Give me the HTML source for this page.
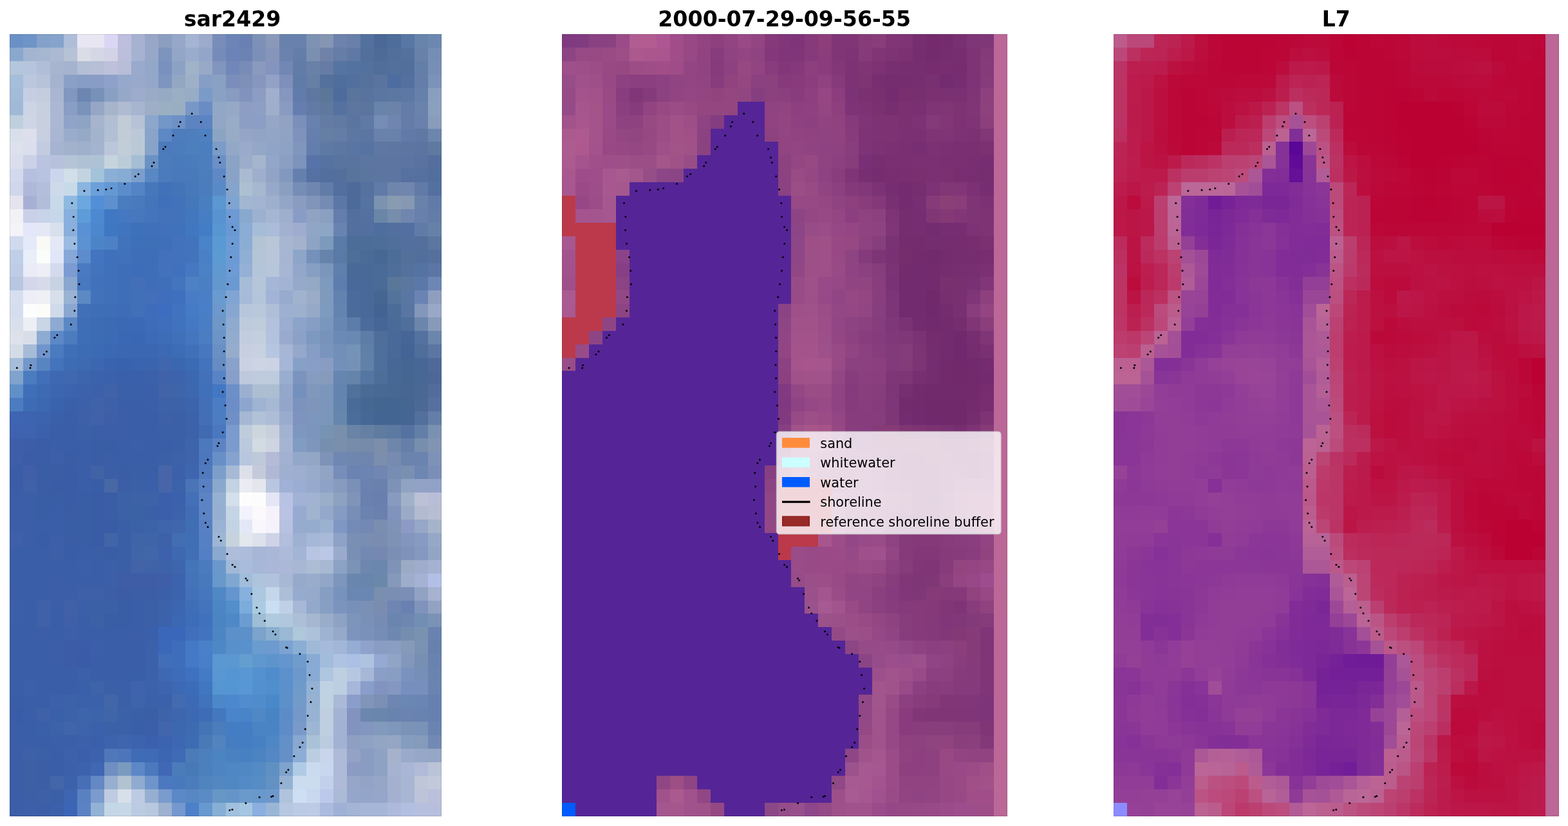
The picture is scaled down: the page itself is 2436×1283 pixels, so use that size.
<!DOCTYPE html>
<html lang="en"><head><meta charset="utf-8"><title>sar2429 shoreline detection</title>
<style>
html,body{margin:0;padding:0;background:#fff;}
body{width:2436px;height:1283px;overflow:hidden;position:relative;font-family:"DejaVu Sans","Liberation Sans",sans-serif;}
svg{position:absolute;left:0;top:0;display:block}
svg text{font-family:"DejaVu Sans","Liberation Sans",sans-serif;}
</style></head><body>
<svg width="2436" height="1283" viewBox="0 0 2436 1283">
<g shape-rendering="crispEdges">
<g id="rgb"><path fill="#6b90c6" d="M15 53h21v21h-21z"/>
<path fill="#6e94c8" d="M36 53h21v21h-21z"/>
<path fill="#83a1ca" d="M57 53h21v21h-21z"/>
<path fill="#85a3cb" d="M78 53h21v21h-21z"/>
<path fill="#afbdd9" d="M99 53h21v21h-21z"/>
<path fill="#e8e6f3" d="M120 53h21v21h-21z"/>
<path fill="#e9e5f3" d="M141 53h21v21h-21z"/>
<path fill="#dcd6f5" d="M162 53h21v21h-21z"/>
<path fill="#bebfde" d="M183 53h21v21h-21z"/>
<path fill="#a7b2d3" d="M204 53h21v21h-21z"/>
<path fill="#98a6c7" d="M225 53h21v21h-21z"/>
<path fill="#8c9ec0" d="M246 53h21v21h-21z"/>
<path fill="#96a7c9" d="M267 53h21v21h-21z"/>
<path fill="#a6b4d3" d="M288 53h21v21h-21z"/>
<path fill="#9caacb" d="M309 53h21v21h-21z"/>
<path fill="#788db9" d="M330 53h21v21h-21z"/>
<path fill="#6c85b6" d="M351 53h21v21h-21z"/>
<path fill="#6880b3" d="M372 53h20v21h-20z"/>
<path fill="#7d91b7" d="M392 53h21v21h-21z"/>
<path fill="#8b99b9" d="M413 53h21v21h-21z"/>
<path fill="#6982ad" d="M434 53h21v21h-21z"/>
<path fill="#6882ad" d="M455 53h21v21h-21z"/>
<path fill="#7e92b3" d="M476 53h21v21h-21z"/>
<path fill="#8596b3" d="M497 53h21v21h-21z"/>
<path fill="#6d82ad" d="M518 53h21v21h-21z"/>
<path fill="#6980aa" d="M539 53h21v21h-21z"/>
<path fill="#53719f" d="M560 53h21v21h-21z"/>
<path fill="#4c6896" d="M581 53h21v21h-21z"/>
<path fill="#4f6d9b" d="M602 53h21v21h-21z"/>
<path fill="#5977a5" d="M623 53h21v21h-21z"/>
<path fill="#6884ab" d="M644 53h21v21h-21z"/>
<path fill="#6c88b0" d="M665 53h21v21h-21z"/>
<path fill="#8aa8cd" d="M15 74h21v21h-21zM330 744h21v21h-21z"/>
<path fill="#a2b4d1" d="M36 74h21v21h-21zM392 304h21v21h-21z"/>
<path fill="#a5b6d0" d="M57 74h21v21h-21z"/>
<path fill="#abb9d1" d="M78 74h21v21h-21z"/>
<path fill="#b6c2d5" d="M99 74h21v21h-21z"/>
<path fill="#dadce6" d="M120 74h21v21h-21z"/>
<path fill="#d5d7e6" d="M141 74h21v21h-21z"/>
<path fill="#d3d2e7" d="M162 74h21v21h-21z"/>
<path fill="#bcbfdb" d="M183 74h21v21h-21z"/>
<path fill="#a6b2d1" d="M204 74h21v21h-21z"/>
<path fill="#96a7c8" d="M225 74h21v21h-21z"/>
<path fill="#7d94bd" d="M246 74h21v21h-21z"/>
<path fill="#93a6c7" d="M267 74h21v21h-21z"/>
<path fill="#99accc" d="M288 74h21v21h-21z"/>
<path fill="#93a5c8" d="M309 74h21v21h-21z"/>
<path fill="#758bb9" d="M330 74h21v21h-21z"/>
<path fill="#6b83b6" d="M351 74h21v21h-21z"/>
<path fill="#6b83b3" d="M372 74h20v21h-20zM539 723h21v21h-21z"/>
<path fill="#7b8fb8" d="M392 74h21v21h-21z"/>
<path fill="#8695ba" d="M413 74h21v21h-21z"/>
<path fill="#6b82af" d="M434 74h21v21h-21z"/>
<path fill="#647eaa" d="M455 74h21v21h-21z"/>
<path fill="#7b8fb0" d="M476 74h21v21h-21z"/>
<path fill="#7182a9" d="M497 74h21v21h-21z"/>
<path fill="#657da7" d="M518 74h21v21h-21z"/>
<path fill="#6079a4" d="M539 74h21v21h-21zM644 200h21v20h-21z"/>
<path fill="#526f9c" d="M560 74h21v21h-21zM623 95h21v21h-21z"/>
<path fill="#4e6b98" d="M581 74h21v21h-21z"/>
<path fill="#526e9a" d="M602 74h21v21h-21z"/>
<path fill="#54719e" d="M623 74h21v21h-21z"/>
<path fill="#6781a8" d="M644 74h21v21h-21z"/>
<path fill="#758eb3" d="M665 74h21v21h-21z"/>
<path fill="#b4c6db" d="M15 95h21v21h-21z"/>
<path fill="#b6c5dd" d="M36 95h21v21h-21z"/>
<path fill="#b0bfd7" d="M57 95h21v21h-21z"/>
<path fill="#a7b5cf" d="M78 95h21v21h-21z"/>
<path fill="#a5b3ce" d="M99 95h21v21h-21z"/>
<path fill="#b3bfd4" d="M120 95h21v21h-21zM162 200h21v20h-21z"/>
<path fill="#b7bfd7" d="M141 95h21v21h-21z"/>
<path fill="#bec1d9" d="M162 95h21v21h-21z"/>
<path fill="#b8bdd8" d="M183 95h21v21h-21z"/>
<path fill="#99aacc" d="M204 95h21v21h-21z"/>
<path fill="#93a7c8" d="M225 95h21v21h-21z"/>
<path fill="#7992bd" d="M246 95h21v21h-21z"/>
<path fill="#8ca2c5" d="M267 95h21v21h-21z"/>
<path fill="#a1b3c9" d="M288 95h21v21h-21z"/>
<path fill="#98a9c8" d="M309 95h21v21h-21z"/>
<path fill="#8295be" d="M330 95h21v21h-21z"/>
<path fill="#7287b9" d="M351 95h21v21h-21z"/>
<path fill="#788cb7" d="M372 95h20v21h-20z"/>
<path fill="#8a9abe" d="M392 95h21v21h-21z"/>
<path fill="#8494be" d="M413 95h21v21h-21z"/>
<path fill="#7287b3" d="M434 95h21v21h-21z"/>
<path fill="#627ca8" d="M455 95h21v21h-21z"/>
<path fill="#6980a7" d="M476 95h21v21h-21z"/>
<path fill="#667ca4" d="M497 95h21v21h-21z"/>
<path fill="#5674a1" d="M518 95h21v21h-21z"/>
<path fill="#54729f" d="M539 95h21v21h-21z"/>
<path fill="#54709d" d="M560 95h21v21h-21z"/>
<path fill="#516e9b" d="M581 95h21v21h-21z"/>
<path fill="#53709c" d="M602 95h21v21h-21z"/>
<path fill="#647fa7" d="M644 95h21v21h-21z"/>
<path fill="#778fb4" d="M665 95h21v21h-21z"/>
<path fill="#a5bed9" d="M15 116h21v21h-21z"/>
<path fill="#bac7df" d="M36 116h21v21h-21z"/>
<path fill="#b6c3d8" d="M57 116h21v21h-21z"/>
<path fill="#a6b3cf" d="M78 116h21v21h-21z"/>
<path fill="#8ba0c7" d="M99 116h21v21h-21z"/>
<path fill="#889dc5" d="M120 116h21v21h-21z"/>
<path fill="#899cc5" d="M141 116h21v21h-21z"/>
<path fill="#8ea1ca" d="M162 116h21v21h-21z"/>
<path fill="#96a8cb" d="M183 116h21v21h-21z"/>
<path fill="#98a9cc" d="M204 116h21v21h-21z"/>
<path fill="#95a7c9" d="M225 116h21v21h-21z"/>
<path fill="#7d95bf" d="M246 116h21v21h-21z"/>
<path fill="#93a7c3" d="M267 116h21v21h-21z"/>
<path fill="#9db0c8" d="M288 116h21v21h-21z"/>
<path fill="#869ec5" d="M309 116h21v21h-21zM476 535h21v21h-21z"/>
<path fill="#89a1c3" d="M330 116h21v21h-21z"/>
<path fill="#7b8ebb" d="M351 116h21v21h-21z"/>
<path fill="#7e8fb8" d="M372 116h20v21h-20z"/>
<path fill="#8696bf" d="M392 116h21v21h-21z"/>
<path fill="#92a1c5" d="M413 116h21v21h-21z"/>
<path fill="#7d8fba" d="M434 116h21v21h-21z"/>
<path fill="#617ba9" d="M455 116h21v21h-21z"/>
<path fill="#667fa5" d="M476 116h21v21h-21z"/>
<path fill="#54709c" d="M497 116h21v21h-21z"/>
<path fill="#506e9d" d="M518 116h21v21h-21z"/>
<path fill="#536f9d" d="M539 116h21v21h-21zM497 262h21v21h-21zM539 325h21v21h-21z"/>
<path fill="#55719c" d="M560 116h21v21h-21z"/>
<path fill="#59759f" d="M581 116h21v21h-21z"/>
<path fill="#4d6c9f" d="M602 116h21v21h-21z"/>
<path fill="#53709f" d="M623 116h21v21h-21z"/>
<path fill="#647ea9" d="M644 116h21v21h-21z"/>
<path fill="#7b93b8" d="M665 116h21v21h-21z"/>
<path fill="#a2bbd7" d="M15 137h21v21h-21z"/>
<path fill="#c5cfe4" d="M36 137h21v21h-21z"/>
<path fill="#c3cdde" d="M57 137h21v21h-21z"/>
<path fill="#aab6d1" d="M78 137h21v21h-21z"/>
<path fill="#8197c0" d="M99 137h21v21h-21z"/>
<path fill="#6c85b1" d="M120 137h21v21h-21z"/>
<path fill="#7791b9" d="M141 137h21v21h-21z"/>
<path fill="#89a0c4" d="M162 137h21v21h-21z"/>
<path fill="#96a8c8" d="M183 137h21v21h-21z"/>
<path fill="#9daccc" d="M204 137h21v21h-21z"/>
<path fill="#9aabc7" d="M225 137h21v21h-21zM623 786h21v21h-21z"/>
<path fill="#97aac4" d="M246 137h21v21h-21z"/>
<path fill="#9aaec4" d="M267 137h21v21h-21z"/>
<path fill="#97adc6" d="M288 137h21v21h-21z"/>
<path fill="#7a9ac8" d="M309 137h21v21h-21z"/>
<path fill="#89a2c3" d="M330 137h21v21h-21z"/>
<path fill="#889bc0" d="M351 137h21v21h-21z"/>
<path fill="#8293bd" d="M372 137h20v21h-20z"/>
<path fill="#8c9cc3" d="M392 137h21v21h-21z"/>
<path fill="#a1aecd" d="M413 137h21v21h-21z"/>
<path fill="#8596bf" d="M434 137h21v21h-21z"/>
<path fill="#617bab" d="M455 137h21v21h-21z"/>
<path fill="#5e77a1" d="M476 137h21v21h-21z"/>
<path fill="#5a7699" d="M497 137h21v21h-21z"/>
<path fill="#4d6b9d" d="M518 137h21v21h-21z"/>
<path fill="#5a749c" d="M539 137h21v21h-21z"/>
<path fill="#57739e" d="M560 137h21v21h-21z"/>
<path fill="#5b77a1" d="M581 137h21v21h-21z"/>
<path fill="#5c78a2" d="M602 137h21v21h-21z"/>
<path fill="#5d78a4" d="M623 137h21v21h-21z"/>
<path fill="#6580aa" d="M644 137h21v21h-21z"/>
<path fill="#8a9fbf" d="M665 137h21v21h-21z"/>
<path fill="#a0b9d7" d="M15 158h21v21h-21z"/>
<path fill="#cbd5e6" d="M36 158h21v21h-21z"/>
<path fill="#c7d0de" d="M57 158h21v21h-21z"/>
<path fill="#acb8d3" d="M78 158h21v21h-21zM78 179h21v21h-21z"/>
<path fill="#899dc5" d="M99 158h21v21h-21z"/>
<path fill="#7a93bb" d="M120 158h21v21h-21z"/>
<path fill="#96a7c5" d="M141 158h21v21h-21z"/>
<path fill="#a7b5cc" d="M162 158h21v21h-21z"/>
<path fill="#aebbd1" d="M183 158h21v21h-21z"/>
<path fill="#a7b5d0" d="M204 158h21v21h-21z"/>
<path fill="#9eaec7" d="M225 158h21v21h-21z"/>
<path fill="#9bafc3" d="M246 158h21v21h-21z"/>
<path fill="#9aaec3" d="M267 158h21v21h-21z"/>
<path fill="#7798c7" d="M288 158h21v21h-21z"/>
<path fill="#698cc5" d="M309 158h21v21h-21z"/>
<path fill="#91a7c6" d="M330 158h21v21h-21z"/>
<path fill="#95a8c5" d="M351 158h21v21h-21z"/>
<path fill="#8d9dc3" d="M372 158h20v21h-20z"/>
<path fill="#8e9fc5" d="M392 158h21v21h-21z"/>
<path fill="#9eaecb" d="M413 158h21v21h-21z"/>
<path fill="#8a9bc1" d="M434 158h21v21h-21z"/>
<path fill="#667eaf" d="M455 158h21v21h-21z"/>
<path fill="#627ba6" d="M476 158h21v21h-21z"/>
<path fill="#5e799d" d="M497 158h21v21h-21z"/>
<path fill="#54719f" d="M518 158h21v21h-21zM560 283h21v21h-21z"/>
<path fill="#5d769f" d="M539 158h21v21h-21z"/>
<path fill="#5b759f" d="M560 158h21v21h-21z"/>
<path fill="#6984aa" d="M581 158h21v21h-21z"/>
<path fill="#6b83a9" d="M602 158h21v21h-21z"/>
<path fill="#637ca8" d="M623 158h21v21h-21z"/>
<path fill="#6a83ac" d="M644 158h21v21h-21z"/>
<path fill="#8ba0bd" d="M665 158h21v21h-21z"/>
<path fill="#becfde" d="M15 179h21v21h-21z"/>
<path fill="#ced6e6" d="M36 179h21v21h-21z"/>
<path fill="#c8d0e0" d="M57 179h21v21h-21z"/>
<path fill="#90a3c8" d="M99 179h21v21h-21z"/>
<path fill="#8fa3c4" d="M120 179h21v21h-21z"/>
<path fill="#a6b4cd" d="M141 179h21v21h-21z"/>
<path fill="#b2bed1" d="M162 179h21v21h-21z"/>
<path fill="#c1ccd7" d="M183 179h21v21h-21zM183 200h21v20h-21z"/>
<path fill="#b6c2d6" d="M204 179h21v21h-21z"/>
<path fill="#8da6cb" d="M225 179h21v21h-21z"/>
<path fill="#7296c6" d="M246 179h21v21h-21z"/>
<path fill="#6d91c6" d="M267 179h21v21h-21z"/>
<path fill="#5c84c0" d="M288 179h21v21h-21z"/>
<path fill="#5c84c2" d="M309 179h21v21h-21z"/>
<path fill="#92a7c5" d="M330 179h21v21h-21z"/>
<path fill="#98abc7" d="M351 179h21v21h-21z"/>
<path fill="#8d9ec5" d="M372 179h20v21h-20z"/>
<path fill="#8c9ec5" d="M392 179h21v21h-21z"/>
<path fill="#95a6c7" d="M413 179h21v21h-21zM581 1205h21v21h-21z"/>
<path fill="#92a2c3" d="M434 179h21v21h-21zM644 912h21v21h-21zM665 933h21v20h-21z"/>
<path fill="#7b8fbb" d="M455 179h21v21h-21z"/>
<path fill="#6981ae" d="M476 179h21v21h-21z"/>
<path fill="#647ca4" d="M497 179h21v21h-21z"/>
<path fill="#607aa4" d="M518 179h21v21h-21z"/>
<path fill="#5c75a0" d="M539 179h21v21h-21z"/>
<path fill="#607aa6" d="M560 179h21v21h-21z"/>
<path fill="#758db4" d="M581 179h21v21h-21z"/>
<path fill="#7086b0" d="M602 179h21v21h-21z"/>
<path fill="#657ca9" d="M623 179h21v21h-21z"/>
<path fill="#6981ac" d="M644 179h21v21h-21z"/>
<path fill="#899dbb" d="M665 179h21v21h-21z"/>
<path fill="#d8dfe9" d="M15 200h21v20h-21z"/>
<path fill="#dde0ec" d="M36 200h21v20h-21z"/>
<path fill="#c7cfe1" d="M57 200h21v20h-21zM372 535h20v21h-20z"/>
<path fill="#a9b6d2" d="M78 200h21v20h-21z"/>
<path fill="#9aaccb" d="M99 200h21v20h-21z"/>
<path fill="#96aac7" d="M120 200h21v20h-21z"/>
<path fill="#a2b3cd" d="M141 200h21v20h-21z"/>
<path fill="#bbc8d7" d="M204 200h21v20h-21z"/>
<path fill="#8aa4c9" d="M225 200h21v20h-21z"/>
<path fill="#5c88c4" d="M246 200h21v20h-21zM120 451h21v21h-21z"/>
<path fill="#4e7cbd" d="M267 200h21v20h-21z"/>
<path fill="#4e7ebc" d="M288 200h21v20h-21z"/>
<path fill="#4f80bf" d="M309 200h21v20h-21z"/>
<path fill="#8ca4c3" d="M330 200h21v20h-21z"/>
<path fill="#97abc7" d="M351 200h21v20h-21z"/>
<path fill="#94a5c8" d="M372 200h20v20h-20z"/>
<path fill="#92a4c6" d="M392 200h21v20h-21z"/>
<path fill="#93a5c6" d="M413 200h21v20h-21z"/>
<path fill="#90a3c4" d="M434 200h21v20h-21z"/>
<path fill="#7e92bb" d="M455 200h21v20h-21z"/>
<path fill="#667eac" d="M476 200h21v20h-21z"/>
<path fill="#657ea4" d="M497 200h21v20h-21z"/>
<path fill="#647da6" d="M518 200h21v20h-21z"/>
<path fill="#5c77a2" d="M539 200h21v20h-21z"/>
<path fill="#5c76a3" d="M560 200h21v20h-21z"/>
<path fill="#6882ab" d="M581 200h21v20h-21z"/>
<path fill="#6982ab" d="M602 200h21v20h-21z"/>
<path fill="#627aa7" d="M623 200h21v20h-21zM665 304h21v21h-21z"/>
<path fill="#6d86ad" d="M665 200h21v20h-21z"/>
<path fill="#dde1ec" d="M15 220h21v21h-21z"/>
<path fill="#dbdeec" d="M36 220h21v21h-21z"/>
<path fill="#c3cbe1" d="M57 220h21v21h-21z"/>
<path fill="#a6b4d1" d="M78 220h21v21h-21z"/>
<path fill="#a2b2cd" d="M99 220h21v21h-21z"/>
<path fill="#9eb0cb" d="M120 220h21v21h-21z"/>
<path fill="#a5b4ce" d="M141 220h21v21h-21z"/>
<path fill="#bbc6da" d="M162 220h21v21h-21z"/>
<path fill="#c1ced9" d="M183 220h21v21h-21z"/>
<path fill="#bbc9d7" d="M204 220h21v21h-21z"/>
<path fill="#87a3c7" d="M225 220h21v21h-21z"/>
<path fill="#4c7abc" d="M246 220h21v21h-21z"/>
<path fill="#4c7cbc" d="M267 220h21v21h-21zM246 241h21v21h-21zM288 1205h21v21h-21z"/>
<path fill="#4c7fbb" d="M288 220h21v21h-21z"/>
<path fill="#4b7ebe" d="M309 220h21v21h-21z"/>
<path fill="#7b9bc9" d="M330 220h21v21h-21z"/>
<path fill="#92a8c6" d="M351 220h21v21h-21z"/>
<path fill="#99aaca" d="M372 220h20v21h-20zM623 1163h21v21h-21z"/>
<path fill="#94a7c7" d="M392 220h21v21h-21z"/>
<path fill="#8fa4c6" d="M413 220h21v21h-21z"/>
<path fill="#8ea3c4" d="M434 220h21v21h-21zM518 953h21v21h-21z"/>
<path fill="#8096bd" d="M455 220h21v21h-21z"/>
<path fill="#637dac" d="M476 220h21v21h-21z"/>
<path fill="#5e79a4" d="M497 220h21v21h-21z"/>
<path fill="#5c77a1" d="M518 220h21v21h-21z"/>
<path fill="#5975a2" d="M539 220h21v21h-21z"/>
<path fill="#5773a2" d="M560 220h21v21h-21z"/>
<path fill="#5e78a3" d="M581 220h21v21h-21z"/>
<path fill="#5d77a2" d="M602 220h21v21h-21z"/>
<path fill="#5c75a1" d="M623 220h21v21h-21zM602 241h21v21h-21z"/>
<path fill="#5b74a0" d="M644 220h21v21h-21z"/>
<path fill="#5f79a1" d="M665 220h21v21h-21z"/>
<path fill="#dadeed" d="M15 241h21v21h-21z"/>
<path fill="#cbd1e6" d="M36 241h21v21h-21z"/>
<path fill="#bac3df" d="M57 241h21v21h-21z"/>
<path fill="#b7c1dc" d="M78 241h21v21h-21z"/>
<path fill="#b5c4d7" d="M99 241h21v21h-21z"/>
<path fill="#afc1d4" d="M120 241h21v21h-21z"/>
<path fill="#aec2d5" d="M141 241h21v21h-21z"/>
<path fill="#c6d4dd" d="M162 241h21v21h-21z"/>
<path fill="#bbccd9" d="M183 241h21v21h-21z"/>
<path fill="#a6bed3" d="M204 241h21v21h-21z"/>
<path fill="#6b92c4" d="M225 241h21v21h-21z"/>
<path fill="#4a7abc" d="M267 241h21v21h-21z"/>
<path fill="#4a7cbc" d="M288 241h21v21h-21z"/>
<path fill="#4c7ebd" d="M309 241h21v21h-21z"/>
<path fill="#6b90c7" d="M330 241h21v21h-21z"/>
<path fill="#8ba3c5" d="M351 241h21v21h-21z"/>
<path fill="#9caccb" d="M372 241h20v21h-20z"/>
<path fill="#a5b5cd" d="M392 241h21v21h-21z"/>
<path fill="#91a6c8" d="M413 241h21v21h-21z"/>
<path fill="#8a9fc2" d="M434 241h21v21h-21z"/>
<path fill="#7c93bb" d="M455 241h21v21h-21z"/>
<path fill="#5773a9" d="M476 241h21v21h-21z"/>
<path fill="#5672a1" d="M497 241h21v21h-21zM560 304h21v21h-21z"/>
<path fill="#59749f" d="M518 241h21v21h-21z"/>
<path fill="#5a749f" d="M539 241h21v21h-21z"/>
<path fill="#5b76a1" d="M560 241h21v21h-21z"/>
<path fill="#5c76a1" d="M581 241h21v21h-21zM581 262h21v21h-21z"/>
<path fill="#5b74a1" d="M623 241h21v21h-21z"/>
<path fill="#59729f" d="M644 241h21v21h-21z"/>
<path fill="#546f9e" d="M665 241h21v21h-21z"/>
<path fill="#d3d9ec" d="M15 262h21v21h-21z"/>
<path fill="#b6bfde" d="M36 262h21v21h-21z"/>
<path fill="#b8c2e1" d="M57 262h21v21h-21z"/>
<path fill="#cbd5ec" d="M78 262h21v21h-21z"/>
<path fill="#d2dee8" d="M99 262h21v21h-21z"/>
<path fill="#c3d4e0" d="M120 262h21v21h-21z"/>
<path fill="#a2c3d9" d="M141 262h21v21h-21z"/>
<path fill="#8aaed6" d="M162 262h21v21h-21z"/>
<path fill="#87acd3" d="M183 262h21v21h-21z"/>
<path fill="#7b9fcd" d="M204 262h21v21h-21z"/>
<path fill="#5987c4" d="M225 262h21v21h-21z"/>
<path fill="#4b7bbc" d="M246 262h21v21h-21z"/>
<path fill="#4979ba" d="M267 262h21v21h-21z"/>
<path fill="#4979b9" d="M288 262h21v21h-21z"/>
<path fill="#4b7cbc" d="M309 262h21v21h-21zM330 1121h21v21h-21z"/>
<path fill="#5f88c6" d="M330 262h21v21h-21z"/>
<path fill="#88a3c6" d="M351 262h21v21h-21z"/>
<path fill="#aabbd1" d="M372 262h20v21h-20z"/>
<path fill="#9eafcd" d="M392 262h21v21h-21zM413 304h21v21h-21z"/>
<path fill="#91a4c6" d="M413 262h21v21h-21z"/>
<path fill="#8398be" d="M434 262h21v21h-21z"/>
<path fill="#6680ae" d="M455 262h21v21h-21z"/>
<path fill="#5571a3" d="M476 262h21v21h-21z"/>
<path fill="#546f9b" d="M518 262h21v21h-21z"/>
<path fill="#58739c" d="M539 262h21v21h-21z"/>
<path fill="#5a759e" d="M560 262h21v21h-21z"/>
<path fill="#5d76a1" d="M602 262h21v21h-21z"/>
<path fill="#5670a0" d="M623 262h21v21h-21z"/>
<path fill="#556f9e" d="M644 262h21v21h-21z"/>
<path fill="#526e9d" d="M665 262h21v21h-21z"/>
<path fill="#d0d6eb" d="M15 283h21v21h-21z"/>
<path fill="#afb8d8" d="M36 283h21v21h-21z"/>
<path fill="#b3bedc" d="M57 283h21v21h-21z"/>
<path fill="#cedaea" d="M78 283h21v21h-21z"/>
<path fill="#c8dae8" d="M99 283h21v21h-21z"/>
<path fill="#89b5df" d="M120 283h21v21h-21z"/>
<path fill="#6ba0da" d="M141 283h21v21h-21z"/>
<path fill="#6498d4" d="M162 283h21v21h-21z"/>
<path fill="#5b8ccb" d="M183 283h21v21h-21z"/>
<path fill="#5484c5" d="M204 283h21v21h-21z"/>
<path fill="#4777bb" d="M225 283h21v21h-21z"/>
<path fill="#4171b8" d="M246 283h21v21h-21z"/>
<path fill="#4474b8" d="M267 283h21v21h-21z"/>
<path fill="#4878ba" d="M288 283h21v21h-21z"/>
<path fill="#4b7dbd" d="M309 283h21v21h-21z"/>
<path fill="#598ac8" d="M330 283h21v21h-21z"/>
<path fill="#85a4cb" d="M351 283h21v21h-21z"/>
<path fill="#adc0d2" d="M372 283h20v21h-20z"/>
<path fill="#a5b8cf" d="M392 283h21v21h-21z"/>
<path fill="#97a9c9" d="M413 283h21v21h-21z"/>
<path fill="#8b9fc1" d="M434 283h21v21h-21z"/>
<path fill="#768eb6" d="M455 283h21v21h-21z"/>
<path fill="#6f87b0" d="M476 283h21v21h-21z"/>
<path fill="#617ca7" d="M497 283h21v21h-21z"/>
<path fill="#536f9f" d="M518 283h21v21h-21z"/>
<path fill="#4d6a9a" d="M539 283h21v21h-21z"/>
<path fill="#617ba8" d="M581 283h21v21h-21z"/>
<path fill="#6f85ac" d="M602 283h21v21h-21z"/>
<path fill="#7186ae" d="M623 283h21v21h-21zM623 325h21v21h-21z"/>
<path fill="#617aa6" d="M644 283h21v21h-21z"/>
<path fill="#5470a0" d="M665 283h21v21h-21z"/>
<path fill="#e4e4ef" d="M15 304h21v21h-21z"/>
<path fill="#a7b0d4" d="M36 304h21v21h-21z"/>
<path fill="#b2bed9" d="M57 304h21v21h-21z"/>
<path fill="#c8d9ea" d="M78 304h21v21h-21z"/>
<path fill="#8ebae2" d="M99 304h21v21h-21z"/>
<path fill="#6ca7df" d="M120 304h21v21h-21z"/>
<path fill="#538fd7" d="M141 304h21v21h-21z"/>
<path fill="#5d90cd" d="M162 304h21v21h-21z"/>
<path fill="#4a7cc0" d="M183 304h21v21h-21z"/>
<path fill="#497abd" d="M204 304h21v21h-21z"/>
<path fill="#4474ba" d="M225 304h21v21h-21z"/>
<path fill="#4070b9" d="M246 304h21v21h-21zM309 597h21v21h-21z"/>
<path fill="#4272b9" d="M267 304h21v21h-21z"/>
<path fill="#4577bb" d="M288 304h21v21h-21z"/>
<path fill="#497ebf" d="M309 304h21v21h-21z"/>
<path fill="#5b97d0" d="M330 304h21v21h-21zM330 1016h42v21h-42z"/>
<path fill="#7fa4d2" d="M351 304h21v21h-21z"/>
<path fill="#a2b6d1" d="M372 304h20v21h-20z"/>
<path fill="#94a6c7" d="M434 304h21v21h-21z"/>
<path fill="#8a9dc0" d="M455 304h21v21h-21z"/>
<path fill="#8095b9" d="M476 304h21v21h-21z"/>
<path fill="#768bb3" d="M497 304h21v21h-21z"/>
<path fill="#5b77a6" d="M518 304h21v21h-21z"/>
<path fill="#4d6b9a" d="M539 304h21v21h-21z"/>
<path fill="#7b93b0" d="M581 304h21v21h-21z"/>
<path fill="#889bb0" d="M602 304h21v21h-21z"/>
<path fill="#8698b2" d="M623 304h21v21h-21z"/>
<path fill="#6982ac" d="M644 304h21v21h-21z"/>
<path fill="#f1f1f6" d="M15 325h21v21h-21z"/>
<path fill="#cad0e8" d="M36 325h21v21h-21z"/>
<path fill="#c8d2e8" d="M57 325h21v21h-21z"/>
<path fill="#c7d7ea" d="M78 325h21v21h-21z"/>
<path fill="#88afde" d="M99 325h21v21h-21z"/>
<path fill="#5c9cd8" d="M120 325h21v21h-21z"/>
<path fill="#4d89d1" d="M141 325h21v21h-21z"/>
<path fill="#4178c3" d="M162 325h21v21h-21z"/>
<path fill="#4478c0" d="M183 325h21v21h-21z"/>
<path fill="#4777bc" d="M204 325h21v21h-21z"/>
<path fill="#4474bc" d="M225 325h21v21h-21z"/>
<path fill="#4372bb" d="M246 325h21v21h-21z"/>
<path fill="#4272ba" d="M267 325h21v21h-21zM141 451h21v21h-21z"/>
<path fill="#4277bd" d="M288 325h21v21h-21z"/>
<path fill="#477ec3" d="M309 325h21v21h-21z"/>
<path fill="#5892d0" d="M330 325h21v21h-21z"/>
<path fill="#6d9ad4" d="M351 325h21v21h-21z"/>
<path fill="#89a8cf" d="M372 325h20v21h-20z"/>
<path fill="#9cb1cf" d="M392 325h21v21h-21z"/>
<path fill="#a5b6d3" d="M413 325h21v21h-21z"/>
<path fill="#9eaecd" d="M434 325h21v21h-21z"/>
<path fill="#899cc6" d="M455 325h21v21h-21z"/>
<path fill="#90a3c3" d="M476 325h21v21h-21z"/>
<path fill="#8b9fc0" d="M497 325h21v21h-21z"/>
<path fill="#647dac" d="M518 325h21v21h-21z"/>
<path fill="#5370a0" d="M560 325h21v21h-21z"/>
<path fill="#6a86a7" d="M581 325h21v21h-21z"/>
<path fill="#768dac" d="M602 325h21v21h-21z"/>
<path fill="#6880ac" d="M644 325h21v21h-21z"/>
<path fill="#647da8" d="M665 325h21v21h-21z"/>
<path fill="#f3f3f8" d="M15 346h21v21h-21z"/>
<path fill="#e4e7f9" d="M36 346h21v21h-21z"/>
<path fill="#e4e8f5" d="M57 346h21v21h-21z"/>
<path fill="#d8e0ed" d="M78 346h21v21h-21z"/>
<path fill="#8aafdc" d="M99 346h21v21h-21z"/>
<path fill="#5991d4" d="M120 346h21v21h-21z"/>
<path fill="#4c87cd" d="M141 346h21v21h-21z"/>
<path fill="#4077c3" d="M162 346h21v21h-21z"/>
<path fill="#4074be" d="M183 346h21v21h-21z"/>
<path fill="#3d71b9" d="M204 346h21v21h-21z"/>
<path fill="#4070ba" d="M225 346h21v21h-21zM267 514h21v21h-21z"/>
<path fill="#4270bb" d="M246 346h21v21h-21z"/>
<path fill="#4071bb" d="M267 346h21v21h-21z"/>
<path fill="#4177c1" d="M288 346h21v21h-21z"/>
<path fill="#437dc5" d="M309 346h21v21h-21z"/>
<path fill="#5896d2" d="M330 346h21v21h-21z"/>
<path fill="#6999d4" d="M351 346h21v21h-21z"/>
<path fill="#8aacd5" d="M372 346h20v21h-20z"/>
<path fill="#a6bdd7" d="M392 346h21v21h-21z"/>
<path fill="#aabcd8" d="M413 346h21v21h-21z"/>
<path fill="#a2b1d0" d="M434 346h21v21h-21z"/>
<path fill="#9faccf" d="M455 346h21v21h-21z"/>
<path fill="#91a6c7" d="M476 346h21v21h-21z"/>
<path fill="#8ea6c5" d="M497 346h21v21h-21z"/>
<path fill="#6983b1" d="M518 346h21v21h-21z"/>
<path fill="#526f9e" d="M539 346h21v21h-21zM623 367h21v21h-21z"/>
<path fill="#526f9f" d="M560 346h21v21h-21z"/>
<path fill="#4e6e9f" d="M581 346h21v21h-21z"/>
<path fill="#526fa0" d="M602 346h21v21h-21z"/>
<path fill="#536fa1" d="M623 346h21v21h-21z"/>
<path fill="#617ba7" d="M644 346h21v21h-21z"/>
<path fill="#6780a8" d="M665 346h21v21h-21z"/>
<path fill="#d0daed" d="M15 367h21v21h-21z"/>
<path fill="#e4eaf8" d="M36 367h21v21h-21z"/>
<path fill="#f9f9f5" d="M57 367h21v21h-21z"/>
<path fill="#e4e8f6" d="M78 367h21v21h-21zM372 807h20v21h-20z"/>
<path fill="#9bbbe1" d="M99 367h21v21h-21z"/>
<path fill="#5c92d1" d="M120 367h21v21h-21z"/>
<path fill="#4c84c8" d="M141 367h21v21h-21z"/>
<path fill="#4c81c6" d="M162 367h21v21h-21z"/>
<path fill="#4173bc" d="M183 367h21v21h-21z"/>
<path fill="#3e70b9" d="M204 367h21v21h-21z"/>
<path fill="#3e70b8" d="M225 367h21v21h-21z"/>
<path fill="#3f6fb9" d="M246 367h21v21h-21z"/>
<path fill="#4272bb" d="M267 367h21v21h-21z"/>
<path fill="#4274bd" d="M288 367h21v21h-21z"/>
<path fill="#4983c8" d="M309 367h21v21h-21z"/>
<path fill="#5a9ad4" d="M330 367h21v21h-21z"/>
<path fill="#6c9bd6" d="M351 367h21v21h-21z"/>
<path fill="#8badd4" d="M372 367h20v21h-20z"/>
<path fill="#b3c4d4" d="M392 367h21v21h-21z"/>
<path fill="#b9c6d7" d="M413 367h21v21h-21z"/>
<path fill="#a7b6d1" d="M434 367h21v21h-21z"/>
<path fill="#a5b2cd" d="M455 367h21v21h-21z"/>
<path fill="#8da4c4" d="M476 367h21v21h-21z"/>
<path fill="#7c9abb" d="M497 367h21v21h-21z"/>
<path fill="#5a7ba8" d="M518 367h21v21h-21z"/>
<path fill="#4d6d99" d="M539 367h42v21h-42zM602 388h21v21h-21z"/>
<path fill="#4d6e99" d="M581 367h21v21h-21zM581 576h21v21h-21z"/>
<path fill="#506f9b" d="M602 367h21v21h-21zM623 493h21v21h-21z"/>
<path fill="#546f9c" d="M644 367h21v21h-21z"/>
<path fill="#5b769f" d="M665 367h21v21h-21z"/>
<path fill="#bfcfe7" d="M15 388h21v21h-21z"/>
<path fill="#e8eff9" d="M36 388h21v21h-21z"/>
<path fill="#fbfdfb" d="M57 388h21v21h-21z"/>
<path fill="#e1e6f9" d="M78 388h21v21h-21z"/>
<path fill="#87a7d9" d="M99 388h21v21h-21z"/>
<path fill="#5c8ccb" d="M120 388h21v21h-21z"/>
<path fill="#4374be" d="M141 388h21v21h-21z"/>
<path fill="#3f70bc" d="M162 388h21v21h-21z"/>
<path fill="#4171ba" d="M183 388h21v21h-21zM141 430h21v21h-21z"/>
<path fill="#3e6eb8" d="M204 388h42v21h-42zM183 409h21v21h-21zM183 430h21v21h-21zM288 933h21v20h-21z"/>
<path fill="#4371bb" d="M246 388h21v21h-21zM246 409h21v21h-21z"/>
<path fill="#4272bc" d="M267 388h21v21h-21z"/>
<path fill="#4274bc" d="M288 388h21v21h-21z"/>
<path fill="#4a81c6" d="M309 388h21v21h-21z"/>
<path fill="#5b9bd2" d="M330 388h21v21h-21z"/>
<path fill="#6c9ad4" d="M351 388h21v21h-21z"/>
<path fill="#8fafd5" d="M372 388h20v21h-20z"/>
<path fill="#b3c5d6" d="M392 388h21v21h-21z"/>
<path fill="#b9c6d9" d="M413 388h21v21h-21z"/>
<path fill="#a6b6d2" d="M434 388h21v21h-21z"/>
<path fill="#8da5c9" d="M455 388h21v21h-21z"/>
<path fill="#7590bb" d="M476 388h21v21h-21z"/>
<path fill="#6684ab" d="M497 388h21v21h-21z"/>
<path fill="#597aa6" d="M518 388h21v21h-21z"/>
<path fill="#4f6f98" d="M539 388h21v21h-21z"/>
<path fill="#4b6b97" d="M560 388h21v21h-21zM581 430h21v21h-21z"/>
<path fill="#476894" d="M581 388h21v21h-21z"/>
<path fill="#52709a" d="M623 388h21v21h-21z"/>
<path fill="#516e9d" d="M644 388h21v21h-21z"/>
<path fill="#55709d" d="M665 388h21v21h-21z"/>
<path fill="#becde5" d="M15 409h21v21h-21z"/>
<path fill="#e9ebf6" d="M36 409h21v21h-21z"/>
<path fill="#eeeff6" d="M57 409h21v21h-21z"/>
<path fill="#d4daee" d="M78 409h21v21h-21z"/>
<path fill="#7b9bd2" d="M99 409h21v21h-21z"/>
<path fill="#497ac2" d="M120 409h21v21h-21z"/>
<path fill="#4273bc" d="M141 409h21v21h-21z"/>
<path fill="#3f70ba" d="M162 409h21v21h-21z"/>
<path fill="#3d6db8" d="M204 409h21v21h-21z"/>
<path fill="#3f6eb8" d="M225 409h21v21h-21zM183 451h21v21h-21z"/>
<path fill="#4171bc" d="M267 409h21v21h-21z"/>
<path fill="#4578c0" d="M288 409h21v21h-21z"/>
<path fill="#4b81c5" d="M309 409h21v21h-21z"/>
<path fill="#6098d0" d="M330 409h21v21h-21z"/>
<path fill="#6e9bd5" d="M351 409h21v21h-21z"/>
<path fill="#95b0d5" d="M372 409h20v21h-20z"/>
<path fill="#b3c5d8" d="M392 409h21v21h-21z"/>
<path fill="#b7c6db" d="M413 409h21v21h-21z"/>
<path fill="#a6b6d3" d="M434 409h21v21h-21z"/>
<path fill="#92a7ca" d="M455 409h21v21h-21z"/>
<path fill="#869fc2" d="M476 409h21v21h-21z"/>
<path fill="#7a96ba" d="M497 409h21v21h-21z"/>
<path fill="#5f7fac" d="M518 409h21v21h-21z"/>
<path fill="#496a99" d="M539 409h21v21h-21z"/>
<path fill="#496997" d="M560 409h21v21h-21z"/>
<path fill="#4a6b97" d="M581 409h21v21h-21z"/>
<path fill="#506e9a" d="M602 409h21v21h-21zM644 535h21v21h-21z"/>
<path fill="#53719c" d="M623 409h21v21h-21z"/>
<path fill="#5573a2" d="M644 409h21v21h-21z"/>
<path fill="#5b76a4" d="M665 409h21v21h-21z"/>
<path fill="#b8c6e2" d="M15 430h21v21h-21z"/>
<path fill="#d4d7ec" d="M36 430h21v21h-21z"/>
<path fill="#d7dbe9" d="M57 430h21v21h-21z"/>
<path fill="#c7d3e3" d="M78 430h21v21h-21z"/>
<path fill="#8aa7cf" d="M99 430h21v21h-21z"/>
<path fill="#4878bf" d="M120 430h21v21h-21z"/>
<path fill="#4070b8" d="M162 430h21v21h-21zM162 451h21v21h-21zM288 535h21v21h-21z"/>
<path fill="#426fb8" d="M204 430h21v21h-21z"/>
<path fill="#3f6db8" d="M225 430h21v21h-21z"/>
<path fill="#406fb9" d="M246 430h21v21h-21zM36 597h21v21h-21z"/>
<path fill="#4375be" d="M267 430h21v21h-21z"/>
<path fill="#4e80c4" d="M288 430h21v21h-21z"/>
<path fill="#4a7fc4" d="M309 430h21v21h-21z"/>
<path fill="#6398cf" d="M330 430h21v21h-21z"/>
<path fill="#6b99d2" d="M351 430h21v21h-21z"/>
<path fill="#a6bcd7" d="M372 430h20v21h-20z"/>
<path fill="#b6c6d9" d="M392 430h21v21h-21z"/>
<path fill="#a5b7d6" d="M413 430h21v21h-21z"/>
<path fill="#a3b3d3" d="M434 430h21v21h-21zM518 1100h21v21h-21z"/>
<path fill="#96a9ca" d="M455 430h21v21h-21z"/>
<path fill="#93a9c5" d="M476 430h21v21h-21z"/>
<path fill="#7e9abd" d="M497 430h21v21h-21zM497 451h21v21h-21z"/>
<path fill="#5c7dae" d="M518 430h21v21h-21z"/>
<path fill="#49699b" d="M539 430h21v21h-21z"/>
<path fill="#496999" d="M560 430h21v21h-21zM560 451h21v21h-21zM602 514h21v21h-21zM602 535h21v21h-21z"/>
<path fill="#5a779a" d="M602 430h21v21h-21z"/>
<path fill="#5b779f" d="M623 430h21v21h-21z"/>
<path fill="#5b78a9" d="M644 430h21v21h-21z"/>
<path fill="#6d86b3" d="M665 430h21v21h-21z"/>
<path fill="#d7deef" d="M15 451h21v21h-21z"/>
<path fill="#edeef7" d="M36 451h21v21h-21z"/>
<path fill="#eff0f5" d="M57 451h21v21h-21z"/>
<path fill="#d6dfea" d="M78 451h21v21h-21z"/>
<path fill="#9ab2d3" d="M99 451h21v21h-21zM330 807h21v21h-21z"/>
<path fill="#416fb8" d="M204 451h21v21h-21zM204 472h21v21h-21z"/>
<path fill="#436fba" d="M225 451h21v21h-21z"/>
<path fill="#406ebc" d="M246 451h21v21h-21z"/>
<path fill="#3f6fbf" d="M267 451h21v21h-21z"/>
<path fill="#497cc4" d="M288 451h21v21h-21z"/>
<path fill="#4a7fc6" d="M309 451h21v21h-21z"/>
<path fill="#6a9bd0" d="M330 451h21v21h-21z"/>
<path fill="#80a4d3" d="M351 451h21v21h-21z"/>
<path fill="#a6bbd7" d="M372 451h20v21h-20zM36 535h21v21h-21z"/>
<path fill="#b3c5da" d="M392 451h21v21h-21z"/>
<path fill="#a2b4d5" d="M413 451h21v21h-21z"/>
<path fill="#97abcf" d="M434 451h21v21h-21zM455 807h21v21h-21z"/>
<path fill="#a1b2cf" d="M455 451h21v21h-21z"/>
<path fill="#9aacc8" d="M476 451h21v21h-21z"/>
<path fill="#6282b0" d="M518 451h21v21h-21z"/>
<path fill="#4a6b9c" d="M539 451h21v21h-21z"/>
<path fill="#466692" d="M581 451h21v21h-21z"/>
<path fill="#53739b" d="M602 451h21v21h-21z"/>
<path fill="#5a77a3" d="M623 451h21v21h-21z"/>
<path fill="#6b83b4" d="M644 451h21v21h-21z"/>
<path fill="#8e9ebf" d="M665 451h21v21h-21z"/>
<path fill="#d5deef" d="M15 472h21v21h-21z"/>
<path fill="#fcfefd" d="M36 472h21v21h-21z"/>
<path fill="#fcfcf9" d="M57 472h21v21h-21z"/>
<path fill="#cfdbea" d="M78 472h21v21h-21z"/>
<path fill="#8ba7d0" d="M99 472h21v21h-21z"/>
<path fill="#4170b8" d="M120 472h21v21h-21z"/>
<path fill="#3e6eb6" d="M141 472h42v21h-42zM120 514h21v21h-21z"/>
<path fill="#3e6cb6" d="M183 472h21v21h-21zM309 1100h21v21h-21z"/>
<path fill="#3e6cba" d="M225 472h21v21h-21z"/>
<path fill="#3d6dbf" d="M246 472h21v21h-21z"/>
<path fill="#4072c0" d="M267 472h21v21h-21z"/>
<path fill="#457ac5" d="M288 472h21v21h-21z"/>
<path fill="#497fc6" d="M309 472h21v21h-21z"/>
<path fill="#6c98cc" d="M330 472h21v21h-21zM455 1037h21v21h-21z"/>
<path fill="#87a7d2" d="M351 472h21v21h-21z"/>
<path fill="#b7c6dc" d="M372 472h20v21h-20z"/>
<path fill="#bac8dc" d="M392 472h21v21h-21z"/>
<path fill="#afbfd8" d="M413 472h21v21h-21z"/>
<path fill="#9eb0d1" d="M434 472h21v21h-21z"/>
<path fill="#9db0ce" d="M455 472h21v21h-21z"/>
<path fill="#96aac8" d="M476 472h21v21h-21z"/>
<path fill="#7d9abf" d="M497 472h21v21h-21z"/>
<path fill="#6484b0" d="M518 472h21v21h-21z"/>
<path fill="#4b6b9b" d="M539 472h21v21h-21z"/>
<path fill="#486999" d="M560 472h21v21h-21z"/>
<path fill="#436493" d="M581 472h21v21h-21z"/>
<path fill="#4c6c98" d="M602 472h21v21h-21z"/>
<path fill="#5976a2" d="M623 472h21v21h-21z"/>
<path fill="#8397bb" d="M644 472h21v21h-21z"/>
<path fill="#9aa8c7" d="M665 472h21v21h-21z"/>
<path fill="#d8e0ec" d="M15 493h21v21h-21z"/>
<path fill="#ecf0f4" d="M36 493h21v21h-21z"/>
<path fill="#c8d6e6" d="M57 493h21v21h-21z"/>
<path fill="#8eaad3" d="M78 493h21v21h-21z"/>
<path fill="#5c88c5" d="M99 493h21v21h-21z"/>
<path fill="#3f6eb7" d="M120 493h21v21h-21z"/>
<path fill="#3d6cb5" d="M141 493h21v21h-21z"/>
<path fill="#3c6ab4" d="M162 493h21v21h-21zM162 514h21v21h-21zM141 535h21v21h-21z"/>
<path fill="#3b69b4" d="M183 493h21v21h-21z"/>
<path fill="#3b69b5" d="M204 493h21v21h-21z"/>
<path fill="#3e6cb8" d="M225 493h21v21h-21zM267 1037h21v21h-21z"/>
<path fill="#3e6ebc" d="M246 493h21v21h-21z"/>
<path fill="#4072be" d="M267 493h21v21h-21z"/>
<path fill="#4478c2" d="M288 493h21v21h-21z"/>
<path fill="#4a7ec4" d="M309 493h21v21h-21z"/>
<path fill="#6e97c8" d="M330 493h21v21h-21z"/>
<path fill="#8eaacf" d="M351 493h21v21h-21z"/>
<path fill="#becbde" d="M372 493h20v21h-20zM413 576h21v21h-21z"/>
<path fill="#beccdc" d="M392 493h21v21h-21zM372 660h20v21h-20z"/>
<path fill="#b3c1dc" d="M413 493h21v21h-21z"/>
<path fill="#9badd1" d="M434 493h21v21h-21z"/>
<path fill="#8ca3ca" d="M455 493h21v21h-21z"/>
<path fill="#869ec3" d="M476 493h21v21h-21z"/>
<path fill="#7997bd" d="M497 493h21v21h-21z"/>
<path fill="#6787b2" d="M518 493h21v21h-21z"/>
<path fill="#5c7ca9" d="M539 493h21v21h-21z"/>
<path fill="#4b6b9c" d="M560 493h21v21h-21z"/>
<path fill="#456696" d="M581 493h21v21h-21z"/>
<path fill="#4a6a98" d="M602 493h21v21h-21z"/>
<path fill="#6c86ab" d="M644 493h21v21h-21zM665 514h21v21h-21z"/>
<path fill="#879ab9" d="M665 493h21v21h-21z"/>
<path fill="#dde2ea" d="M15 514h21v21h-21z"/>
<path fill="#d8dee8" d="M36 514h21v21h-21z"/>
<path fill="#8eabd1" d="M57 514h21v21h-21z"/>
<path fill="#5c88c7" d="M78 514h21v21h-21z"/>
<path fill="#4c7cbe" d="M99 514h21v21h-21z"/>
<path fill="#3c6cb4" d="M141 514h21v21h-21zM120 535h21v21h-21z"/>
<path fill="#3a68b4" d="M183 514h21v21h-21z"/>
<path fill="#3a67b4" d="M204 514h21v21h-21z"/>
<path fill="#3c6ab6" d="M225 514h21v21h-21z"/>
<path fill="#3e6db8" d="M246 514h21v21h-21z"/>
<path fill="#4476be" d="M288 514h21v21h-21z"/>
<path fill="#4b7dc2" d="M309 514h21v21h-21z"/>
<path fill="#6c94c7" d="M330 514h21v21h-21z"/>
<path fill="#92accf" d="M351 514h21v21h-21z"/>
<path fill="#c3cde0" d="M372 514h20v21h-20z"/>
<path fill="#c3cfdf" d="M392 514h21v21h-21z"/>
<path fill="#b3c3de" d="M413 514h21v21h-21z"/>
<path fill="#9aaacf" d="M434 514h21v21h-21z"/>
<path fill="#8ca1c7" d="M455 514h21v21h-21z"/>
<path fill="#7e99bf" d="M476 514h21v21h-21z"/>
<path fill="#7793bc" d="M497 514h21v21h-21z"/>
<path fill="#6b8bb6" d="M518 514h21v21h-21z"/>
<path fill="#6989b2" d="M539 514h21v21h-21z"/>
<path fill="#5e7da6" d="M560 514h21v21h-21z"/>
<path fill="#4f6e9a" d="M581 514h21v21h-21z"/>
<path fill="#466698" d="M623 514h21v21h-21z"/>
<path fill="#5471a0" d="M644 514h21v21h-21z"/>
<path fill="#d4dce6" d="M15 535h21v21h-21z"/>
<path fill="#7094cb" d="M57 535h21v21h-21z"/>
<path fill="#4a7abf" d="M78 535h21v21h-21z"/>
<path fill="#3e6fb7" d="M99 535h21v21h-21z"/>
<path fill="#3a68b2" d="M162 535h21v21h-21z"/>
<path fill="#3a66b2" d="M183 535h42v21h-42z"/>
<path fill="#3b66b2" d="M225 535h21v21h-21z"/>
<path fill="#3c68b4" d="M246 535h21v21h-21z"/>
<path fill="#3d6cb6" d="M267 535h21v21h-21z"/>
<path fill="#4777be" d="M309 535h21v21h-21z"/>
<path fill="#6990c5" d="M330 535h21v21h-21z"/>
<path fill="#95accd" d="M351 535h21v21h-21z"/>
<path fill="#c7d1e1" d="M392 535h21v21h-21z"/>
<path fill="#b6c6e0" d="M413 535h21v21h-21z"/>
<path fill="#a6b6d5" d="M434 535h21v21h-21z"/>
<path fill="#95a8cb" d="M455 535h21v21h-21z"/>
<path fill="#7995be" d="M497 535h21v21h-21z"/>
<path fill="#728fb9" d="M518 535h21v21h-21z"/>
<path fill="#7593b7" d="M539 535h21v21h-21z"/>
<path fill="#6180a8" d="M560 535h21v21h-21z"/>
<path fill="#4e6e9c" d="M581 535h21v21h-21zM581 556h21v20h-21z"/>
<path fill="#446497" d="M623 535h21v21h-21z"/>
<path fill="#5b76a3" d="M665 535h21v21h-21z"/>
<path fill="#a6bed9" d="M15 556h21v20h-21z"/>
<path fill="#7397ca" d="M36 556h21v20h-21z"/>
<path fill="#5884c2" d="M57 556h21v20h-21z"/>
<path fill="#4373ba" d="M78 556h21v20h-21zM309 556h21v20h-21z"/>
<path fill="#3e6cb4" d="M99 556h21v20h-21z"/>
<path fill="#3e6ab2" d="M120 556h21v20h-21z"/>
<path fill="#3c67b0" d="M141 556h21v20h-21z"/>
<path fill="#3963ae" d="M162 556h21v20h-21z"/>
<path fill="#3962ae" d="M183 556h21v20h-21z"/>
<path fill="#3a64af" d="M204 556h21v20h-21z"/>
<path fill="#3b64ae" d="M225 556h21v20h-21z"/>
<path fill="#4066ad" d="M246 556h21v20h-21zM267 807h21v21h-21z"/>
<path fill="#3b67b0" d="M267 556h21v20h-21z"/>
<path fill="#3b6bb4" d="M288 556h21v20h-21z"/>
<path fill="#668cc3" d="M330 556h21v20h-21z"/>
<path fill="#89a2cb" d="M351 556h21v20h-21z"/>
<path fill="#cad1e3" d="M372 556h20v20h-20z"/>
<path fill="#cdd4e3" d="M392 556h21v20h-21z"/>
<path fill="#cbd3e5" d="M413 556h21v20h-21z"/>
<path fill="#a6b6d7" d="M434 556h21v20h-21zM560 1247h42v21h-42z"/>
<path fill="#86a0c6" d="M455 556h21v20h-21z"/>
<path fill="#899ec6" d="M476 556h21v20h-21z"/>
<path fill="#899dc3" d="M497 556h21v20h-21z"/>
<path fill="#7390bb" d="M518 556h21v20h-21z"/>
<path fill="#7592b6" d="M539 556h21v20h-21z"/>
<path fill="#6281a8" d="M560 556h21v20h-21z"/>
<path fill="#476896" d="M602 556h21v20h-21z"/>
<path fill="#456593" d="M623 556h21v20h-21z"/>
<path fill="#486797" d="M644 556h21v20h-21z"/>
<path fill="#4f6a99" d="M665 556h21v20h-21z"/>
<path fill="#7fa3cd" d="M15 576h21v21h-21zM434 1184h21v21h-21z"/>
<path fill="#4c7cc0" d="M36 576h21v21h-21zM15 618h21v21h-21z"/>
<path fill="#416fb9" d="M57 576h21v21h-21z"/>
<path fill="#3e68b2" d="M78 576h21v21h-21z"/>
<path fill="#3f68b0" d="M99 576h21v21h-21z"/>
<path fill="#3c65ae" d="M120 576h21v21h-21z"/>
<path fill="#3b63ac" d="M141 576h21v21h-21z"/>
<path fill="#3a62ac" d="M162 576h21v21h-21z"/>
<path fill="#3a60ac" d="M183 576h21v21h-21z"/>
<path fill="#3a60ab" d="M204 576h21v21h-21zM225 974h21v21h-21z"/>
<path fill="#3b61aa" d="M225 576h21v21h-21zM120 1079h42v21h-42zM225 1079h21v21h-21zM141 1121h21v21h-21z"/>
<path fill="#3f62a8" d="M246 576h21v21h-21zM141 618h21v21h-21z"/>
<path fill="#3d63ac" d="M267 576h21v21h-21zM162 1142h21v21h-21z"/>
<path fill="#3c68b2" d="M288 576h21v21h-21zM57 618h21v21h-21z"/>
<path fill="#4271b9" d="M309 576h21v21h-21z"/>
<path fill="#5884c6" d="M330 576h21v21h-21z"/>
<path fill="#879fc9" d="M351 576h21v21h-21z"/>
<path fill="#bec9de" d="M372 576h20v21h-20z"/>
<path fill="#becbdc" d="M392 576h21v21h-21z"/>
<path fill="#99adce" d="M434 576h21v21h-21z"/>
<path fill="#7a94be" d="M455 576h21v21h-21zM518 933h21v20h-21z"/>
<path fill="#869cc0" d="M476 576h21v21h-21z"/>
<path fill="#869bbc" d="M497 576h21v21h-21zM644 1142h21v21h-21z"/>
<path fill="#6686b1" d="M518 576h21v21h-21z"/>
<path fill="#6584aa" d="M539 576h21v21h-21z"/>
<path fill="#5575a2" d="M560 576h21v21h-21z"/>
<path fill="#476895" d="M602 576h21v21h-21z"/>
<path fill="#456691" d="M623 576h21v21h-21zM623 618h21v21h-21z"/>
<path fill="#496795" d="M644 576h21v21h-21z"/>
<path fill="#4d6898" d="M665 576h21v21h-21z"/>
<path fill="#6090c8" d="M15 597h21v21h-21z"/>
<path fill="#3e6ab4" d="M57 597h21v21h-21z"/>
<path fill="#3c66b0" d="M78 597h21v21h-21zM267 933h21v20h-21z"/>
<path fill="#3c64ae" d="M99 597h21v21h-21zM57 639h21v21h-21zM267 912h21v21h-21z"/>
<path fill="#3c62ac" d="M120 597h21v21h-21zM267 744h21v21h-21zM267 786h21v21h-21zM246 953h21v21h-21zM225 1058h21v21h-21zM99 1205h21v21h-21z"/>
<path fill="#3c61aa" d="M141 597h21v21h-21zM267 723h21v21h-21z"/>
<path fill="#3f62a9" d="M162 597h21v21h-21z"/>
<path fill="#3a60aa" d="M183 597h42v21h-42zM99 618h21v21h-21zM78 639h21v21h-21zM120 1058h21v21h-21zM57 1121h21v21h-21z"/>
<path fill="#3b60a9" d="M225 597h21v21h-21z"/>
<path fill="#4263a7" d="M246 597h21v21h-21z"/>
<path fill="#3e64aa" d="M267 597h21v21h-21z"/>
<path fill="#3d68b0" d="M288 597h21v21h-21z"/>
<path fill="#4477c2" d="M330 597h21v21h-21z"/>
<path fill="#6d8fc8" d="M351 597h21v21h-21z"/>
<path fill="#9bafd1" d="M372 597h20v21h-20z"/>
<path fill="#adbed3" d="M392 597h42v21h-42z"/>
<path fill="#93a7cb" d="M434 597h21v21h-21z"/>
<path fill="#7490bd" d="M455 597h21v21h-21z"/>
<path fill="#7f98bb" d="M476 597h21v21h-21z"/>
<path fill="#7b96bb" d="M497 597h21v21h-21z"/>
<path fill="#6384ae" d="M518 597h21v21h-21z"/>
<path fill="#50729a" d="M539 597h21v21h-21z"/>
<path fill="#496b95" d="M560 597h21v21h-21z"/>
<path fill="#476993" d="M581 597h21v21h-21z"/>
<path fill="#466892" d="M602 597h21v21h-21z"/>
<path fill="#476792" d="M623 597h21v21h-21z"/>
<path fill="#4a6894" d="M644 597h21v21h-21z"/>
<path fill="#536c9b" d="M665 597h21v21h-21z"/>
<path fill="#3e6bb5" d="M36 618h21v21h-21z"/>
<path fill="#3a63ad" d="M78 618h21v21h-21z"/>
<path fill="#3c60a9" d="M120 618h21v21h-21zM120 1037h21v21h-21z"/>
<path fill="#3e60a8" d="M162 618h21v21h-21zM120 639h21v21h-21z"/>
<path fill="#3b5ea8" d="M183 618h21v21h-21zM141 891h21v21h-21zM36 933h21v20h-21zM78 933h21v20h-21zM36 953h21v21h-21zM78 953h21v21h-21zM120 953h21v21h-21zM78 974h21v21h-21zM120 974h21v21h-21zM15 1163h21v21h-21zM15 1226h21v21h-21z"/>
<path fill="#3a5ea8" d="M204 618h21v21h-21zM204 639h42v21h-42zM78 660h42v21h-42zM204 660h42v21h-42zM78 681h63v21h-63zM183 681h21v21h-21zM120 702h21v21h-21zM183 702h63v21h-63zM120 723h21v21h-21zM225 723h21v21h-21zM78 786h21v21h-21zM57 807h42v21h-42zM15 849h63v21h-63zM120 849h21v21h-21zM15 870h105v21h-105zM141 870h21v21h-21zM15 891h63v21h-63zM99 891h42v21h-42zM36 912h42v21h-42zM204 933h21v20h-21zM204 953h21v21h-21zM15 974h42v21h-42zM162 974h42v21h-42zM15 995h63v21h-63zM162 995h63v21h-63zM15 1016h63v21h-63zM141 1016h84v21h-84zM15 1037h105v21h-105zM141 1037h63v21h-63zM15 1058h21v21h-21zM57 1058h63v21h-63zM36 1079h42v21h-42zM36 1100h21v21h-21zM36 1121h21v21h-21zM36 1142h42v21h-42zM78 1163h21v21h-21z"/>
<path fill="#3b5fa8" d="M225 618h21v21h-21zM204 681h21v21h-21zM225 744h21v21h-21zM120 870h21v21h-21zM120 933h21v20h-21zM183 1058h21v21h-21zM78 1142h42v21h-42z"/>
<path fill="#3e62a7" d="M246 618h21v21h-21z"/>
<path fill="#3d62a8" d="M267 618h21v21h-21z"/>
<path fill="#3c64ac" d="M288 618h21v21h-21z"/>
<path fill="#436fb7" d="M309 618h21v21h-21z"/>
<path fill="#4b7dc4" d="M330 618h21v21h-21z"/>
<path fill="#6c8dc7" d="M351 618h21v21h-21z"/>
<path fill="#8ea6cf" d="M372 618h20v21h-20z"/>
<path fill="#9fb3d2" d="M392 618h21v21h-21z"/>
<path fill="#a7b8d5" d="M413 618h21v21h-21z"/>
<path fill="#93a6ca" d="M434 618h21v21h-21zM560 1226h21v21h-21z"/>
<path fill="#7b93bd" d="M455 618h21v21h-21z"/>
<path fill="#7f96ba" d="M476 618h21v21h-21z"/>
<path fill="#7b95bb" d="M497 618h21v21h-21z"/>
<path fill="#6485ae" d="M518 618h21v21h-21z"/>
<path fill="#496b98" d="M539 618h21v21h-21z"/>
<path fill="#456893" d="M560 618h21v21h-21z"/>
<path fill="#436691" d="M581 618h21v21h-21z"/>
<path fill="#436591" d="M602 618h21v21h-21zM602 639h21v21h-21z"/>
<path fill="#4c6996" d="M644 618h21v21h-21z"/>
<path fill="#57709f" d="M665 618h21v21h-21z"/>
<path fill="#3e64b2" d="M15 639h21v21h-21z"/>
<path fill="#3c64b0" d="M36 639h21v21h-21z"/>
<path fill="#3a5fa8" d="M99 639h21v21h-21zM78 1184h21v21h-21z"/>
<path fill="#4161a8" d="M141 639h21v21h-21z"/>
<path fill="#3e5ea8" d="M162 639h21v21h-21zM15 702h21v21h-21z"/>
<path fill="#3c5ea8" d="M183 639h21v21h-21zM141 660h21v21h-21zM183 660h21v21h-21zM15 765h21v21h-21zM15 786h21v21h-21zM15 807h42v21h-42zM78 891h21v21h-21zM15 912h21v21h-21zM78 912h42v21h-42zM57 974h21v21h-21zM141 974h21v21h-21zM204 974h21v21h-21zM78 995h21v21h-21zM78 1016h21v21h-21zM15 1121h21v21h-21zM15 1142h21v21h-21zM57 1247h21v21h-21z"/>
<path fill="#3d60a7" d="M246 639h21v21h-21z"/>
<path fill="#3c60a8" d="M267 639h21v21h-21zM120 660h21v21h-21zM246 660h42v21h-42zM267 681h21v21h-21zM246 702h21v21h-21zM225 786h21v21h-21zM15 933h21v20h-21zM225 933h21v20h-21zM15 953h21v21h-21zM225 953h21v21h-21zM57 1163h21v21h-21z"/>
<path fill="#3c62aa" d="M288 639h21v21h-21zM288 660h21v21h-21zM246 933h21v20h-21zM99 1079h21v21h-21zM99 1100h21v21h-21zM78 1121h21v21h-21z"/>
<path fill="#446eb6" d="M309 639h21v21h-21z"/>
<path fill="#4c7cc2" d="M330 639h21v21h-21z"/>
<path fill="#6f8fc6" d="M351 639h21v21h-21z"/>
<path fill="#a5b7d3" d="M372 639h20v21h-20z"/>
<path fill="#b1c1d7" d="M392 639h21v21h-21z"/>
<path fill="#aebcd7" d="M413 639h21v21h-21z"/>
<path fill="#9aaccd" d="M434 639h21v21h-21z"/>
<path fill="#7e93be" d="M455 639h21v21h-21z"/>
<path fill="#7d96bd" d="M476 639h21v21h-21z"/>
<path fill="#7a96bb" d="M497 639h21v21h-21z"/>
<path fill="#6686ad" d="M518 639h21v21h-21z"/>
<path fill="#4a6d9b" d="M539 639h21v21h-21z"/>
<path fill="#456895" d="M560 639h21v21h-21z"/>
<path fill="#436593" d="M581 639h21v21h-21z"/>
<path fill="#456592" d="M623 639h21v21h-21z"/>
<path fill="#536f9c" d="M644 639h21v21h-21z"/>
<path fill="#657ea7" d="M665 639h21v21h-21z"/>
<path fill="#3e62af" d="M15 660h21v21h-21z"/>
<path fill="#3f63ae" d="M36 660h21v21h-21z"/>
<path fill="#3b60ac" d="M57 660h21v21h-21z"/>
<path fill="#3c5da8" d="M162 660h21v21h-21zM15 1247h21v21h-21z"/>
<path fill="#416ab2" d="M309 660h21v21h-21z"/>
<path fill="#4a77bf" d="M330 660h21v21h-21z"/>
<path fill="#7b9bce" d="M351 660h21v21h-21z"/>
<path fill="#ced6dd" d="M392 660h21v21h-21z"/>
<path fill="#c8cfdd" d="M413 660h21v21h-21z"/>
<path fill="#a2b2d1" d="M434 660h21v21h-21z"/>
<path fill="#7e97c0" d="M455 660h21v21h-21z"/>
<path fill="#7b95bd" d="M476 660h21v21h-21z"/>
<path fill="#7793b4" d="M497 660h21v21h-21z"/>
<path fill="#798fab" d="M518 660h21v21h-21zM518 681h21v21h-21z"/>
<path fill="#6984a6" d="M539 660h21v21h-21z"/>
<path fill="#6680a3" d="M560 660h21v21h-21z"/>
<path fill="#5f7ba0" d="M581 660h21v21h-21z"/>
<path fill="#5c79a2" d="M602 660h21v21h-21z"/>
<path fill="#5572a0" d="M623 660h21v21h-21z"/>
<path fill="#637fa7" d="M644 660h21v21h-21z"/>
<path fill="#7a91b2" d="M665 660h21v21h-21z"/>
<path fill="#3e5ea9" d="M15 681h21v21h-21z"/>
<path fill="#3e5da9" d="M36 681h21v21h-21z"/>
<path fill="#3b5da8" d="M57 681h21v21h-21zM15 723h21v21h-21zM15 744h21v21h-21z"/>
<path fill="#3a5ea6" d="M141 681h42v21h-42zM183 723h21v21h-21zM141 744h21v21h-21zM57 765h42v21h-42zM120 765h21v21h-21zM57 786h21v21h-21zM120 786h21v21h-21zM99 807h42v21h-42zM120 828h21v21h-21zM162 849h21v21h-21zM183 933h21v20h-21zM162 953h42v21h-42z"/>
<path fill="#3a5ea7" d="M225 681h42v21h-42zM120 744h21v21h-21z"/>
<path fill="#3e64ac" d="M288 681h21v21h-21zM288 702h21v21h-21z"/>
<path fill="#4c78bc" d="M309 681h21v21h-21z"/>
<path fill="#5c84c4" d="M330 681h21v21h-21zM309 765h21v21h-21zM309 786h21v21h-21z"/>
<path fill="#7b9bcf" d="M351 681h21v21h-21z"/>
<path fill="#bbc9de" d="M372 681h20v21h-20z"/>
<path fill="#d2dae2" d="M392 681h21v21h-21z"/>
<path fill="#ced4e2" d="M413 681h21v21h-21z"/>
<path fill="#a5b4d3" d="M434 681h21v21h-21z"/>
<path fill="#819cc3" d="M455 681h21v21h-21z"/>
<path fill="#7e96bb" d="M476 681h21v21h-21z"/>
<path fill="#778fae" d="M497 681h21v21h-21z"/>
<path fill="#778ca8" d="M539 681h21v21h-21z"/>
<path fill="#768aaa" d="M560 681h21v21h-21z"/>
<path fill="#7d8eaa" d="M581 681h21v21h-21z"/>
<path fill="#6d86aa" d="M602 681h21v21h-21z"/>
<path fill="#657fa8" d="M623 681h21v21h-21z"/>
<path fill="#778fac" d="M644 681h21v21h-21z"/>
<path fill="#8195b3" d="M665 681h21v21h-21z"/>
<path fill="#3c5ca8" d="M36 702h21v21h-21zM99 995h21v21h-21zM99 1016h21v21h-21z"/>
<path fill="#3b5ca6" d="M57 702h21v21h-21z"/>
<path fill="#3d5ea8" d="M78 702h21v21h-21zM78 828h21v21h-21zM99 974h21v21h-21zM141 995h21v21h-21zM36 1247h21v21h-21z"/>
<path fill="#3a5da6" d="M99 702h21v21h-21zM141 702h21v21h-21zM78 723h21v21h-21zM162 765h21v21h-21zM99 786h21v21h-21zM162 786h21v21h-21zM99 828h21v21h-21z"/>
<path fill="#3c5ea6" d="M162 702h21v21h-21zM36 765h21v21h-21zM36 786h21v21h-21zM225 912h21v21h-21z"/>
<path fill="#3e62aa" d="M267 702h21v21h-21zM246 870h21v21h-21z"/>
<path fill="#4c77bc" d="M309 702h21v21h-21z"/>
<path fill="#6890c7" d="M330 702h21v21h-21z"/>
<path fill="#86a3d0" d="M351 702h21v21h-21z"/>
<path fill="#b8c6de" d="M372 702h20v21h-20z"/>
<path fill="#bec9da" d="M392 702h21v21h-21z"/>
<path fill="#b5bbd6" d="M413 702h21v21h-21z"/>
<path fill="#a2b0d1" d="M434 702h21v21h-21z"/>
<path fill="#93a7ca" d="M455 702h21v21h-21z"/>
<path fill="#93a7c4" d="M476 702h21v21h-21z"/>
<path fill="#7e93b7" d="M497 702h21v21h-21zM602 870h21v21h-21z"/>
<path fill="#6f87b3" d="M518 702h21v21h-21z"/>
<path fill="#6f87af" d="M539 702h21v21h-21z"/>
<path fill="#6f85ae" d="M560 702h21v21h-21z"/>
<path fill="#7c8ead" d="M581 702h21v21h-21z"/>
<path fill="#768baf" d="M602 702h21v21h-21z"/>
<path fill="#6a84ad" d="M623 702h21v21h-21z"/>
<path fill="#6a84af" d="M644 702h21v21h-21z"/>
<path fill="#7e92b7" d="M665 702h21v21h-21z"/>
<path fill="#405fa8" d="M36 723h21v21h-21z"/>
<path fill="#3b5da6" d="M57 723h21v21h-21zM57 744h21v21h-21z"/>
<path fill="#3a5ca6" d="M99 723h21v21h-21zM78 744h42v21h-42zM99 765h21v21h-21zM141 765h21v21h-21zM141 786h21v21h-21zM141 807h42v21h-42zM141 828h21v21h-21z"/>
<path fill="#4262a6" d="M141 723h21v21h-21z"/>
<path fill="#3b5ea6" d="M162 723h21v21h-21zM183 744h21v21h-21zM141 849h21v21h-21zM162 912h21v21h-21zM204 912h21v21h-21z"/>
<path fill="#3b5fa6" d="M204 723h21v21h-21zM183 807h21v21h-21zM183 828h21v21h-21zM183 849h21v21h-21zM183 870h21v21h-21z"/>
<path fill="#4765a8" d="M246 723h21v21h-21zM246 744h21v21h-21z"/>
<path fill="#3e65af" d="M288 723h21v21h-21z"/>
<path fill="#507abd" d="M309 723h21v21h-21z"/>
<path fill="#7b9fc9" d="M330 723h21v21h-21z"/>
<path fill="#a6bad5" d="M351 723h21v21h-21z"/>
<path fill="#dddfe9" d="M372 723h20v21h-20z"/>
<path fill="#c5cadb" d="M392 723h21v21h-21z"/>
<path fill="#afb8d4" d="M413 723h21v21h-21z"/>
<path fill="#9eafd0" d="M434 723h21v21h-21z"/>
<path fill="#9eaed0" d="M455 723h21v21h-21z"/>
<path fill="#99abcb" d="M476 723h21v21h-21z"/>
<path fill="#92a4c4" d="M497 723h21v21h-21z"/>
<path fill="#778dba" d="M518 723h21v21h-21z"/>
<path fill="#6c84b2" d="M560 723h21v21h-21z"/>
<path fill="#7186b2" d="M581 723h21v21h-21z"/>
<path fill="#778db3" d="M602 723h21v21h-21z"/>
<path fill="#7a90b3" d="M623 723h21v21h-21z"/>
<path fill="#6d86b2" d="M644 723h21v21h-21zM602 1079h21v21h-21z"/>
<path fill="#7b8eb7" d="M665 723h21v21h-21zM623 912h21v21h-21z"/>
<path fill="#4061a8" d="M36 744h21v21h-21zM57 933h21v20h-21zM57 953h21v21h-21z"/>
<path fill="#4867a5" d="M162 744h21v21h-21z"/>
<path fill="#3c60a6" d="M204 744h21v21h-21z"/>
<path fill="#4a74b5" d="M288 744h21v21h-21z"/>
<path fill="#5880c2" d="M309 744h21v21h-21z"/>
<path fill="#c3d3e1" d="M351 744h21v21h-21z"/>
<path fill="#ebebf3" d="M372 744h20v21h-20z"/>
<path fill="#e4e6ee" d="M392 744h21v21h-21z"/>
<path fill="#bac5e0" d="M413 744h21v21h-21z"/>
<path fill="#a1b0d6" d="M434 744h21v21h-21z"/>
<path fill="#9badd2" d="M455 744h21v21h-21z"/>
<path fill="#97aace" d="M476 744h21v21h-21z"/>
<path fill="#8ea1c6" d="M497 744h21v21h-21z"/>
<path fill="#879bbf" d="M518 744h21v21h-21z"/>
<path fill="#7a90b7" d="M539 744h21v21h-21zM560 953h21v21h-21z"/>
<path fill="#6b81b0" d="M560 744h21v21h-21z"/>
<path fill="#6a81ae" d="M581 744h21v21h-21zM581 786h21v21h-21z"/>
<path fill="#7e92b8" d="M602 744h21v21h-21z"/>
<path fill="#91a3c3" d="M623 744h21v21h-21z"/>
<path fill="#92a2c7" d="M644 744h21v21h-21z"/>
<path fill="#92a1c7" d="M665 744h21v21h-21z"/>
<path fill="#3d61a6" d="M183 765h21v21h-21z"/>
<path fill="#3d62a6" d="M204 765h21v21h-21z"/>
<path fill="#3e62a8" d="M225 765h21v21h-21z"/>
<path fill="#3b5faa" d="M246 765h21v21h-21zM246 786h21v21h-21zM141 1142h21v21h-21z"/>
<path fill="#3c61ac" d="M267 765h21v21h-21z"/>
<path fill="#4370b6" d="M288 765h21v21h-21z"/>
<path fill="#96b0d1" d="M330 765h21v21h-21z"/>
<path fill="#d3e0ea" d="M351 765h21v21h-21z"/>
<path fill="#fefdfe" d="M372 765h20v21h-20z"/>
<path fill="#fcfcfc" d="M392 765h21v21h-21z"/>
<path fill="#e4e6f5" d="M413 765h21v21h-21z"/>
<path fill="#b8c3e4" d="M434 765h21v21h-21z"/>
<path fill="#a1b2d6" d="M455 765h21v21h-21z"/>
<path fill="#a1b3d1" d="M476 765h21v21h-21z"/>
<path fill="#9aadc9" d="M497 765h21v21h-21z"/>
<path fill="#8da1c0" d="M518 765h21v21h-21z"/>
<path fill="#7f94b8" d="M539 765h21v21h-21z"/>
<path fill="#6a81af" d="M560 765h21v21h-21z"/>
<path fill="#697fae" d="M581 765h21v21h-21z"/>
<path fill="#879abf" d="M602 765h21v21h-21z"/>
<path fill="#a1b1ca" d="M623 765h21v21h-21z"/>
<path fill="#bdc1d5" d="M644 765h21v21h-21z"/>
<path fill="#b9bed6" d="M665 765h21v21h-21z"/>
<path fill="#3c61a6" d="M183 786h21v21h-21z"/>
<path fill="#3c62a6" d="M204 786h21v21h-21z"/>
<path fill="#406db5" d="M288 786h21v21h-21z"/>
<path fill="#96afd1" d="M330 786h21v21h-21z"/>
<path fill="#c6d5e5" d="M351 786h21v21h-21z"/>
<path fill="#f2f3fc" d="M372 786h20v21h-20z"/>
<path fill="#fbf9fc" d="M392 786h21v21h-21z"/>
<path fill="#f5f2fc" d="M413 786h21v21h-21zM413 807h21v21h-21z"/>
<path fill="#bac3e3" d="M434 786h21v21h-21z"/>
<path fill="#96abcf" d="M455 786h21v21h-21z"/>
<path fill="#a1b4cf" d="M476 786h21v21h-21z"/>
<path fill="#93a8cb" d="M497 786h21v21h-21z"/>
<path fill="#869cc3" d="M518 786h21v21h-21z"/>
<path fill="#788eb7" d="M539 786h21v21h-21z"/>
<path fill="#6b83b0" d="M560 786h21v21h-21z"/>
<path fill="#7f93bd" d="M602 786h21v21h-21z"/>
<path fill="#b3bbd0" d="M644 786h21v21h-21z"/>
<path fill="#b7bdd3" d="M665 786h21v21h-21z"/>
<path fill="#3b62a6" d="M204 807h21v21h-21z"/>
<path fill="#3c62a8" d="M225 807h21v21h-21z"/>
<path fill="#3f65ac" d="M246 807h21v21h-21z"/>
<path fill="#406eb5" d="M288 807h21v21h-21z"/>
<path fill="#5880c4" d="M309 807h21v21h-21z"/>
<path fill="#c4d3e3" d="M351 807h21v21h-21z"/>
<path fill="#f9f7fc" d="M392 807h21v21h-21z"/>
<path fill="#b7c1e0" d="M434 807h21v21h-21z"/>
<path fill="#96acce" d="M476 807h21v21h-21z"/>
<path fill="#9ab2d0" d="M497 807h21v21h-21z"/>
<path fill="#7f98c3" d="M518 807h21v21h-21z"/>
<path fill="#738bb6" d="M539 807h21v21h-21z"/>
<path fill="#7389b4" d="M560 807h21v21h-21z"/>
<path fill="#7a8eb0" d="M581 807h21v21h-21zM581 912h21v21h-21z"/>
<path fill="#7f92b7" d="M602 807h21v21h-21z"/>
<path fill="#8d9ac5" d="M623 807h21v21h-21z"/>
<path fill="#96a7c7" d="M644 807h21v21h-21zM644 1163h21v21h-21z"/>
<path fill="#a6b4cb" d="M665 807h21v21h-21z"/>
<path fill="#3f5fa8" d="M15 828h21v21h-21zM99 953h21v21h-21z"/>
<path fill="#3c5da7" d="M36 828h21v21h-21z"/>
<path fill="#3a5da8" d="M57 828h21v21h-21zM99 849h21v21h-21zM15 1079h21v21h-21z"/>
<path fill="#4165a7" d="M162 828h21v21h-21z"/>
<path fill="#3f65a8" d="M204 828h42v21h-42z"/>
<path fill="#3d62aa" d="M246 828h21v21h-21z"/>
<path fill="#436eb1" d="M267 828h21v21h-21z"/>
<path fill="#406fb7" d="M288 828h21v21h-21z"/>
<path fill="#5680c4" d="M309 828h21v21h-21z"/>
<path fill="#9db6d5" d="M330 828h21v21h-21z"/>
<path fill="#c6d3dd" d="M351 828h21v21h-21z"/>
<path fill="#e3e7ee" d="M372 828h20v21h-20z"/>
<path fill="#dde1eb" d="M392 828h21v21h-21z"/>
<path fill="#cfd3e8" d="M413 828h21v21h-21z"/>
<path fill="#b2bedc" d="M434 828h21v21h-21z"/>
<path fill="#9eb1d3" d="M455 828h21v21h-21z"/>
<path fill="#a5b8d7" d="M476 828h21v21h-21z"/>
<path fill="#a9bad9" d="M497 828h21v21h-21z"/>
<path fill="#8ea2c7" d="M518 828h21v21h-21z"/>
<path fill="#798fb3" d="M539 828h21v21h-21z"/>
<path fill="#798eb2" d="M560 828h21v21h-21z"/>
<path fill="#7a8db0" d="M581 828h21v21h-21zM581 933h21v20h-21z"/>
<path fill="#7e92b5" d="M602 828h21v21h-21z"/>
<path fill="#8296be" d="M623 828h21v21h-21z"/>
<path fill="#869ac2" d="M644 828h21v21h-21z"/>
<path fill="#96a8c7" d="M665 828h21v21h-21z"/>
<path fill="#3d5fa8" d="M78 849h21v21h-21zM162 891h21v21h-21z"/>
<path fill="#4166a8" d="M204 849h21v21h-21z"/>
<path fill="#4167a8" d="M225 849h21v21h-21z"/>
<path fill="#3d61ac" d="M246 849h21v21h-21z"/>
<path fill="#3e68b0" d="M267 849h21v21h-21z"/>
<path fill="#406fb6" d="M288 849h21v21h-21z"/>
<path fill="#5380c4" d="M309 849h21v21h-21z"/>
<path fill="#8aa9cf" d="M330 849h21v21h-21z"/>
<path fill="#aebeda" d="M351 849h21v21h-21z"/>
<path fill="#adbcdb" d="M372 849h20v21h-20z"/>
<path fill="#a7b6d7" d="M392 849h21v21h-21z"/>
<path fill="#aab7d7" d="M413 849h21v21h-21z"/>
<path fill="#adbad9" d="M434 849h21v21h-21z"/>
<path fill="#a3b5d6" d="M455 849h21v21h-21z"/>
<path fill="#b7c5e2" d="M476 849h21v21h-21z"/>
<path fill="#bac7e5" d="M497 849h21v21h-21z"/>
<path fill="#9aaacd" d="M518 849h21v21h-21z"/>
<path fill="#7990b5" d="M539 849h21v21h-21z"/>
<path fill="#7388b2" d="M560 849h21v21h-21z"/>
<path fill="#7688b1" d="M581 849h21v21h-21z"/>
<path fill="#7a8fb3" d="M602 849h21v21h-21z"/>
<path fill="#7f93ba" d="M623 849h21v21h-21z"/>
<path fill="#8598bf" d="M644 849h21v21h-21z"/>
<path fill="#93a5c4" d="M665 849h21v21h-21z"/>
<path fill="#3c5fa8" d="M162 870h21v21h-21z"/>
<path fill="#4263a8" d="M204 870h21v21h-21z"/>
<path fill="#4063a8" d="M225 870h21v21h-21z"/>
<path fill="#3e66ae" d="M267 870h21v21h-21z"/>
<path fill="#4575b9" d="M288 870h21v21h-21z"/>
<path fill="#4b7bbf" d="M309 870h21v21h-21z"/>
<path fill="#6b98cb" d="M330 870h21v21h-21z"/>
<path fill="#a2b8d7" d="M351 870h21v21h-21z"/>
<path fill="#aabcdb" d="M372 870h20v21h-20z"/>
<path fill="#a7b7d8" d="M392 870h21v21h-21z"/>
<path fill="#aab7d6" d="M413 870h21v21h-21z"/>
<path fill="#abb8d7" d="M434 870h21v21h-21z"/>
<path fill="#a7b7d4" d="M455 870h21v21h-21zM434 891h21v21h-21z"/>
<path fill="#acbdd3" d="M476 870h21v21h-21z"/>
<path fill="#a7b8d3" d="M497 870h21v21h-21z"/>
<path fill="#8ba2c5" d="M518 870h21v21h-21z"/>
<path fill="#7a93b7" d="M539 870h21v21h-21zM623 1121h21v21h-21z"/>
<path fill="#6e87af" d="M560 870h21v21h-21z"/>
<path fill="#6b87ad" d="M581 870h21v21h-21z"/>
<path fill="#9babc5" d="M623 870h21v21h-21z"/>
<path fill="#9faccc" d="M644 870h21v21h-21z"/>
<path fill="#a5b2d2" d="M665 870h21v21h-21z"/>
<path fill="#3e5da6" d="M183 891h63v21h-63z"/>
<path fill="#3e5fa7" d="M246 891h21v21h-21z"/>
<path fill="#3c63ad" d="M267 891h21v21h-21z"/>
<path fill="#4473b9" d="M288 891h21v21h-21z"/>
<path fill="#4979bd" d="M309 891h21v21h-21zM267 1205h21v21h-21z"/>
<path fill="#6898cc" d="M330 891h21v21h-21z"/>
<path fill="#7fa7d1" d="M351 891h21v21h-21z"/>
<path fill="#a0bddc" d="M372 891h20v21h-20z"/>
<path fill="#aec3dc" d="M392 891h21v21h-21z"/>
<path fill="#b1c2dc" d="M413 891h21v21h-21z"/>
<path fill="#96abcb" d="M455 891h21v21h-21z"/>
<path fill="#99adcb" d="M476 891h21v21h-21z"/>
<path fill="#92a7c8" d="M497 891h21v21h-21z"/>
<path fill="#7e96bc" d="M518 891h21v21h-21z"/>
<path fill="#6a86af" d="M539 891h21v21h-21z"/>
<path fill="#6885ac" d="M560 891h21v21h-21z"/>
<path fill="#6a89aa" d="M581 891h21v21h-21z"/>
<path fill="#8599ba" d="M602 891h21v21h-21z"/>
<path fill="#9eadcb" d="M623 891h21v21h-21z"/>
<path fill="#a5b2d3" d="M644 891h21v21h-21z"/>
<path fill="#b3bfe6" d="M665 891h21v21h-21z"/>
<path fill="#3d60a8" d="M120 912h42v21h-42z"/>
<path fill="#3c5da6" d="M183 912h21v21h-21z"/>
<path fill="#3c5fa9" d="M246 912h21v21h-21z"/>
<path fill="#4271b8" d="M288 912h21v21h-21z"/>
<path fill="#4676bd" d="M309 912h21v21h-21z"/>
<path fill="#5088c5" d="M330 912h21v21h-21z"/>
<path fill="#6595cf" d="M351 912h21v21h-21z"/>
<path fill="#87b0de" d="M372 912h20v21h-20z"/>
<path fill="#acc8e0" d="M392 912h21v21h-21z"/>
<path fill="#c4d6e9" d="M413 912h21v21h-21z"/>
<path fill="#adbed9" d="M434 912h21v21h-21z"/>
<path fill="#96abce" d="M455 912h21v21h-21z"/>
<path fill="#96aacb" d="M476 912h21v21h-21z"/>
<path fill="#859ec2" d="M497 912h21v21h-21z"/>
<path fill="#7793bd" d="M518 912h21v21h-21z"/>
<path fill="#6a87b3" d="M539 912h21v21h-21z"/>
<path fill="#6a87b1" d="M560 912h21v21h-21z"/>
<path fill="#7a8eb3" d="M602 912h21v21h-21z"/>
<path fill="#a6b2d0" d="M665 912h21v21h-21z"/>
<path fill="#4060a8" d="M99 933h21v20h-21z"/>
<path fill="#3c60a5" d="M141 933h42v20h-42z"/>
<path fill="#4273bb" d="M309 933h21v20h-21z"/>
<path fill="#4b85c3" d="M330 933h21v20h-21z"/>
<path fill="#538ecb" d="M351 933h21v20h-21z"/>
<path fill="#7cacdb" d="M372 933h20v20h-20z"/>
<path fill="#abcbe2" d="M392 933h21v20h-21z"/>
<path fill="#cadef2" d="M413 933h21v20h-21z"/>
<path fill="#c0d0e6" d="M434 933h21v20h-21z"/>
<path fill="#a7b8d7" d="M455 933h21v20h-21z"/>
<path fill="#93a9cb" d="M476 933h21v20h-21z"/>
<path fill="#879fc3" d="M497 933h21v20h-21z"/>
<path fill="#7790b9" d="M539 933h21v20h-21z"/>
<path fill="#7a90b5" d="M560 933h21v20h-21z"/>
<path fill="#6e86b1" d="M602 933h21v20h-21z"/>
<path fill="#6981b0" d="M623 933h21v20h-21z"/>
<path fill="#8093ba" d="M644 933h21v20h-21z"/>
<path fill="#3e61a6" d="M141 953h21v21h-21z"/>
<path fill="#3c67b3" d="M267 953h21v21h-21z"/>
<path fill="#3d6cb8" d="M288 953h21v21h-21z"/>
<path fill="#4072bc" d="M309 953h21v21h-21z"/>
<path fill="#4b84c3" d="M330 953h21v21h-21z"/>
<path fill="#4f88c7" d="M351 953h21v21h-21z"/>
<path fill="#6c9cd2" d="M372 953h20v21h-20z"/>
<path fill="#9ebed7" d="M392 953h21v21h-21z"/>
<path fill="#afcadf" d="M413 953h21v21h-21z"/>
<path fill="#b1c7dd" d="M434 953h21v21h-21z"/>
<path fill="#adbfd7" d="M455 953h21v21h-21z"/>
<path fill="#a6b7d2" d="M476 953h21v21h-21z"/>
<path fill="#99acca" d="M497 953h21v21h-21z"/>
<path fill="#7d95bb" d="M539 953h21v21h-21z"/>
<path fill="#768cb3" d="M581 953h21v21h-21z"/>
<path fill="#6b85b1" d="M602 953h21v21h-21z"/>
<path fill="#6d87b1" d="M623 953h21v21h-21z"/>
<path fill="#738eb3" d="M644 953h21v21h-21z"/>
<path fill="#7a92b6" d="M665 953h21v21h-21z"/>
<path fill="#3a67b9" d="M246 974h21v21h-21z"/>
<path fill="#3b67ba" d="M267 974h21v21h-21z"/>
<path fill="#416fbb" d="M288 974h21v21h-21z"/>
<path fill="#4173be" d="M309 974h21v21h-21z"/>
<path fill="#4c84c4" d="M330 974h21v21h-21z"/>
<path fill="#5b90ca" d="M351 974h21v21h-21z"/>
<path fill="#5b90c9" d="M372 974h20v21h-20z"/>
<path fill="#7ba3cb" d="M392 974h21v21h-21z"/>
<path fill="#8aafcf" d="M413 974h21v21h-21z"/>
<path fill="#9ab8d3" d="M434 974h21v21h-21z"/>
<path fill="#afc7db" d="M455 974h21v21h-21z"/>
<path fill="#adc2da" d="M476 974h21v21h-21z"/>
<path fill="#9eb3d1" d="M497 974h21v21h-21z"/>
<path fill="#96a9cb" d="M518 974h21v21h-21z"/>
<path fill="#7d95bd" d="M539 974h21v21h-21z"/>
<path fill="#7a91b9" d="M560 974h21v21h-21z"/>
<path fill="#768db5" d="M581 974h21v21h-21z"/>
<path fill="#6f88b1" d="M602 974h21v21h-21z"/>
<path fill="#758eb0" d="M623 974h21v21h-21z"/>
<path fill="#7992b0" d="M644 974h21v21h-21z"/>
<path fill="#6982af" d="M665 974h21v21h-21z"/>
<path fill="#3b5ca8" d="M120 995h21v21h-21z"/>
<path fill="#3c60aa" d="M225 995h21v21h-21zM225 1016h21v21h-21zM78 1079h21v21h-21zM120 1142h21v21h-21zM99 1184h21v21h-21zM78 1247h21v21h-21z"/>
<path fill="#3b68b9" d="M246 995h21v21h-21z"/>
<path fill="#3e6dbb" d="M267 995h21v21h-21z"/>
<path fill="#4379c7" d="M288 995h21v21h-21zM288 1016h21v21h-21z"/>
<path fill="#4980c8" d="M309 995h21v21h-21z"/>
<path fill="#4e87c5" d="M330 995h21v21h-21z"/>
<path fill="#5890cc" d="M351 995h21v21h-21z"/>
<path fill="#5991cc" d="M372 995h20v21h-20z"/>
<path fill="#6b9cd0" d="M392 995h21v21h-21z"/>
<path fill="#6d9bcf" d="M413 995h21v21h-21z"/>
<path fill="#7ba3d2" d="M434 995h21v21h-21z"/>
<path fill="#8aaed4" d="M455 995h21v21h-21z"/>
<path fill="#9fbad7" d="M476 995h21v21h-21z"/>
<path fill="#a6bbdb" d="M497 995h21v21h-21z"/>
<path fill="#a2b7d7" d="M518 995h21v21h-21z"/>
<path fill="#96add3" d="M539 995h21v21h-21z"/>
<path fill="#8ea2cb" d="M560 995h21v21h-21z"/>
<path fill="#899cc4" d="M581 995h21v21h-21z"/>
<path fill="#8a9ec3" d="M602 995h21v21h-21z"/>
<path fill="#859ab8" d="M623 995h21v21h-21z"/>
<path fill="#7a92b3" d="M644 995h21v21h-21z"/>
<path fill="#6780ac" d="M665 995h21v21h-21z"/>
<path fill="#3a5ca8" d="M120 1016h21v21h-21zM15 1100h21v21h-21z"/>
<path fill="#426eb8" d="M246 1016h21v21h-21z"/>
<path fill="#3e6ebb" d="M267 1016h21v21h-21z"/>
<path fill="#487fc8" d="M309 1016h21v21h-21z"/>
<path fill="#649ed1" d="M372 1016h20v21h-20z"/>
<path fill="#5f98ce" d="M392 1016h21v21h-21z"/>
<path fill="#5e94cc" d="M413 1016h21v21h-21z"/>
<path fill="#6495cc" d="M434 1016h21v21h-21z"/>
<path fill="#6f9bcd" d="M455 1016h21v21h-21z"/>
<path fill="#87abd5" d="M476 1016h21v21h-21zM476 1037h21v21h-21z"/>
<path fill="#a2bddb" d="M497 1016h21v21h-21z"/>
<path fill="#aec3e1" d="M518 1016h21v21h-21z"/>
<path fill="#acbfe4" d="M539 1016h21v21h-21z"/>
<path fill="#afc3e1" d="M560 1016h21v21h-21z"/>
<path fill="#95a9d2" d="M581 1016h21v21h-21z"/>
<path fill="#90a4c6" d="M602 1016h21v21h-21z"/>
<path fill="#8297bb" d="M623 1016h21v21h-21z"/>
<path fill="#768fb3" d="M644 1016h21v21h-21z"/>
<path fill="#6a82af" d="M665 1016h21v21h-21z"/>
<path fill="#3a5fa9" d="M204 1037h21v21h-21zM204 1121h21v21h-21z"/>
<path fill="#3c61ab" d="M225 1037h21v21h-21z"/>
<path fill="#3f68b3" d="M246 1037h21v21h-21z"/>
<path fill="#3e72c0" d="M288 1037h21v21h-21z"/>
<path fill="#437bc4" d="M309 1037h21v21h-21z"/>
<path fill="#5997d2" d="M330 1037h21v21h-21z"/>
<path fill="#5595d3" d="M351 1037h21v21h-21z"/>
<path fill="#5897d3" d="M372 1037h20v21h-20z"/>
<path fill="#5491d0" d="M392 1037h21v21h-21z"/>
<path fill="#4e8ccd" d="M413 1037h21v21h-21z"/>
<path fill="#5d91cc" d="M434 1037h21v21h-21z"/>
<path fill="#afc6e1" d="M497 1037h21v21h-21z"/>
<path fill="#becfe1" d="M518 1037h21v21h-21zM497 1121h21v21h-21z"/>
<path fill="#b6c8e1" d="M539 1037h21v21h-21z"/>
<path fill="#a6b7d8" d="M560 1037h21v21h-21z"/>
<path fill="#8a9ec6" d="M581 1037h21v21h-21z"/>
<path fill="#899ec3" d="M602 1037h21v21h-21z"/>
<path fill="#7a92be" d="M623 1037h21v21h-21z"/>
<path fill="#768fb8" d="M644 1037h21v21h-21z"/>
<path fill="#6a83af" d="M665 1037h21v21h-21z"/>
<path fill="#3d61a9" d="M36 1058h21v21h-21z"/>
<path fill="#3f63a8" d="M141 1058h21v21h-21z"/>
<path fill="#3c5fa7" d="M162 1058h21v21h-21z"/>
<path fill="#3f64ad" d="M204 1058h21v21h-21z"/>
<path fill="#3e64b0" d="M246 1058h21v21h-21z"/>
<path fill="#3d68b4" d="M267 1058h21v21h-21z"/>
<path fill="#3b6cb8" d="M288 1058h21v21h-21z"/>
<path fill="#4077c0" d="M309 1058h21v21h-21z"/>
<path fill="#5595d1" d="M330 1058h21v21h-21z"/>
<path fill="#5496d4" d="M351 1058h21v21h-21z"/>
<path fill="#5797d5" d="M372 1058h20v21h-20z"/>
<path fill="#5290d0" d="M392 1058h21v21h-21z"/>
<path fill="#508fce" d="M413 1058h21v21h-21z"/>
<path fill="#5c90cc" d="M434 1058h21v21h-21z"/>
<path fill="#6f9bcb" d="M455 1058h21v21h-21z"/>
<path fill="#93b2d3" d="M476 1058h21v21h-21z"/>
<path fill="#bfd2e4" d="M497 1058h21v21h-21z"/>
<path fill="#bbcfe1" d="M518 1058h21v21h-21z"/>
<path fill="#a7b7db" d="M539 1058h21v21h-21z"/>
<path fill="#8a9ecb" d="M560 1058h21v21h-21zM539 1079h21v21h-21z"/>
<path fill="#8293bf" d="M581 1058h21v21h-21zM539 1100h21v21h-21zM539 1121h21v21h-21z"/>
<path fill="#8397c0" d="M602 1058h21v21h-21z"/>
<path fill="#778fbf" d="M623 1058h21v21h-21z"/>
<path fill="#768fbc" d="M644 1058h21v21h-21z"/>
<path fill="#6a83b0" d="M665 1058h21v21h-21zM623 1100h21v21h-21zM665 1121h21v21h-21z"/>
<path fill="#4266a7" d="M162 1079h21v21h-21z"/>
<path fill="#3b60a8" d="M183 1079h21v21h-21z"/>
<path fill="#3e64ab" d="M204 1079h21v21h-21z"/>
<path fill="#3b61ab" d="M246 1079h21v21h-21z"/>
<path fill="#426bb0" d="M267 1079h21v21h-21z"/>
<path fill="#3d6ab4" d="M288 1079h21v21h-21z"/>
<path fill="#4073bb" d="M309 1079h21v21h-21z"/>
<path fill="#4c88c9" d="M330 1079h21v21h-21z"/>
<path fill="#4c88ce" d="M351 1079h21v21h-21z"/>
<path fill="#508cce" d="M372 1079h20v21h-20z"/>
<path fill="#4f8ccc" d="M392 1079h21v21h-21z"/>
<path fill="#4a89c9" d="M413 1079h21v21h-21z"/>
<path fill="#5c90c8" d="M434 1079h21v21h-21z"/>
<path fill="#739bca" d="M455 1079h21v21h-21z"/>
<path fill="#96b2d3" d="M476 1079h21v21h-21zM434 1205h21v21h-21z"/>
<path fill="#bed2e1" d="M497 1079h21v21h-21z"/>
<path fill="#a9b9d7" d="M518 1079h21v21h-21z"/>
<path fill="#8195bb" d="M560 1079h21v21h-21z"/>
<path fill="#7b90b4" d="M581 1079h21v21h-21z"/>
<path fill="#6a86b3" d="M623 1079h21v21h-21z"/>
<path fill="#6a85b3" d="M644 1079h21v21h-21z"/>
<path fill="#6780b0" d="M665 1079h21v21h-21zM665 1100h21v21h-21z"/>
<path fill="#3e61a8" d="M57 1100h21v21h-21z"/>
<path fill="#3b60aa" d="M78 1100h21v21h-21z"/>
<path fill="#3d65ab" d="M120 1100h21v21h-21z"/>
<path fill="#3c64aa" d="M141 1100h21v21h-21z"/>
<path fill="#4066a8" d="M162 1100h21v21h-21z"/>
<path fill="#3b61a8" d="M183 1100h21v21h-21z"/>
<path fill="#3a60a8" d="M204 1100h21v21h-21z"/>
<path fill="#3b5fa7" d="M225 1100h21v21h-21z"/>
<path fill="#3e63a9" d="M246 1100h21v21h-21z"/>
<path fill="#3d66ae" d="M267 1100h21v21h-21z"/>
<path fill="#3d68b2" d="M288 1100h21v21h-21z"/>
<path fill="#4478be" d="M330 1100h21v21h-21z"/>
<path fill="#4a84cb" d="M351 1100h21v21h-21z"/>
<path fill="#4a84c8" d="M372 1100h20v21h-20z"/>
<path fill="#4f88c5" d="M392 1100h21v21h-21z"/>
<path fill="#4684c4" d="M413 1100h21v21h-21z"/>
<path fill="#5c8cc8" d="M434 1100h21v21h-21z"/>
<path fill="#7498ca" d="M455 1100h21v21h-21z"/>
<path fill="#97b3d3" d="M476 1100h21v21h-21z"/>
<path fill="#bfcfe1" d="M497 1100h21v21h-21z"/>
<path fill="#6d86ae" d="M560 1100h21v21h-21z"/>
<path fill="#6a86ac" d="M581 1100h21v21h-21z"/>
<path fill="#6883ad" d="M602 1100h21v21h-21z"/>
<path fill="#6883b0" d="M644 1100h21v21h-21z"/>
<path fill="#4065aa" d="M99 1121h21v21h-21z"/>
<path fill="#3d63aa" d="M120 1121h21v21h-21z"/>
<path fill="#3b61a9" d="M162 1121h42v21h-42z"/>
<path fill="#3b5fa9" d="M225 1121h21v21h-21z"/>
<path fill="#4166ac" d="M246 1121h21v21h-21z"/>
<path fill="#3c68b0" d="M267 1121h21v21h-21z"/>
<path fill="#3e6ab1" d="M288 1121h21v21h-21z"/>
<path fill="#4574b6" d="M309 1121h21v21h-21z"/>
<path fill="#457dc4" d="M351 1121h41v21h-41z"/>
<path fill="#4b84c4" d="M392 1121h21v21h-21z"/>
<path fill="#4a84c4" d="M413 1121h21v21h-21z"/>
<path fill="#5d8cc8" d="M434 1121h21v21h-21z"/>
<path fill="#799ac9" d="M455 1121h21v21h-21z"/>
<path fill="#9db6d3" d="M476 1121h21v21h-21z"/>
<path fill="#a2b2d3" d="M518 1121h21v21h-21zM518 1142h21v21h-21z"/>
<path fill="#8296bf" d="M560 1121h21v21h-21z"/>
<path fill="#829abb" d="M581 1121h21v21h-21z"/>
<path fill="#7f97bb" d="M602 1121h21v21h-21z"/>
<path fill="#7992b7" d="M644 1121h21v21h-21z"/>
<path fill="#3f65ae" d="M183 1142h21v21h-21z"/>
<path fill="#3c63ae" d="M204 1142h21v21h-21z"/>
<path fill="#3b61ae" d="M225 1142h21v21h-21z"/>
<path fill="#3b63b0" d="M246 1142h21v21h-21z"/>
<path fill="#3d67b2" d="M267 1142h21v21h-21z"/>
<path fill="#3e6cb2" d="M288 1142h21v21h-21z"/>
<path fill="#4979b7" d="M309 1142h21v21h-21z"/>
<path fill="#5283be" d="M330 1142h21v21h-21z"/>
<path fill="#457dc0" d="M351 1142h21v21h-21z"/>
<path fill="#447dc1" d="M372 1142h20v21h-20z"/>
<path fill="#4881c3" d="M392 1142h21v21h-21z"/>
<path fill="#4f87c4" d="M413 1142h21v21h-21zM351 1184h21v21h-21z"/>
<path fill="#6390c8" d="M434 1142h21v21h-21z"/>
<path fill="#88a8d1" d="M455 1142h21v21h-21z"/>
<path fill="#aac2d7" d="M476 1142h21v21h-21z"/>
<path fill="#bbcce1" d="M497 1142h21v21h-21z"/>
<path fill="#8e9fc3" d="M539 1142h21v21h-21z"/>
<path fill="#8ea2c3" d="M560 1142h21v21h-21zM581 1163h21v21h-21zM581 1184h21v21h-21z"/>
<path fill="#92a6c3" d="M581 1142h21v21h-21z"/>
<path fill="#95a6c4" d="M602 1142h21v21h-21z"/>
<path fill="#859dbe" d="M623 1142h21v21h-21z"/>
<path fill="#728ab3" d="M665 1142h21v21h-21z"/>
<path fill="#3d60a6" d="M36 1163h21v21h-21zM57 1226h21v21h-21z"/>
<path fill="#3d61aa" d="M99 1163h21v21h-21z"/>
<path fill="#3b5fab" d="M120 1163h21v21h-21z"/>
<path fill="#3c62ae" d="M141 1163h21v21h-21zM120 1184h21v21h-21z"/>
<path fill="#4f77b9" d="M162 1163h21v21h-21z"/>
<path fill="#4d75bb" d="M183 1163h21v21h-21z"/>
<path fill="#406bb6" d="M204 1163h21v21h-21z"/>
<path fill="#3f6ab5" d="M225 1163h21v21h-21z"/>
<path fill="#3c65b2" d="M246 1163h21v21h-21z"/>
<path fill="#3f6ab4" d="M267 1163h21v21h-21z"/>
<path fill="#4b7cb8" d="M288 1163h21v21h-21z"/>
<path fill="#4c80bd" d="M309 1163h21v21h-21z"/>
<path fill="#4c83c1" d="M330 1163h21v21h-21z"/>
<path fill="#4981c1" d="M351 1163h21v21h-21z"/>
<path fill="#4881c1" d="M372 1163h20v21h-20z"/>
<path fill="#4c84c1" d="M392 1163h21v21h-21z"/>
<path fill="#5388c4" d="M413 1163h21v21h-21z"/>
<path fill="#6490c7" d="M434 1163h21v21h-21z"/>
<path fill="#8dadd7" d="M455 1163h21v21h-21z"/>
<path fill="#bbcee1" d="M476 1163h21v21h-21z"/>
<path fill="#c8d5eb" d="M497 1163h21v21h-21z"/>
<path fill="#aebad7" d="M518 1163h21v21h-21zM518 1184h21v21h-21zM518 1205h21v21h-21z"/>
<path fill="#94a2c6" d="M539 1163h21v21h-21z"/>
<path fill="#8b9cc3" d="M560 1163h21v21h-21zM560 1184h21v21h-21z"/>
<path fill="#a6b2cc" d="M602 1163h21v21h-21z"/>
<path fill="#96a6c7" d="M665 1163h21v21h-21z"/>
<path fill="#3b5ea7" d="M15 1184h21v21h-21zM15 1205h21v21h-21z"/>
<path fill="#3d60a5" d="M36 1184h21v21h-21zM36 1205h21v21h-21z"/>
<path fill="#3b5ea5" d="M57 1184h21v21h-21z"/>
<path fill="#4067b3" d="M141 1184h21v21h-21z"/>
<path fill="#6f8fc1" d="M162 1184h21v21h-21z"/>
<path fill="#7a9bbf" d="M183 1184h21v21h-21z"/>
<path fill="#5c88c8" d="M204 1184h21v21h-21z"/>
<path fill="#4c78be" d="M225 1184h21v21h-21z"/>
<path fill="#4068b5" d="M246 1184h21v21h-21z"/>
<path fill="#4b7bb9" d="M267 1184h21v21h-21z"/>
<path fill="#4679b6" d="M288 1184h21v21h-21z"/>
<path fill="#4c80bc" d="M309 1184h21v21h-21z"/>
<path fill="#4e84c2" d="M330 1184h21v21h-21z"/>
<path fill="#5088c4" d="M372 1184h20v21h-20zM351 1205h21v21h-21z"/>
<path fill="#548bc4" d="M392 1184h21v21h-21z"/>
<path fill="#6090c1" d="M413 1184h21v21h-21z"/>
<path fill="#afcbe6" d="M455 1184h21v21h-21z"/>
<path fill="#cbdbef" d="M476 1184h21v21h-21z"/>
<path fill="#c8d7ee" d="M497 1184h21v21h-21z"/>
<path fill="#8b9bc3" d="M539 1184h21v21h-21z"/>
<path fill="#a6b3d0" d="M602 1184h21v21h-21z"/>
<path fill="#aab6d6" d="M623 1184h21v21h-21z"/>
<path fill="#b1bad7" d="M644 1184h21v21h-21z"/>
<path fill="#bac3d7" d="M665 1184h21v21h-21z"/>
<path fill="#3b5ea4" d="M57 1205h21v21h-21z"/>
<path fill="#4366a9" d="M78 1205h21v21h-21z"/>
<path fill="#476fb6" d="M120 1205h21v21h-21z"/>
<path fill="#6488c3" d="M141 1205h21v21h-21z"/>
<path fill="#96aecf" d="M162 1205h21v21h-21z"/>
<path fill="#b2c2d1" d="M183 1205h21v21h-21z"/>
<path fill="#8fabd0" d="M204 1205h21v21h-21z"/>
<path fill="#6f94cb" d="M225 1205h21v21h-21z"/>
<path fill="#4c78bf" d="M246 1205h21v21h-21z"/>
<path fill="#5084bf" d="M309 1205h21v21h-21z"/>
<path fill="#5387c2" d="M330 1205h21v21h-21z"/>
<path fill="#548bc7" d="M372 1205h20v21h-20z"/>
<path fill="#578cc4" d="M392 1205h21v21h-21z"/>
<path fill="#6491c4" d="M413 1205h21v21h-21z"/>
<path fill="#ccdcf0" d="M455 1205h21v21h-21z"/>
<path fill="#cbdcef" d="M476 1205h21v21h-21z"/>
<path fill="#c3d0eb" d="M497 1205h21v21h-21z"/>
<path fill="#95a6c8" d="M539 1205h21v21h-21z"/>
<path fill="#92a3c7" d="M560 1205h21v21h-21z"/>
<path fill="#a4b0d0" d="M602 1205h21v21h-21z"/>
<path fill="#a9b6d3" d="M623 1205h21v21h-21zM623 1226h21v21h-21z"/>
<path fill="#bec6d8" d="M644 1205h21v21h-21z"/>
<path fill="#c1c9db" d="M665 1205h21v21h-21z"/>
<path fill="#3d5fa5" d="M36 1226h21v21h-21z"/>
<path fill="#3c60a7" d="M78 1226h21v21h-21z"/>
<path fill="#3d65b1" d="M99 1226h21v21h-21z"/>
<path fill="#5981c1" d="M120 1226h21v21h-21z"/>
<path fill="#7b9bcd" d="M141 1226h21v21h-21z"/>
<path fill="#bfcbe1" d="M162 1226h21v21h-21z"/>
<path fill="#d7e0ea" d="M183 1226h21v21h-21z"/>
<path fill="#bdcbe2" d="M204 1226h21v21h-21z"/>
<path fill="#96aed2" d="M225 1226h21v21h-21z"/>
<path fill="#7a9bce" d="M246 1226h21v21h-21z"/>
<path fill="#5b88c7" d="M267 1226h21v21h-21z"/>
<path fill="#5888c4" d="M288 1226h21v21h-21z"/>
<path fill="#5b8bc4" d="M309 1226h21v21h-21z"/>
<path fill="#6797c4" d="M330 1226h21v21h-21z"/>
<path fill="#6595c8" d="M351 1226h21v21h-21z"/>
<path fill="#6a9acb" d="M372 1226h20v21h-20z"/>
<path fill="#6998cb" d="M392 1226h21v21h-21z"/>
<path fill="#6e98cb" d="M413 1226h21v21h-21z"/>
<path fill="#b0c3dd" d="M434 1226h21v21h-21z"/>
<path fill="#cfdff3" d="M455 1226h21v21h-21z"/>
<path fill="#c9d8ef" d="M476 1226h21v21h-21z"/>
<path fill="#bdc9ea" d="M497 1226h21v21h-21z"/>
<path fill="#aabad7" d="M518 1226h21v21h-21z"/>
<path fill="#95a6ca" d="M539 1226h21v21h-21zM581 1226h21v21h-21z"/>
<path fill="#a3b0d0" d="M602 1226h21v21h-21z"/>
<path fill="#bdc3d8" d="M644 1226h21v21h-21z"/>
<path fill="#bac0db" d="M665 1226h21v21h-21z"/>
<path fill="#3c66b5" d="M99 1247h21v21h-21z"/>
<path fill="#5b83c3" d="M120 1247h21v21h-21z"/>
<path fill="#92b2d5" d="M141 1247h21v21h-21z"/>
<path fill="#c4d7e7" d="M162 1247h21v21h-21z"/>
<path fill="#c6d7e6" d="M183 1247h21v21h-21z"/>
<path fill="#bbcbe2" d="M204 1247h21v21h-21z"/>
<path fill="#b8c8de" d="M225 1247h21v21h-21z"/>
<path fill="#9db2d0" d="M246 1247h21v21h-21z"/>
<path fill="#7598ce" d="M267 1247h21v21h-21z"/>
<path fill="#4c80c8" d="M288 1247h21v21h-21z"/>
<path fill="#6898d0" d="M309 1247h21v21h-21z"/>
<path fill="#87afd5" d="M330 1247h21v21h-21z"/>
<path fill="#a0c0dd" d="M351 1247h21v21h-21z"/>
<path fill="#a5c6e0" d="M372 1247h20v21h-20z"/>
<path fill="#8bafde" d="M392 1247h21v21h-21z"/>
<path fill="#9ab6d7" d="M413 1247h21v21h-21z"/>
<path fill="#b6c7e1" d="M434 1247h21v21h-21z"/>
<path fill="#bbcbe5" d="M455 1247h21v21h-21z"/>
<path fill="#becbe6" d="M476 1247h21v21h-21z"/>
<path fill="#abbbdf" d="M497 1247h21v21h-21z"/>
<path fill="#9fb2d6" d="M518 1247h21v21h-21z"/>
<path fill="#a3b4d4" d="M539 1247h21v21h-21z"/>
<path fill="#aebadb" d="M602 1247h21v21h-21z"/>
<path fill="#b3bfe0" d="M623 1247h21v21h-21z"/>
<path fill="#b7bfdf" d="M644 1247h21v21h-21z"/>
<path fill="#b7bfdc" d="M665 1247h21v21h-21z"/></g>
<g id="classified"><path fill="#803a80" d="M873 53h21v21h-21z"/>
<path fill="#813c81" d="M894 53h21v21h-21z"/>
<path fill="#8a4182" d="M915 53h21v21h-21z"/>
<path fill="#8b4282" d="M936 53h21v21h-21z"/>
<path fill="#9b4c88" d="M957 53h21v21h-21z"/>
<path fill="#b25d92" d="M978 53h21v21h-21z"/>
<path fill="#b25c92" d="M999 53h21v21h-21z"/>
<path fill="#ad5693" d="M1020 53h21v21h-21z"/>
<path fill="#a14d8a" d="M1041 53h21v21h-21z"/>
<path fill="#984885" d="M1062 53h21v21h-21zM1062 74h21v21h-21z"/>
<path fill="#924381" d="M1083 53h21v21h-21z"/>
<path fill="#8d407e" d="M1104 53h21v21h-21zM1355 325h21v21h-21z"/>
<path fill="#914382" d="M1125 53h21v21h-21zM1397 1226h21v21h-21zM1439 1226h21v21h-21z"/>
<path fill="#984986" d="M1146 53h21v21h-21z"/>
<path fill="#934583" d="M1167 53h21v21h-21zM1146 74h21v21h-21zM1062 95h21v21h-21zM1376 849h21v21h-21z"/>
<path fill="#85397b" d="M1188 53h21v21h-21zM1229 95h21v21h-21zM1376 723h21v21h-21z"/>
<path fill="#81367a" d="M1209 53h20v21h-20z"/>
<path fill="#7f3479" d="M1229 53h21v21h-21z"/>
<path fill="#873a7a" d="M1250 53h21v21h-21z"/>
<path fill="#8d3e7b" d="M1271 53h21v21h-21z"/>
<path fill="#7f3576" d="M1292 53h42v21h-42zM1460 1100h21v21h-21z"/>
<path fill="#883b79" d="M1334 53h21v21h-21z"/>
<path fill="#8a3d79" d="M1355 53h21v21h-21z"/>
<path fill="#813577" d="M1376 53h21v21h-21z"/>
<path fill="#7f3475" d="M1397 53h21v21h-21zM1439 200h21v20h-21z"/>
<path fill="#772e71" d="M1418 53h21v21h-21zM1397 95h21v21h-21zM1376 158h21v21h-21zM1355 241h21v21h-21zM1418 283h21v21h-21zM1502 514h21v21h-21zM1481 660h21v21h-21z"/>
<path fill="#742a6d" d="M1439 53h21v21h-21z"/>
<path fill="#752c6f" d="M1460 53h21v21h-21zM1439 514h21v21h-21z"/>
<path fill="#793073" d="M1481 53h21v21h-21zM1376 304h21v21h-21z"/>
<path fill="#7f3676" d="M1502 53h21v21h-21zM1418 891h21v21h-21z"/>
<path fill="#803778" d="M1523 53h21v21h-21zM1418 912h21v21h-21z"/>
<path fill="#bb6797" d="M1544 53h21v21h-21zM1544 74h21v21h-21zM1544 95h21v21h-21zM1544 116h21v21h-21zM1544 137h21v21h-21zM1544 158h21v21h-21zM1544 179h21v21h-21zM1544 200h21v20h-21zM1544 220h21v21h-21zM1544 241h21v21h-21zM1544 262h21v21h-21zM1544 283h21v21h-21zM1544 304h21v21h-21zM1544 325h21v21h-21zM1544 346h21v21h-21zM1544 367h21v21h-21zM1544 388h21v21h-21zM1544 409h21v21h-21zM1544 430h21v21h-21zM1544 451h21v21h-21zM1544 472h21v21h-21zM1544 493h21v21h-21zM1544 514h21v21h-21zM1544 535h21v21h-21zM1544 556h21v20h-21zM1544 576h21v21h-21zM1544 597h21v21h-21zM1544 618h21v21h-21zM1544 639h21v21h-21zM1544 660h21v21h-21zM1544 681h21v21h-21zM1544 702h21v21h-21zM1544 723h21v21h-21zM1544 744h21v21h-21zM1544 765h21v21h-21zM1544 786h21v21h-21zM1544 807h21v21h-21zM1544 828h21v21h-21zM1544 849h21v21h-21zM1544 870h21v21h-21zM1544 891h21v21h-21zM1544 912h21v21h-21zM1544 933h21v20h-21zM1544 953h21v21h-21zM1544 974h21v21h-21zM1544 995h21v21h-21zM1544 1016h21v21h-21zM1544 1037h21v21h-21zM1544 1058h21v21h-21zM1544 1079h21v21h-21zM1544 1100h21v21h-21zM1544 1121h21v21h-21zM1544 1142h21v21h-21zM1544 1163h21v21h-21zM1544 1184h21v21h-21zM1544 1205h21v21h-21zM1544 1226h21v21h-21zM1544 1247h21v21h-21z"/>
<path fill="#8c4483" d="M873 74h21v21h-21zM1188 744h21v21h-21z"/>
<path fill="#964985" d="M894 74h21v21h-21zM1229 304h42v21h-42z"/>
<path fill="#974984" d="M915 74h21v21h-21zM999 220h21v21h-21z"/>
<path fill="#9a4b85" d="M936 74h21v21h-21z"/>
<path fill="#9e4e87" d="M957 74h21v21h-21zM1062 179h21v21h-21z"/>
<path fill="#ac598d" d="M978 74h21v21h-21z"/>
<path fill="#ab578d" d="M999 74h21v21h-21z"/>
<path fill="#aa558e" d="M1020 74h21v21h-21z"/>
<path fill="#a14d89" d="M1041 74h21v21h-21z"/>
<path fill="#914381" d="M1083 74h21v21h-21zM1271 179h21v21h-21zM1502 807h21v21h-21zM1502 1163h42v21h-42zM1397 1205h21v21h-21zM1439 1205h21v21h-21z"/>
<path fill="#873c7d" d="M1104 74h21v21h-21zM1104 116h21v21h-21zM1313 639h21v21h-21zM1397 974h21v21h-21z"/>
<path fill="#904381" d="M1125 74h21v21h-21zM1167 74h21v21h-21zM1083 95h21v21h-21zM1229 200h21v20h-21zM1271 200h21v20h-21zM1250 220h21v21h-21zM1292 304h21v21h-21zM1355 891h21v21h-21z"/>
<path fill="#84387b" d="M1188 74h21v21h-21z"/>
<path fill="#80357a" d="M1209 74h20v21h-20z"/>
<path fill="#803579" d="M1229 74h21v21h-21zM1502 451h21v21h-21zM1397 723h21v21h-21z"/>
<path fill="#863a7b" d="M1250 74h21v21h-21zM1397 744h21v21h-21zM1418 974h21v21h-21z"/>
<path fill="#8b3c7b" d="M1271 74h21v21h-21z"/>
<path fill="#803577" d="M1292 74h21v21h-21zM1502 702h21v21h-21zM1523 1037h21v21h-21zM1523 1121h21v21h-21z"/>
<path fill="#7d3375" d="M1313 74h21v21h-21zM1502 116h21v21h-21z"/>
<path fill="#863a77" d="M1334 74h21v21h-21z"/>
<path fill="#823575" d="M1355 74h21v21h-21z"/>
<path fill="#7e3374" d="M1376 74h21v21h-21zM1523 639h21v21h-21z"/>
<path fill="#7c3173" d="M1397 74h21v21h-21zM1502 200h21v20h-21z"/>
<path fill="#762d6f" d="M1418 74h21v21h-21zM1460 74h21v21h-21zM1481 388h21v21h-21z"/>
<path fill="#742b6e" d="M1439 74h21v21h-21z"/>
<path fill="#772e70" d="M1481 74h21v21h-21zM1418 95h21v21h-21zM1418 116h21v21h-21z"/>
<path fill="#7e3474" d="M1502 74h21v21h-21zM1523 346h21v21h-21z"/>
<path fill="#843979" d="M1523 74h21v21h-21zM1439 179h21v21h-21zM1439 953h21v21h-21z"/>
<path fill="#9d5089" d="M873 95h21v21h-21z"/>
<path fill="#9e4f8a" d="M894 95h21v21h-21z"/>
<path fill="#9c4d87" d="M915 95h21v21h-21z"/>
<path fill="#984984" d="M936 95h21v21h-21zM1062 158h21v21h-21z"/>
<path fill="#974883" d="M957 95h21v21h-21zM1313 367h21v21h-21z"/>
<path fill="#9d4d86" d="M978 95h21v21h-21zM1020 200h21v20h-21z"/>
<path fill="#9e4d87" d="M999 95h21v21h-21z"/>
<path fill="#a14e88" d="M1020 95h21v21h-21zM1502 1226h21v21h-21z"/>
<path fill="#9f4c88" d="M1041 95h21v21h-21z"/>
<path fill="#863b7d" d="M1104 95h21v21h-21zM1313 618h21v21h-21zM1481 1037h21v21h-21z"/>
<path fill="#8d4180" d="M1125 95h21v21h-21zM1376 870h21v21h-21z"/>
<path fill="#954882" d="M1146 95h21v21h-21z"/>
<path fill="#924481" d="M1167 95h21v21h-21z"/>
<path fill="#893c7d" d="M1188 95h21v21h-21zM1229 137h21v21h-21zM1439 1058h21v21h-21z"/>
<path fill="#83377b" d="M1209 95h20v21h-20z"/>
<path fill="#8c3e7d" d="M1250 95h21v21h-21z"/>
<path fill="#8a3c7d" d="M1271 95h21v21h-21z"/>
<path fill="#833779" d="M1292 95h21v21h-21zM1418 807h21v21h-21zM1418 849h21v21h-21z"/>
<path fill="#7c3274" d="M1313 95h21v21h-21zM1418 179h21v21h-21zM1481 200h21v20h-21zM1355 283h21v21h-21zM1439 283h21v21h-21zM1502 346h21v21h-21z"/>
<path fill="#7f3474" d="M1334 95h21v21h-21z"/>
<path fill="#7e3273" d="M1355 95h21v21h-21z"/>
<path fill="#782f72" d="M1376 95h21v21h-21z"/>
<path fill="#762c6f" d="M1439 95h21v21h-21zM1523 597h21v21h-21z"/>
<path fill="#772d70" d="M1460 95h21v21h-21zM1355 116h21v21h-21zM1502 367h21v21h-21zM1523 388h21v21h-21z"/>
<path fill="#762d70" d="M1481 95h21v21h-21zM1397 116h21v21h-21zM1355 262h21v21h-21zM1523 262h21v21h-21zM1397 325h21v21h-21zM1397 346h21v21h-21zM1481 367h21v21h-21zM1502 388h21v21h-21zM1502 639h21v21h-21z"/>
<path fill="#7d3374" d="M1502 95h21v21h-21zM1523 325h21v21h-21zM1502 660h21v21h-21z"/>
<path fill="#853a79" d="M1523 95h21v21h-21zM1397 828h21v21h-21zM1502 1016h21v21h-21z"/>
<path fill="#974d88" d="M873 116h21v21h-21z"/>
<path fill="#a0508a" d="M894 116h21v21h-21z"/>
<path fill="#9e4f88" d="M915 116h21v21h-21z"/>
<path fill="#984884" d="M936 116h21v21h-21zM1523 912h21v21h-21zM1460 1184h21v21h-21z"/>
<path fill="#8d4181" d="M957 116h21v21h-21zM1313 514h21v21h-21z"/>
<path fill="#8b3f80" d="M978 116h21v21h-21z"/>
<path fill="#8c3f80" d="M999 116h21v21h-21zM957 158h21v21h-21zM1313 325h21v21h-21zM1439 995h21v21h-21z"/>
<path fill="#8e4182" d="M1020 116h21v21h-21z"/>
<path fill="#914482" d="M1041 116h21v21h-21zM1083 116h21v21h-21zM1271 283h21v21h-21zM1313 430h21v21h-21zM1313 535h21v21h-21z"/>
<path fill="#924483" d="M1062 116h21v21h-21z"/>
<path fill="#90437f" d="M1125 116h21v21h-21zM1523 849h21v21h-21z"/>
<path fill="#944781" d="M1146 116h21v21h-21z"/>
<path fill="#8b4080" d="M1167 116h21v21h-21zM1334 535h21v21h-21z"/>
<path fill="#8c417f" d="M1188 116h21v21h-21zM1188 137h21v21h-21z"/>
<path fill="#863a7c" d="M1209 116h20v21h-20zM1313 179h21v21h-21z"/>
<path fill="#883a7b" d="M1229 116h21v21h-21z"/>
<path fill="#8b3d7d" d="M1250 116h21v21h-21zM1292 137h21v21h-21z"/>
<path fill="#904180" d="M1271 116h21v21h-21zM1397 1163h21v21h-21z"/>
<path fill="#873a7b" d="M1292 116h21v21h-21z"/>
<path fill="#7c3275" d="M1313 116h21v21h-21z"/>
<path fill="#7e3373" d="M1334 116h21v21h-21z"/>
<path fill="#752d70" d="M1376 116h21v21h-21z"/>
<path fill="#793071" d="M1439 116h21v21h-21zM1481 430h21v21h-21z"/>
<path fill="#742c71" d="M1460 116h21v21h-21zM1439 346h21v21h-21z"/>
<path fill="#772d71" d="M1481 116h21v21h-21zM1523 241h21v21h-21zM1502 262h21v21h-21zM1523 283h21v21h-21zM1418 325h21v21h-21z"/>
<path fill="#863c7b" d="M1523 116h21v21h-21z"/>
<path fill="#964b87" d="M873 137h21v21h-21z"/>
<path fill="#a4538c" d="M894 137h21v21h-21z"/>
<path fill="#a3538a" d="M915 137h21v21h-21zM1250 514h21v21h-21z"/>
<path fill="#994a85" d="M936 137h21v21h-21z"/>
<path fill="#893d7e" d="M957 137h21v21h-21zM1460 1058h21v21h-21z"/>
<path fill="#803678" d="M978 137h21v21h-21zM1460 953h21v21h-21z"/>
<path fill="#853b7b" d="M999 137h21v21h-21z"/>
<path fill="#8c4180" d="M1020 137h21v21h-21z"/>
<path fill="#914481" d="M1041 137h21v21h-21zM1523 828h21v21h-21z"/>
<path fill="#944583" d="M1062 137h21v21h-21z"/>
<path fill="#934581" d="M1083 137h21v21h-21zM1481 786h21v21h-21z"/>
<path fill="#92447f" d="M1104 137h21v21h-21z"/>
<path fill="#93467f" d="M1125 137h21v21h-21zM1125 158h21v21h-21z"/>
<path fill="#924681" d="M1146 137h21v21h-21z"/>
<path fill="#863e81" d="M1167 137h21v21h-21z"/>
<path fill="#8c3f7e" d="M1209 137h20v21h-20z"/>
<path fill="#8d3f7f" d="M1250 137h21v21h-21zM1418 1163h21v21h-21zM1397 1184h42v21h-42z"/>
<path fill="#964683" d="M1271 137h21v21h-21z"/>
<path fill="#7c3276" d="M1313 137h21v21h-21z"/>
<path fill="#7b3072" d="M1334 137h21v21h-21zM1460 262h21v21h-21z"/>
<path fill="#79306e" d="M1355 137h21v21h-21z"/>
<path fill="#742b70" d="M1376 137h21v21h-21z"/>
<path fill="#792f6f" d="M1397 137h21v21h-21z"/>
<path fill="#782f70" d="M1418 137h21v21h-21z"/>
<path fill="#7a3071" d="M1439 137h21v21h-21zM1397 179h21v21h-21zM1523 367h21v21h-21z"/>
<path fill="#7a3172" d="M1460 137h21v21h-21zM1460 660h21v21h-21z"/>
<path fill="#7a3073" d="M1481 137h21v21h-21zM1418 200h21v20h-21zM1523 409h21v21h-21z"/>
<path fill="#7e3475" d="M1502 137h21v21h-21z"/>
<path fill="#8d407d" d="M1523 137h21v21h-21z"/>
<path fill="#954b87" d="M873 158h21v21h-21zM1334 995h21v21h-21z"/>
<path fill="#a7568d" d="M894 158h21v21h-21z"/>
<path fill="#a5548a" d="M915 158h21v21h-21z"/>
<path fill="#9a4a86" d="M936 158h21v21h-21zM936 179h21v21h-21z"/>
<path fill="#863b7c" d="M978 158h21v21h-21z"/>
<path fill="#914480" d="M999 158h21v21h-21zM1209 158h20v21h-20z"/>
<path fill="#984983" d="M1020 158h21v21h-21z"/>
<path fill="#9b4b85" d="M1041 158h21v21h-21z"/>
<path fill="#944681" d="M1083 158h21v21h-21z"/>
<path fill="#93477f" d="M1104 158h21v21h-21z"/>
<path fill="#552597" d="M1146 158h42v21h-42zM1125 179h63v21h-63zM1104 200h84v20h-84zM1104 220h105v21h-105zM1083 241h126v21h-126zM1062 262h147v21h-147zM978 283h231v21h-231zM957 304h272v21h-272zM957 325h272v21h-272zM957 346h272v21h-272zM957 367h272v21h-272zM978 388h251v21h-251zM978 409h251v21h-251zM978 430h251v21h-251zM978 451h251v21h-251zM978 472h231v21h-231zM957 493h252v21h-252zM936 514h273v21h-273zM915 535h294v21h-294zM894 556h315v20h-315zM873 576h336v21h-336zM873 597h336v21h-336zM873 618h336v21h-336zM873 639h336v21h-336zM873 660h336v21h-336zM873 681h336v21h-336zM873 702h336v21h-336zM873 723h315v21h-315zM873 744h315v21h-315zM873 765h315v21h-315zM873 786h315v21h-315zM873 807h315v21h-315zM873 828h336v21h-336zM873 849h336v21h-336zM873 870h356v21h-356zM873 891h356v21h-356zM873 912h377v21h-377zM873 933h377v20h-377zM873 953h398v21h-398zM873 974h419v21h-419zM873 995h440v21h-440zM873 1016h461v21h-461zM873 1037h482v21h-482zM873 1058h482v21h-482zM873 1079h461v21h-461zM873 1100h461v21h-461zM873 1121h461v21h-461zM873 1142h461v21h-461zM873 1163h440v21h-440zM873 1184h440v21h-440zM873 1205h147v21h-147zM1083 1205h209v21h-209zM873 1226h147v21h-147zM1104 1226h188v21h-188zM894 1247h126v21h-126zM1125 1247h63v21h-63z"/>
<path fill="#8f4381" d="M1188 158h21v21h-21zM1271 241h21v21h-21zM1334 346h21v21h-21z"/>
<path fill="#8e3f7f" d="M1229 158h21v21h-21z"/>
<path fill="#8e4080" d="M1250 158h21v21h-21zM1229 179h21v21h-21z"/>
<path fill="#944682" d="M1271 158h21v21h-21z"/>
<path fill="#8d3f7e" d="M1292 158h21v21h-21zM1313 304h21v21h-21z"/>
<path fill="#7e3377" d="M1313 158h21v21h-21z"/>
<path fill="#7c3273" d="M1334 158h21v21h-21zM1376 179h21v21h-21z"/>
<path fill="#7b3170" d="M1355 158h21v21h-21z"/>
<path fill="#7b3071" d="M1397 158h21v21h-21z"/>
<path fill="#792f71" d="M1418 158h21v21h-21zM1376 241h42v21h-42z"/>
<path fill="#7f3575" d="M1439 158h21v21h-21z"/>
<path fill="#803575" d="M1460 158h21v21h-21z"/>
<path fill="#7d3274" d="M1481 158h21v21h-21z"/>
<path fill="#803576" d="M1502 158h21v21h-21z"/>
<path fill="#8d417d" d="M1523 158h21v21h-21z"/>
<path fill="#a1538a" d="M873 179h21v21h-21z"/>
<path fill="#a8568d" d="M894 179h21v21h-21z"/>
<path fill="#a5548b" d="M915 179h21v21h-21zM915 200h21v20h-21zM1229 535h42v21h-42z"/>
<path fill="#8f4281" d="M957 179h21v21h-21zM1271 262h21v21h-21zM1460 1016h21v21h-21z"/>
<path fill="#8e4280" d="M978 179h21v21h-21zM1334 367h21v21h-21zM1376 953h21v21h-21z"/>
<path fill="#974983" d="M999 179h21v21h-21zM1250 241h21v21h-21z"/>
<path fill="#9c4d85" d="M1020 179h21v21h-21z"/>
<path fill="#a25287" d="M1041 179h21v21h-21zM1041 200h21v20h-21z"/>
<path fill="#8e4382" d="M1083 179h21v21h-21zM1313 388h21v21h-21z"/>
<path fill="#833d80" d="M1104 179h21v21h-21z"/>
<path fill="#904380" d="M1188 179h21v21h-21zM1334 702h21v21h-21z"/>
<path fill="#924581" d="M1209 179h20v21h-20zM1209 200h20v20h-20z"/>
<path fill="#8d4080" d="M1250 179h21v21h-21z"/>
<path fill="#8f427f" d="M1292 179h21v21h-21zM1292 200h21v20h-21zM1334 325h21v21h-21zM1481 744h21v21h-21z"/>
<path fill="#7f3477" d="M1334 179h21v21h-21zM1439 765h21v21h-21z"/>
<path fill="#7d3273" d="M1355 179h21v21h-21z"/>
<path fill="#823677" d="M1460 179h21v21h-21zM1481 283h21v21h-21zM1481 325h21v21h-21zM1418 702h21v21h-21z"/>
<path fill="#7e3275" d="M1481 179h21v21h-21z"/>
<path fill="#7f3476" d="M1502 179h21v21h-21zM1460 200h21v20h-21zM1502 304h21v21h-21zM1502 325h21v21h-21z"/>
<path fill="#8c3f7c" d="M1523 179h21v21h-21z"/>
<path fill="#ac5a8e" d="M873 200h21v20h-21z"/>
<path fill="#ae5a90" d="M894 200h21v20h-21z"/>
<path fill="#994985" d="M936 200h21v20h-21z"/>
<path fill="#934682" d="M957 200h21v20h-21zM1229 241h21v21h-21zM1355 765h21v21h-21zM1355 953h21v21h-21z"/>
<path fill="#914581" d="M978 200h21v20h-21zM1334 472h21v21h-21z"/>
<path fill="#964883" d="M999 200h21v20h-21zM957 220h21v21h-21z"/>
<path fill="#a05087" d="M1062 200h21v20h-21z"/>
<path fill="#8c4282" d="M1083 200h21v20h-21z"/>
<path fill="#8d427f" d="M1188 200h21v20h-21z"/>
<path fill="#904280" d="M1250 200h21v20h-21zM1355 723h21v21h-21z"/>
<path fill="#883b7c" d="M1313 200h21v20h-21z"/>
<path fill="#7e3376" d="M1334 200h21v20h-21z"/>
<path fill="#7d3373" d="M1355 200h42v20h-42z"/>
<path fill="#7a3072" d="M1397 200h21v20h-21zM1376 220h21v21h-21zM1460 220h21v21h-21zM1418 241h42v21h-42zM1439 262h21v21h-21zM1523 535h21v21h-21z"/>
<path fill="#813676" d="M1523 200h21v20h-21zM1460 283h21v21h-21z"/>
<path fill="#ad5b90" d="M873 220h21v21h-21z"/>
<path fill="#ad5990" d="M894 220h21v21h-21z"/>
<path fill="#a3528b" d="M915 220h21v21h-21z"/>
<path fill="#984985" d="M936 220h21v21h-21zM1292 367h21v21h-21zM1292 388h21v21h-21z"/>
<path fill="#944782" d="M978 220h21v21h-21z"/>
<path fill="#a05089" d="M1020 220h21v21h-21z"/>
<path fill="#a25388" d="M1041 220h21v21h-21z"/>
<path fill="#a05187" d="M1062 220h21v21h-21z"/>
<path fill="#8b4281" d="M1083 220h21v21h-21z"/>
<path fill="#904480" d="M1209 220h20v21h-20zM1334 430h21v21h-21z"/>
<path fill="#924582" d="M1229 220h21v21h-21zM1334 723h21v21h-21z"/>
<path fill="#8e4281" d="M1271 220h21v21h-21zM1376 828h21v21h-21z"/>
<path fill="#8e427f" d="M1292 220h21v21h-21z"/>
<path fill="#883d7d" d="M1313 220h21v21h-21z"/>
<path fill="#7d3376" d="M1334 220h21v21h-21zM1376 325h21v21h-21z"/>
<path fill="#7b3173" d="M1355 220h21v21h-21zM1439 220h21v21h-21z"/>
<path fill="#792f72" d="M1397 220h21v21h-21z"/>
<path fill="#782e72" d="M1418 220h21v21h-21zM1418 304h21v21h-21z"/>
<path fill="#7a2f72" d="M1481 220h21v21h-21zM1460 241h42v21h-42z"/>
<path fill="#7a2f71" d="M1502 220h21v21h-21z"/>
<path fill="#7b3172" d="M1523 220h21v21h-21z"/>
<path fill="#ac5a90" d="M873 241h21v21h-21z"/>
<path fill="#a6548d" d="M894 241h21v21h-21z"/>
<path fill="#a04f8a" d="M915 241h21v21h-21z"/>
<path fill="#9e4e89" d="M936 241h21v21h-21z"/>
<path fill="#9e4f87" d="M957 241h21v21h-21z"/>
<path fill="#9b4e86" d="M978 241h42v21h-42z"/>
<path fill="#a4558a" d="M1020 241h21v21h-21z"/>
<path fill="#a05288" d="M1041 241h21v21h-21z"/>
<path fill="#984d86" d="M1062 241h21v21h-21z"/>
<path fill="#8d4280" d="M1209 241h20v21h-20z"/>
<path fill="#8d407f" d="M1292 241h21v21h-21zM1292 283h21v21h-21z"/>
<path fill="#873c7c" d="M1313 241h21v21h-21zM1397 953h21v21h-21z"/>
<path fill="#782f75" d="M1334 241h21v21h-21z"/>
<path fill="#792e71" d="M1502 241h21v21h-21z"/>
<path fill="#aa5790" d="M873 262h21v21h-21z"/>
<path fill="#9e4d8a" d="M894 262h21v21h-21z"/>
<path fill="#9f4e8b" d="M915 262h21v21h-21z"/>
<path fill="#a75690" d="M936 262h21v21h-21z"/>
<path fill="#a95a8e" d="M957 262h21v21h-21z"/>
<path fill="#a3568b" d="M978 262h21v21h-21z"/>
<path fill="#964e88" d="M999 262h21v21h-21z"/>
<path fill="#8c4687" d="M1020 262h21v21h-21z"/>
<path fill="#8b4586" d="M1041 262h21v21h-21zM1334 1016h21v21h-21z"/>
<path fill="#8c4280" d="M1209 262h20v21h-20z"/>
<path fill="#994b85" d="M1229 262h21v21h-21z"/>
<path fill="#954783" d="M1250 262h21v21h-21z"/>
<path fill="#893d7d" d="M1292 262h21v21h-21zM1481 828h21v21h-21zM1418 1121h21v21h-21z"/>
<path fill="#7e3477" d="M1313 262h21v21h-21z"/>
<path fill="#772e72" d="M1334 262h21v21h-21z"/>
<path fill="#772d6f" d="M1376 262h21v21h-21z"/>
<path fill="#782e70" d="M1397 262h21v21h-21z"/>
<path fill="#792f70" d="M1418 262h21v21h-21z"/>
<path fill="#782d71" d="M1481 262h21v21h-21zM1523 618h21v21h-21z"/>
<path fill="#a8568f" d="M873 283h21v21h-21z"/>
<path fill="#9b4a87" d="M894 283h21v21h-21z"/>
<path fill="#9d4d89" d="M915 283h21v21h-21z"/>
<path fill="#a8588f" d="M936 283h21v21h-21z"/>
<path fill="#a5588e" d="M957 283h21v21h-21z"/>
<path fill="#8b4283" d="M1209 283h20v21h-20z"/>
<path fill="#9a4e85" d="M1229 283h21v21h-21z"/>
<path fill="#974a84" d="M1250 283h21v21h-21z"/>
<path fill="#843a7a" d="M1313 283h21v21h-21z"/>
<path fill="#813778" d="M1334 283h21v21h-21zM1481 953h21v21h-21z"/>
<path fill="#762d71" d="M1376 283h21v21h-21zM1418 346h21v21h-21zM1460 346h21v21h-21z"/>
<path fill="#742b6f" d="M1397 283h21v21h-21zM1397 304h21v21h-21z"/>
<path fill="#7c3174" d="M1502 283h21v21h-21zM1523 304h21v21h-21z"/>
<path fill="#bb394a" d="M873 304h21v21h-21zM873 325h21v21h-21zM873 346h84v21h-84zM894 367h63v21h-63zM894 388h63v21h-63zM894 409h63v21h-63zM894 430h63v21h-63zM894 451h63v21h-63zM894 472h63v21h-63zM873 493h63v21h-63zM873 514h42v21h-42zM873 535h21v21h-21zM1209 744h83v21h-83zM1209 765h83v21h-83zM1209 786h83v21h-83zM1209 807h83v21h-83zM1209 828h62v21h-62zM1209 849h20v21h-20z"/>
<path fill="#984786" d="M894 304h21v21h-21z"/>
<path fill="#9c4c88" d="M915 304h21v21h-21z"/>
<path fill="#a5578f" d="M936 304h21v21h-21zM936 325h21v21h-21z"/>
<path fill="#944783" d="M1271 304h21v21h-21z"/>
<path fill="#883c7b" d="M1334 304h21v21h-21zM1397 765h21v21h-21z"/>
<path fill="#843879" d="M1355 304h21v21h-21z"/>
<path fill="#863b78" d="M1439 304h21v21h-21zM1523 660h21v21h-21zM1502 974h21v21h-21z"/>
<path fill="#8b3f77" d="M1460 304h21v21h-21z"/>
<path fill="#8b3d79" d="M1481 304h21v21h-21z"/>
<path fill="#a6548e" d="M894 325h21v21h-21z"/>
<path fill="#a5558e" d="M915 325h21v21h-21z"/>
<path fill="#8c4484" d="M1229 325h21v21h-21z"/>
<path fill="#944784" d="M1250 325h21v21h-21zM1313 472h21v21h-21z"/>
<path fill="#974985" d="M1271 325h21v21h-21zM1292 681h21v21h-21z"/>
<path fill="#944683" d="M1292 325h21v21h-21z"/>
<path fill="#803674" d="M1439 325h21v21h-21z"/>
<path fill="#843976" d="M1460 325h21v21h-21z"/>
<path fill="#8c4586" d="M1229 346h21v21h-21z"/>
<path fill="#984c87" d="M1250 346h21v21h-21zM1229 430h21v21h-21z"/>
<path fill="#994c87" d="M1271 346h21v21h-21z"/>
<path fill="#964785" d="M1292 346h21v21h-21zM1292 702h21v21h-21z"/>
<path fill="#954584" d="M1313 346h21v21h-21z"/>
<path fill="#8e4380" d="M1355 346h21v21h-21z"/>
<path fill="#7f3578" d="M1376 346h21v21h-21zM1502 1100h21v21h-21z"/>
<path fill="#762d72" d="M1481 346h21v21h-21z"/>
<path fill="#a85890" d="M873 367h21v21h-21z"/>
<path fill="#8d4686" d="M1229 367h21v21h-21z"/>
<path fill="#9d4f86" d="M1250 367h21v21h-21z"/>
<path fill="#9f5087" d="M1271 367h21v21h-21z"/>
<path fill="#873e7c" d="M1355 367h21v21h-21z"/>
<path fill="#793274" d="M1376 367h21v21h-21z"/>
<path fill="#742c6e" d="M1397 367h42v21h-42zM1460 388h21v21h-21zM1460 472h21v21h-21z"/>
<path fill="#742d6e" d="M1439 367h21v21h-21z"/>
<path fill="#752d6f" d="M1460 367h21v21h-21zM1460 409h21v21h-21zM1481 493h21v21h-21zM1502 535h21v21h-21z"/>
<path fill="#a2538e" d="M873 388h21v21h-21z"/>
<path fill="#8b4388" d="M957 388h21v21h-21z"/>
<path fill="#8e4687" d="M1229 388h21v21h-21zM1313 1163h21v21h-21z"/>
<path fill="#9d4f87" d="M1250 388h21v21h-21zM1250 409h21v21h-21z"/>
<path fill="#9f5088" d="M1271 388h21v21h-21z"/>
<path fill="#843a7c" d="M1334 388h21v21h-21z"/>
<path fill="#7e3576" d="M1355 388h21v21h-21z"/>
<path fill="#793174" d="M1376 388h21v21h-21z"/>
<path fill="#752d6e" d="M1397 388h21v21h-21z"/>
<path fill="#732b6d" d="M1418 388h21v21h-21zM1439 409h21v21h-21zM1439 430h21v21h-21z"/>
<path fill="#712a6c" d="M1439 388h21v21h-21zM1439 597h63v21h-63zM1418 618h21v21h-21z"/>
<path fill="#a1528d" d="M873 409h21v21h-21zM1334 1247h21v21h-21z"/>
<path fill="#863f85" d="M957 409h21v21h-21z"/>
<path fill="#914786" d="M1229 409h21v21h-21z"/>
<path fill="#9f5089" d="M1271 409h21v21h-21zM1229 472h21v21h-21z"/>
<path fill="#974a86" d="M1292 409h21v21h-21z"/>
<path fill="#904382" d="M1313 409h21v21h-21zM1292 597h21v21h-21zM1292 618h21v21h-21zM1313 702h21v21h-21zM1418 1226h21v21h-21z"/>
<path fill="#8b407f" d="M1334 409h21v21h-21zM1334 493h21v21h-21zM1355 933h21v20h-21z"/>
<path fill="#863d7b" d="M1355 409h21v21h-21z"/>
<path fill="#7b3376" d="M1376 409h21v21h-21z"/>
<path fill="#732b6e" d="M1397 409h21v21h-21zM1460 493h21v21h-21z"/>
<path fill="#722b6e" d="M1418 409h21v21h-21zM1418 430h21v21h-21zM1418 451h21v21h-21zM1418 472h21v21h-21zM1460 514h21v21h-21zM1460 535h21v21h-21z"/>
<path fill="#762e70" d="M1481 409h21v21h-21z"/>
<path fill="#772f72" d="M1502 409h21v21h-21zM1418 576h21v21h-21z"/>
<path fill="#9f508b" d="M873 430h21v21h-21zM1334 849h21v21h-21z"/>
<path fill="#8c4384" d="M957 430h21v21h-21z"/>
<path fill="#9e5088" d="M1250 430h21v21h-21z"/>
<path fill="#974a87" d="M1271 430h21v21h-21zM1334 828h21v21h-21z"/>
<path fill="#964886" d="M1292 430h21v21h-21zM1376 1100h21v21h-21zM1376 1121h21v21h-21zM1376 1142h21v21h-21zM1397 1247h21v21h-21z"/>
<path fill="#883e7d" d="M1355 430h21v21h-21zM1355 451h21v21h-21z"/>
<path fill="#7a3277" d="M1376 430h21v21h-21z"/>
<path fill="#722b6f" d="M1397 430h21v21h-21z"/>
<path fill="#79306f" d="M1460 430h21v21h-21z"/>
<path fill="#793175" d="M1502 430h21v21h-21z"/>
<path fill="#813679" d="M1523 430h21v21h-21zM1418 723h21v21h-21z"/>
<path fill="#ab5a91" d="M873 451h21v21h-21z"/>
<path fill="#934886" d="M957 451h21v21h-21zM1188 807h21v21h-21z"/>
<path fill="#984b87" d="M1229 451h21v21h-21zM894 535h21v21h-21z"/>
<path fill="#9d4f88" d="M1250 451h21v21h-21z"/>
<path fill="#964986" d="M1271 451h21v21h-21z"/>
<path fill="#924584" d="M1292 451h21v21h-21z"/>
<path fill="#964884" d="M1313 451h21v21h-21zM1334 786h21v21h-21z"/>
<path fill="#934681" d="M1334 451h21v21h-21z"/>
<path fill="#7c3578" d="M1376 451h21v21h-21z"/>
<path fill="#732b70" d="M1397 451h21v21h-21zM1418 493h21v21h-21z"/>
<path fill="#71296c" d="M1439 451h21v21h-21zM1481 556h21v20h-21zM1481 639h21v21h-21z"/>
<path fill="#772f6f" d="M1460 451h21v21h-21z"/>
<path fill="#793072" d="M1481 451h21v21h-21zM1481 472h21v21h-21z"/>
<path fill="#8e407e" d="M1523 451h21v21h-21z"/>
<path fill="#aa5991" d="M873 472h21v21h-21z"/>
<path fill="#8d4484" d="M957 472h21v21h-21z"/>
<path fill="#8b4385" d="M1209 472h20v21h-20z"/>
<path fill="#9f5189" d="M1250 472h21v21h-21z"/>
<path fill="#9b4d88" d="M1271 472h21v21h-21z"/>
<path fill="#944785" d="M1292 472h21v21h-21z"/>
<path fill="#873e7e" d="M1355 472h21v21h-21z"/>
<path fill="#7d3578" d="M1376 472h21v21h-21z"/>
<path fill="#732b6f" d="M1397 472h21v21h-21z"/>
<path fill="#70296c" d="M1439 472h21v21h-21zM1439 639h21v21h-21z"/>
<path fill="#8a3d7c" d="M1502 472h21v21h-21z"/>
<path fill="#934481" d="M1523 472h21v21h-21z"/>
<path fill="#8e4585" d="M936 493h21v21h-21zM915 514h21v21h-21z"/>
<path fill="#8e4584" d="M1209 493h20v21h-20z"/>
<path fill="#a1528a" d="M1229 493h21v21h-21zM1271 576h21v21h-21z"/>
<path fill="#a15289" d="M1250 493h21v21h-21zM1250 576h21v21h-21zM1229 660h21v21h-21z"/>
<path fill="#9d4e89" d="M1271 493h21v21h-21z"/>
<path fill="#934685" d="M1292 493h21v21h-21zM1313 744h21v21h-21z"/>
<path fill="#8d4282" d="M1313 493h21v21h-21z"/>
<path fill="#863d7d" d="M1355 493h21v21h-21z"/>
<path fill="#7e3779" d="M1376 493h21v21h-21z"/>
<path fill="#7a3275" d="M1397 493h21v21h-21z"/>
<path fill="#712a6d" d="M1439 493h21v21h-21zM1418 639h21v21h-21z"/>
<path fill="#803676" d="M1502 493h21v21h-21zM1523 514h21v21h-21zM1481 702h21v21h-21zM1439 870h21v21h-21zM1439 1100h21v21h-21z"/>
<path fill="#8b3e7b" d="M1523 493h21v21h-21zM1481 995h21v21h-21z"/>
<path fill="#904684" d="M1209 514h20v21h-20z"/>
<path fill="#a3538b" d="M1229 514h21v21h-21z"/>
<path fill="#9d4f8a" d="M1271 514h21v21h-21z"/>
<path fill="#934584" d="M1292 514h21v21h-21z"/>
<path fill="#883e7e" d="M1334 514h21v21h-21z"/>
<path fill="#853c7c" d="M1355 514h21v21h-21z"/>
<path fill="#80387a" d="M1376 514h21v21h-21z"/>
<path fill="#7f3778" d="M1397 514h21v21h-21z"/>
<path fill="#7b3274" d="M1418 514h21v21h-21z"/>
<path fill="#71296e" d="M1481 514h21v21h-21z"/>
<path fill="#914683" d="M1209 535h20v21h-20zM1334 807h21v21h-21z"/>
<path fill="#9e508b" d="M1271 535h21v21h-21zM1397 1037h21v21h-21zM1292 1247h21v21h-21z"/>
<path fill="#984a87" d="M1292 535h21v21h-21zM1292 556h21v20h-21zM1250 870h21v21h-21zM1313 933h21v20h-21z"/>
<path fill="#863c7d" d="M1355 535h21v21h-21zM1313 576h21v21h-21zM1334 660h21v21h-21zM1376 933h21v20h-21z"/>
<path fill="#833a7b" d="M1376 535h21v21h-21z"/>
<path fill="#843c7b" d="M1397 535h21v21h-21z"/>
<path fill="#7c3475" d="M1418 535h21v21h-21z"/>
<path fill="#742d6f" d="M1439 535h21v21h-21zM1439 576h21v21h-21z"/>
<path fill="#70296e" d="M1481 535h21v21h-21z"/>
<path fill="#984d88" d="M873 556h21v20h-21z"/>
<path fill="#8c4182" d="M1209 556h20v20h-20z"/>
<path fill="#a6548c" d="M1229 556h21v20h-21z"/>
<path fill="#a7558c" d="M1250 556h21v20h-21z"/>
<path fill="#a6558d" d="M1271 556h21v20h-21z"/>
<path fill="#8b4180" d="M1313 556h21v20h-21z"/>
<path fill="#8c4080" d="M1334 556h21v20h-21z"/>
<path fill="#8c3f7f" d="M1355 556h21v20h-21z"/>
<path fill="#833a7c" d="M1376 556h21v20h-21z"/>
<path fill="#843b7a" d="M1397 556h21v20h-21z"/>
<path fill="#7d3474" d="M1418 556h21v20h-21zM1481 681h21v21h-21z"/>
<path fill="#742d70" d="M1439 556h21v20h-21z"/>
<path fill="#722a6d" d="M1460 556h21v20h-21zM1460 576h21v21h-21zM1502 576h21v21h-21z"/>
<path fill="#722a6e" d="M1502 556h21v20h-21z"/>
<path fill="#752b6f" d="M1523 556h21v20h-21z"/>
<path fill="#8b4082" d="M1209 576h20v21h-20z"/>
<path fill="#a1518a" d="M1229 576h21v21h-21z"/>
<path fill="#924684" d="M1292 576h21v21h-21z"/>
<path fill="#8b3f7e" d="M1334 576h21v21h-21zM1376 744h21v21h-21z"/>
<path fill="#8b3e7c" d="M1355 576h21v21h-21z"/>
<path fill="#7e3678" d="M1376 576h21v21h-21z"/>
<path fill="#7e3575" d="M1397 576h21v21h-21z"/>
<path fill="#71296b" d="M1481 576h21v21h-21zM1481 618h21v21h-21z"/>
<path fill="#742a6e" d="M1523 576h21v21h-21z"/>
<path fill="#813a81" d="M1209 597h20v21h-20z"/>
<path fill="#934785" d="M1229 597h21v21h-21z"/>
<path fill="#9a4c86" d="M1250 597h42v21h-42zM1334 870h21v21h-21z"/>
<path fill="#843a7d" d="M1313 597h21v21h-21z"/>
<path fill="#883d7c" d="M1334 597h21v21h-21zM1334 618h21v21h-21zM1460 1121h21v21h-21z"/>
<path fill="#863d7c" d="M1355 597h21v21h-21zM1355 639h21v21h-21z"/>
<path fill="#7d3577" d="M1376 597h21v21h-21z"/>
<path fill="#752e6f" d="M1397 597h21v21h-21z"/>
<path fill="#722b6d" d="M1418 597h21v21h-21z"/>
<path fill="#732a6c" d="M1502 597h21v21h-21z"/>
<path fill="#803981" d="M1209 618h20v21h-20z"/>
<path fill="#8e4384" d="M1229 618h21v21h-21z"/>
<path fill="#954885" d="M1250 618h21v21h-21zM1355 974h21v21h-21z"/>
<path fill="#984a86" d="M1271 618h21v21h-21zM1313 870h21v21h-21zM1355 870h21v21h-21zM1292 891h21v21h-21z"/>
<path fill="#863c7c" d="M1355 618h21v21h-21z"/>
<path fill="#7d3677" d="M1376 618h21v21h-21z"/>
<path fill="#722c6e" d="M1397 618h21v21h-21z"/>
<path fill="#70296b" d="M1439 618h42v21h-42zM1460 639h21v21h-21z"/>
<path fill="#742b6d" d="M1502 618h21v21h-21z"/>
<path fill="#813a80" d="M1209 639h20v21h-20z"/>
<path fill="#974a85" d="M1229 639h21v21h-21z"/>
<path fill="#9c4e87" d="M1250 639h21v21h-21z"/>
<path fill="#9b4c87" d="M1271 639h21v21h-21z"/>
<path fill="#934683" d="M1292 639h21v21h-21z"/>
<path fill="#873d7d" d="M1334 639h21v21h-21z"/>
<path fill="#7e3676" d="M1376 639h21v21h-21z"/>
<path fill="#732c6f" d="M1397 639h21v21h-21z"/>
<path fill="#863f83" d="M1209 660h20v21h-20z"/>
<path fill="#a8568a" d="M1250 660h21v21h-21z"/>
<path fill="#a55389" d="M1271 660h21v21h-21z"/>
<path fill="#964885" d="M1292 660h21v21h-21zM1334 765h21v21h-21z"/>
<path fill="#883d7e" d="M1313 660h21v21h-21z"/>
<path fill="#853b79" d="M1355 660h21v21h-21z"/>
<path fill="#863a76" d="M1376 660h21v21h-21zM1376 681h21v21h-21z"/>
<path fill="#7f3673" d="M1397 660h21v21h-21z"/>
<path fill="#7e3472" d="M1418 660h21v21h-21z"/>
<path fill="#7b3271" d="M1439 660h21v21h-21z"/>
<path fill="#863f84" d="M1209 681h20v21h-20z"/>
<path fill="#a0518a" d="M1229 681h21v21h-21z"/>
<path fill="#a9588c" d="M1250 681h21v21h-21z"/>
<path fill="#a8558c" d="M1271 681h21v21h-21z"/>
<path fill="#893f7f" d="M1313 681h21v21h-21z"/>
<path fill="#873d7c" d="M1334 681h21v21h-21zM1376 891h21v21h-21z"/>
<path fill="#853a77" d="M1355 681h21v21h-21z"/>
<path fill="#853975" d="M1397 681h21v21h-21z"/>
<path fill="#843875" d="M1418 681h21v21h-21z"/>
<path fill="#873975" d="M1439 681h21v21h-21z"/>
<path fill="#813675" d="M1460 681h21v21h-21z"/>
<path fill="#853a76" d="M1502 681h21v21h-21z"/>
<path fill="#893c79" d="M1523 681h21v21h-21z"/>
<path fill="#8b4284" d="M1209 702h20v21h-20z"/>
<path fill="#9f508a" d="M1229 702h21v21h-21z"/>
<path fill="#a15189" d="M1250 702h21v21h-21z"/>
<path fill="#9d4c87" d="M1271 702h21v21h-21z"/>
<path fill="#883c7a" d="M1355 702h21v21h-21z"/>
<path fill="#823779" d="M1376 702h21v21h-21z"/>
<path fill="#813677" d="M1397 702h21v21h-21zM1418 870h21v21h-21zM1418 1100h21v21h-21z"/>
<path fill="#873976" d="M1439 702h21v21h-21z"/>
<path fill="#853877" d="M1460 702h21v21h-21z"/>
<path fill="#883b7a" d="M1523 702h21v21h-21zM1460 807h21v21h-21zM1460 870h21v21h-21z"/>
<path fill="#864081" d="M1188 723h21v21h-21z"/>
<path fill="#984b86" d="M1209 723h20v21h-20z"/>
<path fill="#ad5a8e" d="M1229 723h21v21h-21z"/>
<path fill="#a45289" d="M1250 723h21v21h-21z"/>
<path fill="#9b4a86" d="M1271 723h21v21h-21z"/>
<path fill="#954684" d="M1292 723h21v21h-21z"/>
<path fill="#944684" d="M1313 723h21v21h-21z"/>
<path fill="#823678" d="M1439 723h21v21h-21z"/>
<path fill="#853979" d="M1460 723h21v21h-21z"/>
<path fill="#863a79" d="M1481 723h21v21h-21zM1397 849h21v21h-21zM1460 849h21v21h-21z"/>
<path fill="#813678" d="M1502 723h21v21h-21zM1460 933h21v20h-21zM1460 1079h21v21h-21z"/>
<path fill="#86397a" d="M1523 723h21v21h-21zM1481 912h21v21h-21z"/>
<path fill="#964787" d="M1292 744h21v21h-21z"/>
<path fill="#914584" d="M1334 744h21v21h-21zM1313 786h21v21h-21zM1313 807h21v21h-21zM1313 912h21v21h-21z"/>
<path fill="#8e4180" d="M1355 744h21v21h-21z"/>
<path fill="#803477" d="M1418 744h42v21h-42zM1418 765h21v21h-21zM1439 786h21v21h-21z"/>
<path fill="#883b7b" d="M1460 744h21v21h-21zM1481 849h21v21h-21z"/>
<path fill="#904281" d="M1502 744h21v21h-21zM1418 1205h21v21h-21z"/>
<path fill="#904181" d="M1523 744h21v21h-21z"/>
<path fill="#914785" d="M1188 765h21v21h-21zM1188 786h21v21h-21z"/>
<path fill="#9f4f8d" d="M1292 765h21v21h-21z"/>
<path fill="#964887" d="M1313 765h21v21h-21z"/>
<path fill="#8d417e" d="M1376 765h21v21h-21z"/>
<path fill="#8b3e7d" d="M1460 765h21v21h-21z"/>
<path fill="#954782" d="M1481 765h21v21h-21z"/>
<path fill="#a14e86" d="M1502 765h21v21h-21z"/>
<path fill="#9f4d87" d="M1523 765h21v21h-21z"/>
<path fill="#a04f8c" d="M1292 786h21v21h-21z"/>
<path fill="#904482" d="M1355 786h21v21h-21zM1334 933h21v20h-21z"/>
<path fill="#8b3f7f" d="M1376 786h21v21h-21z"/>
<path fill="#85397a" d="M1397 786h21v21h-21z"/>
<path fill="#803578" d="M1418 786h21v21h-21zM1523 1058h21v21h-21zM1481 1100h21v21h-21z"/>
<path fill="#883c7d" d="M1460 786h21v21h-21z"/>
<path fill="#9d4b85" d="M1502 786h21v21h-21z"/>
<path fill="#9e4c86" d="M1523 786h21v21h-21z"/>
<path fill="#9e4e8b" d="M1292 807h21v21h-21z"/>
<path fill="#934885" d="M1355 807h21v21h-21z"/>
<path fill="#883d7f" d="M1376 807h21v21h-21z"/>
<path fill="#83387a" d="M1397 807h21v21h-21z"/>
<path fill="#863a78" d="M1439 807h21v21h-21zM1439 912h21v21h-21z"/>
<path fill="#8d3e80" d="M1481 807h21v21h-21z"/>
<path fill="#984982" d="M1523 807h21v21h-21z"/>
<path fill="#a8558e" d="M1271 828h21v21h-21z"/>
<path fill="#9c4d89" d="M1292 828h21v21h-21z"/>
<path fill="#944786" d="M1313 828h21v21h-21z"/>
<path fill="#994b88" d="M1355 828h21v21h-21z"/>
<path fill="#863978" d="M1418 828h42v21h-42zM1439 933h21v20h-21z"/>
<path fill="#873b7a" d="M1460 828h21v21h-21z"/>
<path fill="#8b3e7f" d="M1502 828h21v21h-21z"/>
<path fill="#9a4c89" d="M1229 849h21v21h-21z"/>
<path fill="#984987" d="M1250 849h21v21h-21zM1439 1247h21v21h-21z"/>
<path fill="#994a87" d="M1271 849h21v21h-21zM1271 870h21v21h-21z"/>
<path fill="#9b4b88" d="M1292 849h21v21h-21z"/>
<path fill="#964987" d="M1313 849h21v21h-21z"/>
<path fill="#a0508d" d="M1355 849h21v21h-21z"/>
<path fill="#843778" d="M1439 849h21v21h-21z"/>
<path fill="#8a3d7e" d="M1502 849h21v21h-21z"/>
<path fill="#994c89" d="M1229 870h21v21h-21z"/>
<path fill="#9a4a87" d="M1292 870h21v21h-21z"/>
<path fill="#863b7a" d="M1397 870h21v21h-21zM1523 953h21v21h-21zM1502 1121h21v21h-21z"/>
<path fill="#934580" d="M1481 870h21v21h-21z"/>
<path fill="#954583" d="M1502 870h21v21h-21z"/>
<path fill="#974885" d="M1523 870h21v21h-21z"/>
<path fill="#954c89" d="M1229 891h21v21h-21z"/>
<path fill="#9b4f89" d="M1250 891h21v21h-21z"/>
<path fill="#9c4e89" d="M1271 891h21v21h-21z"/>
<path fill="#914583" d="M1313 891h21v21h-21z"/>
<path fill="#924682" d="M1334 891h21v21h-21z"/>
<path fill="#803677" d="M1397 891h21v21h-21z"/>
<path fill="#803775" d="M1439 891h21v21h-21z"/>
<path fill="#8a3e7c" d="M1460 891h21v21h-21z"/>
<path fill="#954682" d="M1481 891h21v21h-21z"/>
<path fill="#974886" d="M1502 891h21v21h-21z"/>
<path fill="#9d4d8d" d="M1523 891h21v21h-21z"/>
<path fill="#9a518b" d="M1250 912h21v21h-21z"/>
<path fill="#a3568e" d="M1271 912h21v21h-21z"/>
<path fill="#9a4c88" d="M1292 912h21v21h-21z"/>
<path fill="#914582" d="M1334 912h21v21h-21z"/>
<path fill="#8a407f" d="M1355 912h21v21h-21z"/>
<path fill="#853b7d" d="M1376 912h21v21h-21z"/>
<path fill="#803679" d="M1397 912h21v21h-21zM1481 1079h42v21h-42z"/>
<path fill="#863979" d="M1460 912h21v21h-21z"/>
<path fill="#90427f" d="M1502 912h21v21h-21zM1523 933h21v20h-21z"/>
<path fill="#9a528c" d="M1250 933h21v20h-21z"/>
<path fill="#a65992" d="M1271 933h21v20h-21z"/>
<path fill="#a2548d" d="M1292 933h21v20h-21z"/>
<path fill="#853a7b" d="M1397 933h21v20h-21zM1502 1037h21v21h-21z"/>
<path fill="#863a7a" d="M1418 933h21v20h-21zM1418 953h21v21h-21z"/>
<path fill="#7f3478" d="M1481 933h21v20h-21z"/>
<path fill="#883c7c" d="M1502 933h21v20h-21z"/>
<path fill="#9b528a" d="M1271 953h21v21h-21z"/>
<path fill="#9c508a" d="M1292 953h21v21h-21z"/>
<path fill="#9b4d87" d="M1313 953h21v21h-21z"/>
<path fill="#984a85" d="M1334 953h21v21h-21z"/>
<path fill="#833a79" d="M1502 953h21v21h-21z"/>
<path fill="#934a86" d="M1292 974h21v21h-21z"/>
<path fill="#9b5089" d="M1313 974h21v21h-21z"/>
<path fill="#9b4e88" d="M1334 974h21v21h-21z"/>
<path fill="#914483" d="M1376 974h21v21h-21z"/>
<path fill="#84397a" d="M1439 974h21v21h-21z"/>
<path fill="#823778" d="M1460 974h21v21h-21z"/>
<path fill="#843977" d="M1481 974h21v21h-21z"/>
<path fill="#7f3577" d="M1523 974h21v21h-21zM1523 1016h21v21h-21z"/>
<path fill="#8c4686" d="M1313 995h21v21h-21z"/>
<path fill="#984b89" d="M1355 995h21v21h-21z"/>
<path fill="#964a87" d="M1376 995h21v21h-21z"/>
<path fill="#914686" d="M1397 995h21v21h-21z"/>
<path fill="#8e4282" d="M1418 995h21v21h-21z"/>
<path fill="#8c407f" d="M1460 995h21v21h-21zM1460 1037h21v21h-21z"/>
<path fill="#863b79" d="M1502 995h21v21h-21z"/>
<path fill="#7e3476" d="M1523 995h21v21h-21z"/>
<path fill="#964c89" d="M1355 1016h21v21h-21z"/>
<path fill="#9b4e8b" d="M1376 1016h21v21h-21z"/>
<path fill="#9a4d8d" d="M1397 1016h21v21h-21z"/>
<path fill="#9b4f8b" d="M1418 1016h21v21h-21z"/>
<path fill="#914485" d="M1439 1016h21v21h-21z"/>
<path fill="#893d7c" d="M1481 1016h21v21h-21z"/>
<path fill="#9b508b" d="M1355 1037h21v21h-21z"/>
<path fill="#a1538b" d="M1376 1037h21v21h-21zM1355 1121h21v21h-21z"/>
<path fill="#984a88" d="M1418 1037h21v21h-21z"/>
<path fill="#8c4081" d="M1439 1037h21v21h-21z"/>
<path fill="#a1558c" d="M1355 1058h21v21h-21z"/>
<path fill="#a0538b" d="M1376 1058h21v21h-21zM1334 1163h21v21h-21z"/>
<path fill="#984a89" d="M1397 1058h21v21h-21z"/>
<path fill="#8c4082" d="M1418 1058h21v21h-21zM1397 1079h21v21h-21z"/>
<path fill="#853a7d" d="M1481 1058h21v21h-21z"/>
<path fill="#853a7c" d="M1502 1058h21v21h-21z"/>
<path fill="#914886" d="M1334 1079h21v21h-21zM1292 1205h21v21h-21z"/>
<path fill="#a1558b" d="M1355 1079h21v21h-21z"/>
<path fill="#994b87" d="M1376 1079h21v21h-21zM1376 1226h21v21h-21z"/>
<path fill="#893c7c" d="M1418 1079h21v21h-21z"/>
<path fill="#873a79" d="M1439 1079h21v21h-21z"/>
<path fill="#7e3478" d="M1523 1079h21v21h-21zM1523 1100h21v21h-21z"/>
<path fill="#924886" d="M1334 1100h21v21h-21z"/>
<path fill="#a1548b" d="M1355 1100h21v21h-21z"/>
<path fill="#893b7d" d="M1397 1100h21v21h-21z"/>
<path fill="#944986" d="M1334 1121h21v21h-21z"/>
<path fill="#893b7e" d="M1397 1121h21v21h-21z"/>
<path fill="#893e7c" d="M1439 1121h21v21h-21z"/>
<path fill="#863b7b" d="M1481 1121h21v21h-21z"/>
<path fill="#994e87" d="M1334 1142h21v21h-21z"/>
<path fill="#a0528b" d="M1355 1142h21v21h-21z"/>
<path fill="#8e407f" d="M1397 1142h21v21h-21z"/>
<path fill="#8e417f" d="M1418 1142h21v21h-21zM1439 1163h21v21h-21zM1439 1184h21v21h-21z"/>
<path fill="#8f437f" d="M1439 1142h21v21h-21z"/>
<path fill="#91437f" d="M1460 1142h21v21h-21z"/>
<path fill="#8a3f7d" d="M1481 1142h21v21h-21z"/>
<path fill="#8b3f7c" d="M1502 1142h21v21h-21z"/>
<path fill="#833879" d="M1523 1142h21v21h-21z"/>
<path fill="#a5568f" d="M1355 1163h21v21h-21z"/>
<path fill="#9b4b87" d="M1376 1163h21v21h-21zM1376 1184h21v21h-21zM1376 1205h21v21h-21z"/>
<path fill="#984883" d="M1460 1163h21v21h-21z"/>
<path fill="#924482" d="M1481 1163h21v21h-21z"/>
<path fill="#9b528d" d="M1313 1184h21v21h-21z"/>
<path fill="#a65891" d="M1334 1184h21v21h-21z"/>
<path fill="#a55791" d="M1355 1184h21v21h-21zM1334 1226h21v21h-21z"/>
<path fill="#994987" d="M1481 1184h21v21h-21z"/>
<path fill="#9c4b87" d="M1502 1184h21v21h-21z"/>
<path fill="#a04f87" d="M1523 1184h21v21h-21z"/>
<path fill="#914684" d="M1020 1205h21v21h-21z"/>
<path fill="#9c4e85" d="M1041 1205h21v21h-21z"/>
<path fill="#8f4584" d="M1062 1205h21v21h-21z"/>
<path fill="#a75991" d="M1313 1205h21v21h-21z"/>
<path fill="#a75891" d="M1334 1205h21v21h-21z"/>
<path fill="#a3548f" d="M1355 1205h21v21h-21z"/>
<path fill="#974784" d="M1460 1205h21v21h-21zM1460 1226h21v21h-21z"/>
<path fill="#994986" d="M1481 1205h21v21h-21zM1481 1226h21v21h-21z"/>
<path fill="#a15087" d="M1502 1205h21v21h-21z"/>
<path fill="#a25189" d="M1523 1205h21v21h-21z"/>
<path fill="#a1528b" d="M1020 1226h21v21h-21z"/>
<path fill="#ab5a8f" d="M1041 1226h21v21h-21z"/>
<path fill="#a1528c" d="M1062 1226h21v21h-21z"/>
<path fill="#914685" d="M1083 1226h21v21h-21z"/>
<path fill="#9c4f89" d="M1292 1226h21v21h-21z"/>
<path fill="#a85a92" d="M1313 1226h21v21h-21z"/>
<path fill="#a1518f" d="M1355 1226h21v21h-21z"/>
<path fill="#a04d89" d="M1523 1226h21v21h-21z"/>
<path fill="#005cff" d="M873 1247h21v21h-21z"/>
<path fill="#a4578e" d="M1020 1247h21v21h-21z"/>
<path fill="#a5578d" d="M1041 1247h21v21h-21z"/>
<path fill="#a0528c" d="M1062 1247h21v21h-21z"/>
<path fill="#9f518a" d="M1083 1247h21v21h-21z"/>
<path fill="#944884" d="M1104 1247h21v21h-21z"/>
<path fill="#8b4786" d="M1188 1247h21v21h-21z"/>
<path fill="#954d89" d="M1209 1247h20v21h-20z"/>
<path fill="#97508b" d="M1229 1247h21v21h-21z"/>
<path fill="#8d478a" d="M1250 1247h21v21h-21z"/>
<path fill="#934a87" d="M1271 1247h21v21h-21z"/>
<path fill="#a0528d" d="M1313 1247h21v21h-21z"/>
<path fill="#994b8a" d="M1355 1247h21v21h-21z"/>
<path fill="#954887" d="M1376 1247h21v21h-21z"/>
<path fill="#974987" d="M1418 1247h21v21h-21z"/>
<path fill="#9b4b89" d="M1460 1247h21v21h-21z"/>
<path fill="#9d4d8b" d="M1481 1247h21v21h-21z"/>
<path fill="#9e4d8b" d="M1502 1247h21v21h-21z"/>
<path fill="#9f4d89" d="M1523 1247h21v21h-21z"/></g>
<g id="index"><path fill="#bb5c8d" d="M1730 53h21v21h-21zM2066 388h21v21h-21zM1814 472h21v21h-21zM2129 974h21v21h-21zM2170 1163h21v21h-21zM1919 1184h21v21h-21zM1940 1205h21v21h-21zM1877 1247h21v21h-21z"/>
<path fill="#bb4879" d="M1751 53h42v21h-42zM1730 74h21v21h-21zM2066 472h21v21h-21zM1793 493h21v21h-21zM2066 597h21v21h-21zM2150 974h20v21h-20zM2191 1163h21v21h-21z"/>
<path fill="#bb2657" d="M1793 53h21v21h-21zM1919 200h21v20h-21zM2087 283h21v21h-21zM2108 367h21v21h-21zM2191 786h21v21h-21zM2150 828h20v21h-20z"/>
<path fill="#bb2353" d="M1814 53h21v21h-21zM2191 765h21v21h-21z"/>
<path fill="#bb1a4a" d="M1835 53h21v21h-21zM1772 116h21v21h-21zM1982 116h21v21h-21zM1814 241h21v21h-21zM2380 472h21v21h-21zM2108 535h21v21h-21zM2108 576h21v21h-21zM2275 576h21v21h-21zM2108 597h21v21h-21zM2108 618h21v21h-21zM2275 912h21v21h-21zM2275 995h21v21h-21zM2233 1163h21v21h-21z"/>
<path fill="#bb0f3f" d="M1856 53h21v21h-21zM2275 95h21v21h-21zM1793 158h21v21h-21zM1793 179h21v21h-21zM2108 262h21v21h-21zM2150 367h20v21h-20zM2212 388h42v21h-42zM2129 409h41v21h-41zM2275 409h21v21h-21zM2359 409h42v21h-42zM2296 430h21v21h-21zM2254 451h21v21h-21zM2254 493h21v21h-21zM2359 535h21v21h-21zM2254 744h21v21h-21zM2338 953h21v21h-21zM2338 974h21v21h-21zM2338 1016h63v21h-63zM2338 1037h63v21h-63zM2338 1058h63v21h-63zM2254 1079h21v21h-21zM2338 1079h63v21h-63zM2275 1142h21v21h-21z"/>
<path fill="#bb0838" d="M1877 53h21v21h-21zM2129 53h21v21h-21zM2170 53h21v21h-21zM2296 53h21v21h-21zM1877 74h21v21h-21zM2170 74h21v21h-21zM1856 116h21v21h-21zM1919 116h42v21h-42zM1814 158h21v21h-21zM1814 179h21v21h-21zM1814 200h21v20h-21zM2170 262h21v21h-21zM2254 262h21v21h-21zM2129 346h21v21h-21zM2296 346h21v21h-21zM2296 744h21v21h-21zM2317 849h21v21h-21z"/>
<path fill="#bb0536" d="M1898 53h21v21h-21zM1961 53h21v21h-21zM1898 74h21v21h-21zM2129 74h21v21h-21zM1898 95h63v21h-63zM2150 95h20v21h-20zM2380 116h21v21h-21zM1835 137h21v21h-21zM2108 137h21v21h-21zM1835 158h21v21h-21zM1835 179h42v21h-42zM2087 179h21v21h-21zM2359 179h21v21h-21zM1835 200h21v20h-21zM2296 200h21v20h-21zM1835 220h21v21h-21zM2296 262h21v21h-21zM2150 304h20v21h-20zM2338 304h21v21h-21zM2129 325h41v21h-41zM2254 325h21v21h-21zM2338 367h21v21h-21zM2380 597h21v21h-21zM2296 765h21v21h-21zM2296 786h21v21h-21zM2338 786h21v21h-21zM2380 849h21v21h-21z"/>
<path fill="#bb0535" d="M1919 53h42v21h-42zM2108 53h21v21h-21zM1919 74h42v21h-42zM2108 74h21v21h-21zM2108 95h42v21h-42zM2108 116h62v21h-62zM2129 137h21v21h-21zM2191 137h21v21h-21zM2380 137h21v21h-21zM2108 158h42v21h-42zM2380 158h21v21h-21zM2108 179h42v21h-42zM2380 179h21v21h-21zM2129 200h21v20h-21zM2359 200h42v20h-42zM2150 220h20v21h-20zM2317 220h84v21h-84zM2275 241h42v21h-42zM2380 241h21v21h-21zM2191 283h21v21h-21zM2233 283h21v21h-21zM2380 283h21v21h-21zM2170 304h21v21h-21zM2254 304h21v21h-21zM2170 325h21v21h-21zM2317 786h21v21h-21z"/>
<path fill="#bb0637" d="M1982 53h21v21h-21zM2066 53h21v21h-21zM2150 53h20v21h-20zM2066 74h21v21h-21zM1961 95h21v21h-21zM2380 95h21v21h-21zM2170 116h21v21h-21zM1856 137h21v21h-21zM2254 137h21v21h-21zM2087 158h21v21h-21zM2087 200h21v20h-21zM2317 200h21v20h-21zM1856 220h21v21h-21zM2129 220h21v21h-21zM2170 283h21v21h-21zM2254 283h42v21h-42zM2129 304h21v21h-21zM2275 304h21v21h-21zM2275 325h21v21h-21zM2380 618h21v21h-21zM2380 744h21v21h-21zM2317 765h21v21h-21z"/>
<path fill="#bb0839" d="M2003 53h21v21h-21zM2380 53h21v21h-21zM1835 116h21v21h-21zM2317 116h21v21h-21zM1814 137h21v21h-21zM2275 137h21v21h-21zM2317 137h21v21h-21zM1877 158h21v21h-21zM2129 241h21v21h-21zM2275 262h21v21h-21zM2275 346h21v21h-21zM2359 618h21v21h-21zM2359 639h21v21h-21zM2380 660h21v21h-21zM2359 702h21v21h-21zM2317 744h42v21h-42zM2275 765h21v21h-21zM2275 786h21v21h-21z"/>
<path fill="#bb0a3b" d="M2024 53h21v21h-21zM2233 53h21v21h-21zM2296 158h21v21h-21zM2170 430h21v21h-21zM2150 451h20v21h-20zM2296 493h21v21h-21zM2170 514h21v21h-21zM2338 535h21v21h-21zM2338 660h21v21h-21zM2296 828h21v21h-21zM2275 1100h21v21h-21zM2275 1121h21v21h-21zM2275 1163h21v21h-21z"/>
<path fill="#bb0b3b" d="M2045 53h21v21h-21zM2066 137h21v21h-21zM2317 158h21v21h-21zM2150 430h20v21h-20zM2359 597h21v21h-21zM2254 702h21v21h-21zM2380 1121h21v21h-21z"/>
<path fill="#bb0233" d="M2087 53h21v21h-21zM2275 200h21v20h-21zM2170 220h21v21h-21zM2233 241h21v21h-21zM2338 262h21v21h-21zM2212 304h21v21h-21zM2359 325h42v21h-42z"/>
<path fill="#bb0c3d" d="M2191 53h21v21h-21zM2254 74h21v21h-21zM2296 116h21v21h-21zM1751 304h21v21h-21zM2275 367h21v21h-21zM2338 639h21v21h-21zM2317 681h21v21h-21zM2275 723h42v21h-42zM2359 974h21v21h-21zM2296 1058h21v21h-21z"/>
<path fill="#bb0d3e" d="M2212 53h21v21h-21zM2003 74h21v21h-21zM2045 74h21v21h-21zM2212 74h42v21h-42zM1919 137h42v21h-42zM2317 325h21v21h-21zM2170 493h21v21h-21zM2317 493h21v21h-21zM2170 535h21v21h-21zM2338 597h21v21h-21zM2338 618h21v21h-21zM2317 660h21v21h-21zM2275 702h42v21h-42zM2254 723h21v21h-21zM2296 849h21v21h-21zM2338 933h21v20h-21zM2359 1121h21v21h-21zM2296 1184h21v21h-21z"/>
<path fill="#bb093a" d="M2254 53h42v21h-42zM2359 53h21v21h-21zM1814 116h21v21h-21zM2212 116h42v21h-42zM1877 137h21v21h-21zM2296 179h21v21h-21zM2150 262h20v21h-20zM2233 367h21v21h-21zM2275 493h21v21h-21zM2338 702h21v21h-21zM2275 744h21v21h-21zM2338 765h42v21h-42zM2359 786h21v21h-21zM2254 1121h21v21h-21z"/>
<path fill="#bb0737" d="M2317 53h21v21h-21zM2338 95h21v21h-21zM2087 116h21v21h-21zM2338 116h21v21h-21zM2087 137h21v21h-21zM2338 179h21v21h-21zM2191 346h84v21h-84zM2317 367h21v21h-21zM2359 576h21v21h-21zM2380 639h21v21h-21zM2380 723h21v21h-21zM2296 807h21v21h-21z"/>
<path fill="#bb0738" d="M2338 53h21v21h-21zM1982 74h21v21h-21zM2317 74h42v21h-42zM2380 74h21v21h-21zM1877 95h21v21h-21zM2066 95h21v21h-21zM2170 95h21v21h-21zM1877 116h42v21h-42zM2338 158h21v21h-21zM1877 179h21v21h-21zM1877 200h21v20h-21zM2108 220h21v21h-21zM2150 241h20v21h-20zM2150 283h20v21h-20zM2150 346h41v21h-41zM2359 556h21v20h-21zM2359 723h21v21h-21zM2359 744h21v21h-21zM2380 765h21v21h-21z"/>
<path fill="#bb6797" d="M2401 53h21v21h-21zM2401 74h21v21h-21zM2401 95h21v21h-21zM2401 116h21v21h-21zM2401 137h21v21h-21zM2401 158h21v21h-21zM2401 179h21v21h-21zM2024 200h21v20h-21zM2401 200h21v20h-21zM2401 220h21v21h-21zM2401 241h21v21h-21zM2401 262h21v21h-21zM1835 283h84v21h-84zM2401 283h21v21h-21zM1814 304h21v21h-21zM2401 304h21v21h-21zM2401 325h21v21h-21zM2401 346h21v21h-21zM2401 367h21v21h-21zM2401 388h21v21h-21zM2401 409h21v21h-21zM2401 430h21v21h-21zM2401 451h21v21h-21zM2401 472h21v21h-21zM2401 493h21v21h-21zM2401 514h21v21h-21zM2401 535h21v21h-21zM2401 556h21v20h-21zM2401 576h21v21h-21zM2401 597h21v21h-21zM2401 618h21v21h-21zM2401 639h21v21h-21zM2401 660h21v21h-21zM2401 681h21v21h-21zM2401 702h21v21h-21zM2401 723h21v21h-21zM2401 744h21v21h-21zM2401 765h21v21h-21zM2401 786h21v21h-21zM2401 807h21v21h-21zM2401 828h21v21h-21zM2401 849h21v21h-21zM2401 870h21v21h-21zM2401 891h21v21h-21zM2401 912h21v21h-21zM2401 933h21v20h-21zM2401 953h21v21h-21zM2401 974h21v21h-21zM2401 995h21v21h-21zM2401 1016h21v21h-21zM2401 1037h21v21h-21zM2401 1058h21v21h-21zM2401 1079h21v21h-21zM2401 1100h21v21h-21zM2401 1121h21v21h-21zM2401 1142h21v21h-21zM2401 1163h21v21h-21zM2401 1184h21v21h-21zM2401 1205h21v21h-21zM2108 1226h21v21h-21zM2401 1226h21v21h-21zM2401 1247h21v21h-21z"/>
<path fill="#bb3061" d="M1751 74h21v21h-21zM1730 200h21v20h-21zM2066 220h21v21h-21zM2066 262h21v21h-21zM1730 388h21v21h-21zM2087 681h21v21h-21z"/>
<path fill="#bb2656" d="M1772 74h21v21h-21zM2212 786h21v21h-21zM2129 828h21v21h-21zM2191 870h21v21h-21zM2212 1205h21v21h-21z"/>
<path fill="#bb2455" d="M1793 74h21v21h-21zM2233 849h21v21h-21z"/>
<path fill="#bb1d4d" d="M1814 74h21v21h-21zM2212 912h21v21h-21zM2254 933h21v20h-21z"/>
<path fill="#bb1747" d="M1835 74h21v21h-21zM2275 514h21v21h-21zM2296 576h21v21h-21zM2233 744h21v21h-21zM2254 974h21v21h-21zM2296 1142h21v21h-21z"/>
<path fill="#bb0e3e" d="M1856 74h21v21h-21zM2254 95h21v21h-21zM1898 158h21v21h-21zM2108 241h21v21h-21zM2191 367h21v21h-21zM2296 388h21v21h-21zM2170 639h21v21h-21zM2296 660h21v21h-21zM2296 681h21v21h-21zM2359 953h21v21h-21zM2380 974h21v21h-21zM2380 995h21v21h-21zM2380 1100h21v21h-21zM2359 1142h21v21h-21zM2296 1205h21v21h-21z"/>
<path fill="#bb0636" d="M1961 74h21v21h-21zM2150 74h20v21h-20zM2087 95h21v21h-21zM2359 95h21v21h-21zM2359 116h21v21h-21zM2233 137h21v21h-21zM2359 137h21v21h-21zM1856 158h21v21h-21zM2275 158h21v21h-21zM2359 158h21v21h-21zM1856 200h21v20h-21zM2108 200h21v20h-21zM2338 200h21v20h-21zM2296 283h21v21h-21zM2380 786h21v21h-21z"/>
<path fill="#bb1040" d="M2024 74h21v21h-21zM2254 409h21v21h-21zM2296 409h42v21h-42zM2254 430h21v21h-21zM2129 451h21v21h-21zM2129 493h21v21h-21zM2150 576h20v21h-20zM2317 618h21v21h-21zM2129 639h21v21h-21zM2338 1121h21v21h-21z"/>
<path fill="#bb0435" d="M2087 74h21v21h-21zM2150 137h41v21h-41zM2275 179h21v21h-21zM2150 200h20v20h-20zM2296 220h21v21h-21zM2170 241h21v21h-21zM2317 241h21v21h-21zM2359 241h21v21h-21zM2233 262h21v21h-21zM2317 262h21v21h-21zM2380 262h21v21h-21zM2359 283h21v21h-21zM2191 304h21v21h-21zM2233 304h21v21h-21zM2359 304h42v21h-42zM2191 325h63v21h-63zM2359 367h21v21h-21zM2317 828h21v21h-21z"/>
<path fill="#bb0c3c" d="M2191 74h21v21h-21zM2296 74h21v21h-21zM2087 220h21v21h-21zM2212 367h21v21h-21zM2296 367h21v21h-21zM2338 388h21v21h-21zM1751 430h21v21h-21zM2191 514h21v21h-21zM2317 535h21v21h-21zM2338 556h21v20h-21zM2150 639h20v21h-20zM2150 660h20v21h-20zM2233 702h21v21h-21zM2380 702h21v21h-21z"/>
<path fill="#bb0d3d" d="M2275 74h21v21h-21zM1982 95h21v21h-21zM2212 95h42v21h-42zM2275 116h21v21h-21zM2296 325h21v21h-21zM2317 388h21v21h-21zM2275 451h21v21h-21zM2317 472h21v21h-21zM2317 514h21v21h-21zM2150 535h20v21h-20zM2338 576h21v21h-21zM2254 681h21v21h-21zM2317 702h21v21h-21zM2129 723h21v21h-21z"/>
<path fill="#bb0939" d="M2359 74h21v21h-21zM1961 116h21v21h-21zM2212 137h21v21h-21zM2296 137h21v21h-21zM2338 137h21v21h-21zM1814 220h21v21h-21zM2129 283h21v21h-21zM2380 388h21v21h-21zM2254 1184h21v21h-21z"/>
<path fill="#bb3364" d="M1730 95h21v21h-21zM1730 179h21v21h-21zM1730 409h21v21h-21zM2066 702h21v21h-21zM2066 807h21v21h-21zM2170 953h21v21h-21z"/>
<path fill="#bb1e4f" d="M1751 95h21v21h-21zM1772 409h21v21h-21zM2087 723h21v21h-21zM2191 912h21v21h-21z"/>
<path fill="#bb1d4e" d="M1772 95h21v21h-21zM1751 241h21v21h-21zM2087 514h21v21h-21zM2087 556h21v20h-21zM2087 597h21v21h-21zM2233 870h21v21h-21zM2233 1205h21v21h-21z"/>
<path fill="#bb1c4d" d="M1793 95h21v21h-21zM1751 116h21v21h-21zM1751 220h21v21h-21zM1751 262h21v21h-21zM2087 535h21v21h-21zM2108 702h21v21h-21zM2191 744h21v21h-21zM2170 765h21v21h-21zM2233 807h21v21h-21zM2233 1226h21v21h-21zM2233 1247h21v21h-21z"/>
<path fill="#bb1141" d="M1814 95h21v21h-21zM2296 95h21v21h-21zM1961 137h21v21h-21zM2233 409h21v21h-21zM2129 472h21v21h-21zM2212 535h21v21h-21zM2380 535h21v21h-21zM2170 556h21v20h-21zM2317 576h21v21h-21zM2317 597h21v21h-21zM2129 660h21v21h-21zM2191 660h21v21h-21zM2150 723h20v21h-20zM2254 828h21v21h-21zM2380 870h21v21h-21zM2380 1163h21v21h-21z"/>
<path fill="#bb0e3f" d="M1835 95h21v21h-21zM1898 179h21v21h-21zM1793 200h21v20h-21zM2108 283h21v21h-21zM2129 367h21v21h-21zM2254 388h42v21h-42zM2129 430h21v21h-21zM2275 430h21v21h-21zM2317 451h21v21h-21zM2233 472h21v21h-21zM2212 514h21v21h-21zM2296 514h21v21h-21zM2317 556h21v20h-21zM2150 618h41v21h-41zM2317 639h21v21h-21zM2170 660h21v21h-21zM2275 660h21v21h-21zM2233 681h21v21h-21zM2275 828h21v21h-21zM2380 953h21v21h-21zM2338 995h42v21h-42zM2317 1037h21v21h-21zM2317 1058h21v21h-21zM2275 1079h63v21h-63zM2296 1100h21v21h-21zM2359 1100h21v21h-21zM2254 1142h21v21h-21z"/>
<path fill="#bb0b3c" d="M1856 95h21v21h-21zM2191 95h21v21h-21zM2317 95h21v21h-21zM2066 116h21v21h-21zM2254 116h21v21h-21zM1898 137h21v21h-21zM2129 262h21v21h-21zM2254 367h21v21h-21zM2359 388h21v21h-21zM2296 451h21v21h-21zM2254 472h42v21h-42zM2359 660h21v21h-21zM2275 681h21v21h-21zM2359 681h21v21h-21zM2317 723h21v21h-21zM2254 1100h21v21h-21zM2380 1142h21v21h-21zM2275 1205h21v21h-21z"/>
<path fill="#bb194a" d="M2003 95h21v21h-21zM2108 556h21v20h-21zM2275 556h21v20h-21zM2254 576h21v21h-21zM2108 744h21v21h-21zM2170 744h21v21h-21zM2108 786h21v21h-21zM2254 849h21v21h-21zM2254 912h21v21h-21zM2296 912h21v21h-21z"/>
<path fill="#bb1a4b" d="M2024 95h21v21h-21zM1772 262h42v21h-42zM1772 304h21v21h-21zM2108 514h21v21h-21zM2087 765h21v21h-21zM2233 765h21v21h-21zM2129 786h21v21h-21zM2233 786h21v21h-21zM2296 933h21v20h-21z"/>
<path fill="#bb1849" d="M2045 95h21v21h-21zM1772 137h21v21h-21zM1772 158h21v21h-21zM1772 179h21v21h-21zM1730 304h21v21h-21zM1772 325h21v21h-21zM2359 493h21v21h-21zM2254 535h21v21h-21zM2254 597h42v21h-42zM2254 870h21v21h-21zM2359 1205h21v21h-21zM2254 1247h21v21h-21z"/>
<path fill="#bb3464" d="M1730 116h21v21h-21zM1730 137h21v21h-21zM1730 158h21v21h-21zM1730 430h21v21h-21zM1730 451h21v21h-21zM1730 472h21v21h-21zM2233 1079h21v21h-21z"/>
<path fill="#bb1242" d="M1793 116h21v21h-21zM2191 388h21v21h-21zM2338 493h21v21h-21zM2191 597h21v21h-21zM2129 618h21v21h-21zM2233 660h21v21h-21zM2380 681h21v21h-21zM2338 1184h21v21h-21z"/>
<path fill="#bb2454" d="M2003 116h21v21h-21zM2045 116h21v21h-21zM2087 325h21v21h-21zM2233 953h21v21h-21z"/>
<path fill="#bb2152" d="M2024 116h21v21h-21zM2108 304h21v21h-21zM2108 346h21v21h-21zM2087 493h21v21h-21zM2170 933h21v20h-21z"/>
<path fill="#bb0a3a" d="M2191 116h21v21h-21zM2317 179h21v21h-21zM1877 220h21v21h-21zM2296 472h21v21h-21zM2150 493h20v21h-20zM2129 514h41v21h-41zM2338 681h21v21h-21zM2338 723h21v21h-21zM2275 807h21v21h-21zM2275 1184h21v21h-21z"/>
<path fill="#bb1c4c" d="M1751 137h21v21h-21zM1751 200h21v20h-21zM1730 283h21v21h-21zM1772 283h21v21h-21zM2108 451h21v21h-21zM2108 472h21v21h-21zM2108 493h21v21h-21zM2087 744h21v21h-21zM2233 1184h21v21h-21z"/>
<path fill="#bb0f40" d="M1793 137h21v21h-21zM1793 220h21v21h-21zM2170 409h21v21h-21zM2338 409h21v21h-21zM2233 451h21v21h-21zM2150 472h20v21h-20zM2191 493h63v21h-63zM2338 514h21v21h-21zM2191 535h21v21h-21zM2150 556h20v20h-20zM2150 597h20v21h-20zM2275 639h42v21h-42zM2254 660h21v21h-21zM2170 681h21v21h-21zM2212 681h21v21h-21zM2212 702h21v21h-21zM2233 723h21v21h-21zM2254 765h21v21h-21zM2254 786h21v21h-21zM2254 807h21v21h-21zM2317 995h21v21h-21zM2317 1016h21v21h-21zM2296 1037h21v21h-21zM2338 1100h21v21h-21zM2254 1163h21v21h-21zM2317 1205h21v21h-21z"/>
<path fill="#bb1e4e" d="M1982 137h21v21h-21zM1772 430h21v21h-21zM2087 618h21v21h-21zM2108 807h21v21h-21zM2212 891h21v21h-21z"/>
<path fill="#bb2f60" d="M2003 137h21v21h-21zM2087 660h21v21h-21z"/>
<path fill="#bb2a5a" d="M2024 137h21v21h-21zM2066 200h21v20h-21z"/>
<path fill="#bb2858" d="M2045 137h21v21h-21zM2045 158h21v21h-21zM2191 807h21v21h-21zM2212 849h21v21h-21z"/>
<path fill="#bb1b4c" d="M1751 158h21v21h-21zM1751 179h21v21h-21zM2108 723h21v21h-21zM2212 744h21v21h-21zM2233 912h21v21h-21zM2275 933h21v20h-21zM2254 953h21v21h-21zM2380 1205h21v21h-21zM2380 1226h21v21h-21zM2380 1247h21v21h-21z"/>
<path fill="#bb1243" d="M1919 158h21v21h-21zM1793 241h21v21h-21zM1751 409h21v21h-21zM2212 430h21v21h-21zM2317 430h21v21h-21zM2212 451h21v21h-21zM2129 556h21v20h-21zM2170 702h21v21h-21zM2129 744h41v21h-41zM2380 933h21v20h-21zM2317 1121h21v21h-21zM2317 1163h21v21h-21z"/>
<path fill="#bb1848" d="M1940 158h21v21h-21zM2087 262h21v21h-21zM1730 325h21v21h-21zM2380 451h21v21h-21zM2380 514h21v21h-21zM2275 535h21v21h-21zM2380 891h21v21h-21zM2317 912h21v21h-21zM2380 912h21v21h-21zM2380 1184h21v21h-21z"/>
<path fill="#bb2253" d="M1961 158h21v21h-21zM2066 179h21v21h-21zM1730 262h21v21h-21zM2212 765h21v21h-21zM2170 807h21v21h-21zM2170 891h21v21h-21z"/>
<path fill="#bb3565" d="M1982 158h21v21h-21zM2066 723h21v21h-21z"/>
<path fill="#bb5182" d="M2003 158h21v21h-21zM1877 1205h21v21h-21z"/>
<path fill="#bb2f5f" d="M2024 158h21v21h-21z"/>
<path fill="#bb2151" d="M2066 158h21v21h-21zM1751 493h21v21h-21zM2170 912h21v21h-21zM2212 1247h21v21h-21z"/>
<path fill="#bb0434" d="M2150 158h20v21h-20zM2150 179h20v21h-20zM2254 241h21v21h-21zM2338 241h21v21h-21zM2191 262h21v21h-21zM2359 262h21v21h-21zM2212 283h21v21h-21zM2317 283h42v21h-42zM2380 367h21v21h-21zM2317 807h21v21h-21z"/>
<path fill="#bb0131" d="M2170 158h42v21h-42zM2233 158h21v21h-21zM2191 179h84v21h-84zM2191 200h84v20h-84zM2191 220h105v21h-105zM2191 241h42v21h-42zM2338 346h63v21h-63zM2380 556h21v20h-21zM2380 576h21v21h-21zM2338 807h42v21h-42zM2338 828h63v21h-63zM2338 849h42v21h-42z"/>
<path fill="#bb0132" d="M2212 158h21v21h-21zM2170 179h21v21h-21zM2317 346h21v21h-21z"/>
<path fill="#bb0333" d="M2254 158h21v21h-21zM2212 262h21v21h-21z"/>
<path fill="#bb1b4b" d="M1919 179h21v21h-21zM2380 493h21v21h-21zM2108 639h21v21h-21zM2150 786h20v21h-20z"/>
<path fill="#bb1f4f" d="M1940 179h21v21h-21zM1898 200h21v20h-21zM1751 472h21v21h-21zM2170 786h21v21h-21z"/>
<path fill="#bb3e6e" d="M1961 179h21v21h-21zM1793 346h21v21h-21zM2087 367h21v21h-21zM2150 953h20v21h-20zM2170 974h21v21h-21zM2212 1016h21v21h-21zM2233 1037h21v21h-21zM2191 1205h21v21h-21zM2170 1226h21v21h-21z"/>
<path fill="#bb4f80" d="M1982 179h21v21h-21zM2024 179h21v21h-21zM2066 325h21v21h-21zM2066 451h21v21h-21zM2066 639h21v21h-21z"/>
<path fill="#a75297" d="M2003 179h21v21h-21zM1919 283h21v21h-21zM1793 535h21v21h-21zM2024 1226h21v21h-21z"/>
<path fill="#bb4171" d="M2045 179h21v21h-21zM2066 556h21v20h-21z"/>
<path fill="#bb1748" d="M1772 200h21v20h-21zM1730 346h21v21h-21zM1772 346h21v21h-21zM2170 451h21v21h-21zM2359 472h21v21h-21zM2212 576h21v21h-21zM2233 597h21v21h-21zM2233 618h21v21h-21zM2129 681h21v21h-21zM2191 723h21v21h-21zM2233 891h21v21h-21zM2296 891h21v21h-21zM2296 953h21v21h-21zM2275 1058h21v21h-21zM2233 1142h21v21h-21z"/>
<path fill="#bb2758" d="M1940 200h21v20h-21zM1793 409h21v21h-21zM1793 430h21v21h-21zM1772 451h21v21h-21zM2170 828h21v21h-21zM2170 870h21v21h-21zM2150 912h20v21h-20z"/>
<path fill="#bb4878" d="M1961 200h21v20h-21zM2087 870h21v21h-21zM2191 995h21v21h-21zM2212 1079h21v21h-21zM2212 1100h21v21h-21zM2191 1121h21v21h-21z"/>
<path fill="#bb6293" d="M1982 200h21v20h-21zM2024 702h21v21h-21z"/>
<path fill="#822e97" d="M2003 200h21v20h-21zM1835 325h21v21h-21zM2003 430h21v21h-21zM1793 953h21v21h-21zM1772 974h21v21h-21zM1982 1016h21v21h-21zM1898 1142h21v21h-21zM2129 1163h21v21h-21z"/>
<path fill="#bb4a7b" d="M2045 200h21v20h-21z"/>
<path fill="#bb0232" d="M2170 200h21v20h-21z"/>
<path fill="#bb2556" d="M1730 220h21v21h-21zM2087 639h21v21h-21zM2212 870h21v21h-21zM2212 1226h21v21h-21z"/>
<path fill="#bb1445" d="M1772 220h21v21h-21zM2087 241h21v21h-21zM2150 388h41v21h-41zM2254 618h21v21h-21zM2212 660h21v21h-21zM2254 1226h21v21h-21zM2338 1247h21v21h-21z"/>
<path fill="#bb295a" d="M1898 220h42v21h-42zM1835 241h21v21h-21zM1772 388h21v21h-21zM2108 388h21v21h-21zM2108 430h21v21h-21zM1772 472h21v21h-21zM2191 828h21v21h-21zM2129 849h21v21h-21zM2129 870h21v21h-21zM2150 933h20v20h-20zM2191 953h21v21h-21zM2275 1016h21v21h-21zM2275 1037h21v21h-21z"/>
<path fill="#bb2e5e" d="M1940 220h21v21h-21z"/>
<path fill="#bb6191" d="M1961 220h21v21h-21zM1814 367h21v21h-21zM1730 556h21v20h-21zM2129 1226h21v21h-21z"/>
<path fill="#853197" d="M1982 220h21v21h-21zM1982 241h21v21h-21zM1919 367h21v21h-21zM1877 744h21v21h-21zM1982 974h21v21h-21z"/>
<path fill="#5a0697" d="M2003 220h21v21h-21z"/>
<path fill="#9d4897" d="M2024 220h21v21h-21zM1856 388h21v21h-21zM2066 933h21v20h-21zM2087 953h21v21h-21zM2170 1058h21v21h-21z"/>
<path fill="#bb5283" d="M2045 220h21v21h-21zM2066 430h21v21h-21z"/>
<path fill="#bb2354" d="M1730 241h21v21h-21zM1793 283h21v21h-21zM2087 472h21v21h-21zM2212 933h21v20h-21zM2212 1184h21v21h-21z"/>
<path fill="#bb1546" d="M1772 241h21v21h-21zM2296 304h42v21h-42zM1751 346h21v21h-21zM2191 472h21v21h-21zM2191 556h21v20h-21zM2233 556h21v20h-21zM2129 765h41v21h-41zM2087 807h21v21h-21zM2275 891h21v21h-21zM2296 1121h21v21h-21zM2296 1163h21v21h-21zM2317 1247h21v21h-21z"/>
<path fill="#bb2d5d" d="M1856 241h21v21h-21zM2254 1058h21v21h-21z"/>
<path fill="#bb3465" d="M1877 241h21v21h-21zM2233 1100h21v21h-21zM2212 1142h21v21h-21z"/>
<path fill="#bb3f70" d="M1898 241h21v21h-21zM1751 535h21v21h-21zM2129 933h21v20h-21zM2212 1121h21v21h-21zM2191 1184h21v21h-21zM2150 1247h20v21h-20z"/>
<path fill="#bb4172" d="M1919 241h21v21h-21zM2066 493h21v21h-21zM1919 1226h21v21h-21z"/>
<path fill="#bb4778" d="M1940 241h21v21h-21z"/>
<path fill="#ab5697" d="M1961 241h21v21h-21z"/>
<path fill="#5f0b97" d="M2003 241h21v21h-21z"/>
<path fill="#883497" d="M2024 241h21v21h-21zM2045 409h21v21h-21zM1877 535h21v21h-21zM1730 639h21v21h-21zM1730 660h21v21h-21zM1793 891h21v21h-21zM1814 912h21v21h-21zM1772 933h21v20h-21zM1982 953h21v21h-21zM1961 1037h21v21h-21zM2003 1100h21v21h-21zM1835 1121h21v21h-21zM1772 1163h42v21h-42z"/>
<path fill="#bb5788" d="M2045 241h21v21h-21z"/>
<path fill="#bb3363" d="M2066 241h21v21h-21z"/>
<path fill="#bb3161" d="M1814 262h21v21h-21zM1772 493h21v21h-21zM2254 1037h21v21h-21z"/>
<path fill="#bb3d6e" d="M1835 262h42v21h-42zM1793 367h21v21h-21zM2087 388h21v21h-21z"/>
<path fill="#bb4374" d="M1877 262h21v21h-21zM2170 1205h21v21h-21z"/>
<path fill="#bb4676" d="M1898 262h21v21h-21zM2108 891h21v21h-21zM2191 1142h21v21h-21zM2129 1247h21v21h-21z"/>
<path fill="#bb4c7c" d="M1919 262h21v21h-21z"/>
<path fill="#ab5797" d="M1940 262h21v21h-21z"/>
<path fill="#832e97" d="M1961 262h21v21h-21zM2024 346h21v21h-21zM1856 367h21v21h-21zM1877 493h21v21h-21zM1772 953h21v21h-21zM2129 1079h21v21h-21zM2129 1121h21v21h-21zM1919 1142h21v21h-21zM1982 1184h21v21h-21zM1793 1205h21v21h-21z"/>
<path fill="#812c97" d="M1982 262h21v21h-21zM2003 283h21v21h-21zM2003 325h21v21h-21zM1835 346h21v21h-21zM2003 367h21v21h-21zM2045 388h21v21h-21zM2003 409h21v21h-21zM1877 451h21v21h-21zM2003 933h21v20h-21zM2024 1121h21v21h-21zM2129 1142h21v21h-21zM2003 1163h21v21h-21zM2003 1184h21v21h-21z"/>
<path fill="#651097" d="M2003 262h21v21h-21z"/>
<path fill="#883397" d="M2024 262h21v21h-21zM1961 409h21v21h-21zM1772 870h42v21h-42zM1793 912h21v21h-21zM2003 912h21v21h-21zM2087 974h21v21h-21zM1982 1037h21v21h-21zM1856 1058h21v21h-21zM1898 1121h21v21h-21zM1961 1163h21v21h-21z"/>
<path fill="#b15c97" d="M2045 262h21v21h-21zM2003 1247h21v21h-21z"/>
<path fill="#bb1647" d="M1751 283h21v21h-21zM2191 451h21v21h-21zM2170 472h21v21h-21zM2254 514h21v21h-21zM2359 514h21v21h-21zM2212 556h21v20h-21zM2296 597h21v21h-21zM2170 723h21v21h-21zM2087 786h21v21h-21zM2359 1184h21v21h-21zM2275 1247h42v21h-42z"/>
<path fill="#bb4273" d="M1814 283h21v21h-21zM2108 870h21v21h-21z"/>
<path fill="#a24d97" d="M1940 283h21v21h-21zM2024 472h21v21h-21zM2024 576h21v21h-21zM1751 597h21v21h-21zM2150 1142h20v21h-20z"/>
<path fill="#7d2997" d="M1961 283h21v21h-21zM1856 346h21v21h-21zM1898 346h21v21h-21zM2045 953h21v21h-21zM2024 995h21v21h-21zM2024 1016h21v21h-21zM2024 1037h21v21h-21zM2024 1184h21v21h-21z"/>
<path fill="#7e2997" d="M1982 283h21v21h-21zM1919 304h21v21h-21zM1982 325h21v21h-21zM2024 953h21v21h-21zM2024 974h42v21h-42zM2087 1121h21v21h-21z"/>
<path fill="#873297" d="M2024 283h21v21h-21zM1919 409h21v21h-21zM1814 933h21v20h-21zM1961 995h21v21h-21zM1856 1121h42v21h-42zM2003 1205h21v21h-21z"/>
<path fill="#8b3697" d="M2045 283h21v21h-21zM1982 493h21v21h-21zM1751 702h21v21h-21zM1898 702h21v21h-21zM1898 723h21v21h-21zM1856 807h21v21h-21zM1856 828h21v21h-21zM1982 828h21v21h-21zM1751 870h21v21h-21zM1961 870h42v21h-42zM1751 891h21v21h-21zM1835 974h21v21h-21zM1940 995h21v21h-21zM1751 1037h21v21h-21zM1730 1100h21v21h-21zM1982 1100h21v21h-21zM1814 1163h21v21h-21z"/>
<path fill="#bb4979" d="M2066 283h21v21h-21z"/>
<path fill="#bb4071" d="M1793 304h21v21h-21z"/>
<path fill="#832f97" d="M1835 304h21v21h-21zM1877 514h21v21h-21zM1793 556h42v20h-42zM1814 1184h21v21h-21zM2129 1184h21v21h-21z"/>
<path fill="#7f2b97" d="M1856 304h21v21h-21zM1961 325h21v21h-21zM1898 367h21v21h-21zM2003 995h21v21h-21zM2108 1184h21v21h-21z"/>
<path fill="#711c97" d="M1877 304h21v21h-21z"/>
<path fill="#772397" d="M1898 304h21v21h-21z"/>
<path fill="#7e2a97" d="M1940 304h21v21h-21zM1856 325h21v21h-21zM2066 995h21v21h-21zM2045 1121h21v21h-21zM2024 1142h21v21h-21z"/>
<path fill="#7a2697" d="M1961 304h21v21h-21zM1877 367h21v21h-21zM2108 1058h21v21h-21zM2045 1142h21v21h-21z"/>
<path fill="#7b2697" d="M1982 304h21v21h-21z"/>
<path fill="#802b97" d="M2003 304h21v21h-21zM1919 325h21v21h-21zM2024 367h42v21h-42zM1877 409h21v21h-21zM1877 430h21v21h-21zM2045 912h21v21h-21zM2003 974h21v21h-21zM2003 1016h21v21h-21z"/>
<path fill="#863197" d="M2024 304h21v21h-21zM1982 367h21v21h-21zM1919 388h21v21h-21zM1898 493h21v21h-21zM1856 535h21v21h-21zM1793 849h21v21h-21zM2024 891h21v21h-21zM1793 933h21v20h-21zM2003 1037h21v21h-21zM2024 1100h21v21h-21zM1751 1142h21v21h-21z"/>
<path fill="#893497" d="M2045 304h21v21h-21zM1940 388h21v21h-21zM1982 451h21v21h-21zM2003 493h21v21h-21zM1793 576h21v21h-21zM1730 681h21v21h-21zM1730 702h21v21h-21zM1814 828h21v21h-21zM1961 849h21v21h-21zM1772 891h21v21h-21zM1814 891h21v21h-21zM1835 953h21v21h-21zM1730 1037h21v21h-21zM1730 1058h21v21h-21zM2024 1058h21v21h-21zM1814 1079h21v21h-21zM2024 1079h21v21h-21zM1877 1100h21v21h-21zM1730 1121h21v21h-21zM1982 1121h21v21h-21zM1730 1163h42v21h-42z"/>
<path fill="#bb4b7b" d="M2066 304h21v21h-21zM2066 618h21v21h-21zM2066 681h21v21h-21zM2066 828h21v21h-21zM2108 1247h21v21h-21z"/>
<path fill="#bb2555" d="M2087 304h21v21h-21zM2087 346h21v21h-21z"/>
<path fill="#bb1545" d="M1751 325h21v21h-21zM2380 430h21v21h-21zM2317 953h21v21h-21zM2275 974h21v21h-21z"/>
<path fill="#bb3e6f" d="M1793 325h21v21h-21zM2066 514h21v21h-21zM2066 535h21v21h-21z"/>
<path fill="#bb6697" d="M1814 325h21v21h-21zM2045 472h21v21h-21zM2087 912h21v21h-21zM2170 1121h21v21h-21zM1856 1184h21v21h-21zM2024 1247h21v21h-21z"/>
<path fill="#782497" d="M1877 325h21v21h-21zM2045 1079h21v21h-21z"/>
<path fill="#7c2897" d="M1898 325h21v21h-21zM2045 995h21v21h-21zM2066 1100h21v21h-21z"/>
<path fill="#853097" d="M1940 325h21v21h-21zM2024 325h21v21h-21zM1982 346h21v21h-21zM1919 472h21v21h-21zM1877 828h21v21h-21zM1835 1058h21v21h-21zM1856 1079h21v21h-21z"/>
<path fill="#863297" d="M2045 325h21v21h-21zM1982 430h21v21h-21zM1793 974h21v21h-21zM2087 995h21v21h-21zM1751 1058h21v21h-21zM2003 1121h21v21h-21zM1982 1163h21v21h-21z"/>
<path fill="#bb2252" d="M2108 325h21v21h-21zM2233 974h21v21h-21z"/>
<path fill="#bb0334" d="M2338 325h21v21h-21zM2380 807h21v21h-21z"/>
<path fill="#bb6495" d="M1814 346h21v21h-21zM2024 681h21v21h-21zM2108 953h21v21h-21z"/>
<path fill="#7a2597" d="M1877 346h21v21h-21zM2066 1079h21v21h-21z"/>
<path fill="#843097" d="M1919 346h21v21h-21zM2003 451h21v21h-21zM1898 472h21v21h-21zM1961 1016h21v21h-21zM1835 1100h21v21h-21zM2003 1142h21v21h-21zM1793 1184h21v21h-21z"/>
<path fill="#873397" d="M1940 346h21v21h-21zM1961 388h21v21h-21zM1919 430h21v21h-21zM1919 451h21v21h-21zM2003 472h21v21h-21zM1730 1142h21v21h-21zM1982 1142h21v21h-21z"/>
<path fill="#8b3797" d="M1961 346h21v21h-21zM1961 367h21v21h-21zM1919 702h21v21h-21zM1940 828h21v21h-21zM1919 849h21v21h-21zM1940 870h21v21h-21zM1856 891h21v21h-21zM1940 1058h21v21h-21z"/>
<path fill="#822d97" d="M2003 346h21v21h-21zM2045 346h21v21h-21zM1982 388h21v21h-21zM1898 409h21v21h-21zM1982 409h21v21h-21zM1898 451h21v21h-21zM1877 472h21v21h-21zM1835 514h42v21h-42zM1835 535h21v21h-21z"/>
<path fill="#bb5282" d="M2066 346h21v21h-21z"/>
<path fill="#bb2b5c" d="M1730 367h21v21h-21zM1772 367h21v21h-21zM2108 409h21v21h-21zM2254 1016h21v21h-21zM2191 1247h21v21h-21z"/>
<path fill="#bb1444" d="M1751 367h21v21h-21zM2359 451h21v21h-21zM2233 535h21v21h-21zM2212 597h21v21h-21zM2317 933h21v20h-21zM2296 974h21v21h-21zM2338 1226h21v21h-21z"/>
<path fill="#954097" d="M1835 367h21v21h-21zM1856 472h21v21h-21zM1940 535h21v21h-21zM1877 765h21v21h-21zM1793 807h21v21h-21zM2066 953h21v21h-21zM1751 1016h21v21h-21zM2150 1037h20v21h-20zM1919 1100h42v21h-42zM1772 1247h21v21h-21z"/>
<path fill="#893597" d="M1940 367h21v21h-21zM1940 409h21v21h-21zM1919 493h21v21h-21zM1898 514h21v21h-21zM1835 556h21v20h-21zM1814 849h21v21h-21zM1814 870h21v21h-21zM2003 891h21v21h-21zM1772 912h21v21h-21zM1835 912h21v21h-21zM1835 933h21v20h-21zM1940 1016h21v21h-21zM1814 1100h21v21h-21zM1856 1142h21v21h-21zM1961 1142h21v21h-21zM1772 1184h21v21h-21z"/>
<path fill="#bb6292" d="M2066 367h21v21h-21zM1856 1247h21v21h-21z"/>
<path fill="#bb1646" d="M2170 367h21v21h-21zM2191 576h21v21h-21zM2233 576h21v21h-21zM2212 639h42v21h-42zM2254 891h21v21h-21zM2317 891h21v21h-21zM2359 891h21v21h-21zM2359 912h21v21h-21zM2317 1142h21v21h-21z"/>
<path fill="#bb1343" d="M1751 388h21v21h-21zM2296 556h21v20h-21zM2129 576h21v21h-21zM2129 597h21v21h-21zM2275 618h21v21h-21zM2212 723h21v21h-21zM2275 870h21v21h-21zM2338 912h21v21h-21zM2338 1205h21v21h-21z"/>
<path fill="#bb3263" d="M1793 388h21v21h-21zM2212 995h21v21h-21zM2233 1016h21v21h-21zM2191 1226h21v21h-21z"/>
<path fill="#bb4272" d="M1814 388h21v21h-21zM1730 535h21v21h-21z"/>
<path fill="#a45097" d="M1835 388h21v21h-21zM1814 514h21v21h-21z"/>
<path fill="#7f2a97" d="M1877 388h21v21h-21zM2024 933h21v20h-21zM2045 1100h21v21h-21zM2108 1100h21v21h-21zM2108 1121h21v21h-21zM2108 1142h21v21h-21zM2108 1163h21v21h-21z"/>
<path fill="#802c97" d="M1898 388h21v21h-21zM2003 388h42v21h-42zM2003 953h21v21h-21zM2066 974h21v21h-21z"/>
<path fill="#bb1041" d="M2129 388h21v21h-21zM2191 409h21v21h-21zM2338 430h21v21h-21zM2129 535h21v21h-21zM2170 597h21v21h-21zM2191 618h21v21h-21zM2191 681h21v21h-21zM2296 870h84v21h-84zM2359 933h21v20h-21zM2296 1016h21v21h-21zM2317 1100h21v21h-21zM2338 1142h21v21h-21zM2359 1163h21v21h-21zM2317 1184h21v21h-21zM2254 1205h21v21h-21z"/>
<path fill="#bb3d6d" d="M1814 409h21v21h-21z"/>
<path fill="#ae5997" d="M1835 409h21v21h-21zM2045 535h21v21h-21z"/>
<path fill="#9e4a97" d="M1856 409h21v21h-21z"/>
<path fill="#842f97" d="M2024 409h21v21h-21zM1898 430h21v21h-21zM1856 493h21v21h-21zM2045 891h21v21h-21zM1814 953h21v21h-21zM1814 974h21v21h-21zM1835 1079h21v21h-21zM1856 1100h21v21h-21zM1877 1142h21v21h-21z"/>
<path fill="#bb5586" d="M2066 409h21v21h-21zM2170 1184h21v21h-21z"/>
<path fill="#bb3a6b" d="M2087 409h21v21h-21zM1814 430h21v21h-21zM1919 1247h21v21h-21z"/>
<path fill="#bb1344" d="M2212 409h21v21h-21zM2233 430h21v21h-21zM1751 451h21v21h-21zM2212 618h21v21h-21zM2150 681h20v21h-20zM2129 702h21v21h-21zM2338 891h21v21h-21z"/>
<path fill="#b05c97" d="M1835 430h21v21h-21zM2045 576h21v21h-21z"/>
<path fill="#9b4697" d="M1856 430h21v21h-21zM2150 1079h20v21h-20z"/>
<path fill="#8c3897" d="M1940 430h21v21h-21zM1982 514h21v21h-21zM1856 618h21v21h-21zM1898 681h21v21h-21zM1877 702h21v21h-21zM1751 723h21v21h-21zM1835 786h21v21h-21zM1961 807h21v21h-21zM1877 891h21v21h-21zM1919 1037h21v21h-21zM1919 1058h21v21h-21zM1730 1184h21v21h-21z"/>
<path fill="#8d3897" d="M1961 430h21v21h-21zM1961 451h21v21h-21zM1961 472h21v21h-21zM2003 535h21v21h-21zM1856 597h42v21h-42zM1772 639h21v21h-21zM1772 681h21v21h-21zM1919 681h21v21h-21zM2003 681h21v21h-21zM2003 702h21v21h-21zM1730 765h63v21h-63zM1982 807h21v21h-21zM1751 849h21v21h-21zM1835 849h21v21h-21zM2003 849h21v21h-21zM1835 870h21v21h-21zM1856 912h21v21h-21zM1856 933h21v20h-21zM1772 1058h21v21h-21zM2003 1058h21v21h-21zM2003 1079h21v21h-21zM1835 1142h21v21h-21z"/>
<path fill="#933f97" d="M2024 430h42v21h-42zM1982 576h21v21h-21zM1793 618h21v21h-21zM1730 995h21v21h-21zM1877 1016h21v21h-21zM1730 1226h42v21h-42z"/>
<path fill="#bb3060" d="M2087 430h21v21h-21zM1793 451h21v21h-21zM2108 681h21v21h-21z"/>
<path fill="#bb1142" d="M2191 430h21v21h-21zM2359 430h21v21h-21zM2338 451h21v21h-21zM2212 472h21v21h-21zM2338 472h21v21h-21zM2233 514h21v21h-21zM2296 535h21v21h-21zM2170 576h21v21h-21zM2296 618h21v21h-21zM2191 639h21v21h-21zM2254 639h21v21h-21zM2150 702h20v21h-20zM2191 702h21v21h-21zM2275 849h21v21h-21zM2317 974h21v21h-21zM2296 995h21v21h-21zM2338 1163h21v21h-21zM2275 1226h63v21h-63z"/>
<path fill="#bb5383" d="M1814 451h21v21h-21zM2087 1247h21v21h-21z"/>
<path fill="#994497" d="M1835 451h21v21h-21zM1919 556h21v20h-21zM1919 576h21v21h-21z"/>
<path fill="#974397" d="M1856 451h21v21h-21zM1835 472h21v21h-21zM1961 556h21v20h-21zM1961 597h21v21h-21zM1814 1226h21v21h-21z"/>
<path fill="#8a3697" d="M1940 451h21v21h-21zM2003 514h21v21h-21zM1814 576h21v21h-21zM1751 681h21v21h-21zM1982 849h21v21h-21zM2003 870h21v21h-21zM1793 995h21v21h-21zM1814 1058h21v21h-21zM1751 1121h21v21h-21zM1961 1121h21v21h-21zM1772 1142h21v21h-21z"/>
<path fill="#9a4697" d="M2024 451h42v21h-42z"/>
<path fill="#bb2757" d="M2087 451h21v21h-21zM2233 828h21v21h-21zM2212 953h21v21h-21z"/>
<path fill="#bb4b7c" d="M1793 472h21v21h-21z"/>
<path fill="#8a3597" d="M1940 472h21v21h-21zM1982 472h21v21h-21zM1751 639h21v21h-21zM1751 660h21v21h-21zM1814 807h42v21h-42zM1793 828h21v21h-21zM1835 828h21v21h-21zM1961 828h21v21h-21zM1772 849h21v21h-21zM1940 849h21v21h-21zM1835 891h21v21h-21zM1961 974h21v21h-21zM1940 1037h21v21h-21zM1730 1079h21v21h-21zM1877 1079h21v21h-21zM1940 1142h21v21h-21zM1814 1205h21v21h-21z"/>
<path fill="#bb3667" d="M1730 493h21v21h-21zM2066 744h21v21h-21zM2045 765h42v21h-42z"/>
<path fill="#bb6394" d="M1814 493h21v21h-21zM1793 514h21v21h-21z"/>
<path fill="#943f97" d="M1835 493h21v21h-21zM1919 535h21v21h-21zM1898 576h21v21h-21zM1919 597h21v21h-21zM1856 1016h21v21h-21zM1835 1226h21v21h-21z"/>
<path fill="#8c3797" d="M1940 493h21v21h-21zM1877 618h21v21h-21zM1919 723h21v21h-21zM1751 744h21v21h-21zM1814 786h21v21h-21zM1856 870h84v21h-84zM1751 912h21v21h-21zM2108 995h21v21h-21zM1835 1037h21v21h-21zM1814 1121h21v21h-21zM1961 1184h21v21h-21z"/>
<path fill="#8e3997" d="M1961 493h21v21h-21zM1898 597h21v21h-21zM1856 639h21v21h-21zM2003 639h21v21h-21zM1772 660h21v21h-21zM1982 681h21v21h-21zM1961 723h21v21h-21zM1961 744h21v21h-21zM1793 765h21v21h-21zM2003 828h21v21h-21zM1856 849h21v21h-21zM1730 891h21v21h-21zM1982 891h21v21h-21zM1961 1058h42v21h-42zM1751 1079h21v21h-21zM1793 1142h21v21h-21zM1751 1184h21v21h-21z"/>
<path fill="#a95497" d="M2024 493h21v21h-21zM2024 556h21v20h-21zM2024 597h21v21h-21zM2024 618h21v21h-21zM2024 639h42v21h-42z"/>
<path fill="#b86397" d="M2045 493h21v21h-21z"/>
<path fill="#bb3c6d" d="M1730 514h21v21h-21z"/>
<path fill="#bb3768" d="M1751 514h21v21h-21z"/>
<path fill="#bb4576" d="M1772 514h21v21h-21zM2066 576h21v21h-21z"/>
<path fill="#8f3a97" d="M1919 514h21v21h-21zM1835 576h21v21h-21zM2003 660h21v21h-21zM1772 702h21v21h-21zM1940 702h21v21h-21zM1982 702h21v21h-21zM1982 723h21v21h-21zM1730 744h21v21h-21zM2003 744h21v21h-21zM1898 891h21v21h-21zM1751 933h21v20h-21zM1856 953h21v21h-21zM1919 1016h21v21h-21zM1898 1079h21v21h-21zM1835 1163h21v21h-21zM1835 1184h21v21h-21zM2003 1226h21v21h-21z"/>
<path fill="#903c97" d="M1940 514h21v21h-21zM1856 576h21v21h-21zM1814 597h21v21h-21zM1877 660h42v21h-42zM1940 681h21v21h-21zM1856 702h21v21h-21zM1961 702h21v21h-21zM1793 744h21v21h-21zM1835 765h21v21h-21zM1961 765h21v21h-21zM1856 786h21v21h-21zM1961 786h42v21h-42zM1877 807h21v21h-21zM1751 828h21v21h-21zM1919 995h21v21h-21zM1772 1016h21v21h-21zM1772 1037h21v21h-21zM1814 1037h21v21h-21zM1961 1079h21v21h-21z"/>
<path fill="#903b97" d="M1961 514h21v21h-21zM1835 618h21v21h-21zM1898 618h21v21h-21zM1877 639h21v21h-21zM1982 660h21v21h-21zM1877 681h21v21h-21zM1919 744h21v21h-21zM1982 744h21v21h-21zM1814 765h21v21h-21zM1730 786h42v21h-42zM1793 786h21v21h-21zM1940 807h21v21h-21zM1772 828h21v21h-21zM1919 891h42v21h-42zM1982 912h21v21h-21zM1982 933h21v20h-21zM1772 995h21v21h-21zM1814 995h21v21h-21zM1793 1037h21v21h-21zM1961 1100h21v21h-21zM1772 1121h21v21h-21z"/>
<path fill="#aa5697" d="M2024 514h21v21h-21zM2024 535h21v21h-21z"/>
<path fill="#ae5a97" d="M2045 514h21v21h-21z"/>
<path fill="#bb6090" d="M1772 535h21v21h-21zM2045 1247h21v21h-21z"/>
<path fill="#a34e97" d="M1814 535h21v21h-21z"/>
<path fill="#933e97" d="M1898 535h21v21h-21zM1961 535h21v21h-21zM1940 639h42v21h-42zM1898 765h21v21h-21zM1898 786h21v21h-21zM1751 995h21v21h-21zM1856 995h42v21h-42zM2150 1016h20v21h-20z"/>
<path fill="#913c97" d="M1982 535h21v21h-21zM2003 556h21v20h-21zM1835 639h21v21h-21zM1898 639h21v21h-21zM1793 660h21v21h-21zM1919 660h21v21h-21zM1961 681h21v21h-21zM1898 744h21v21h-21zM1940 765h21v21h-21zM1982 765h42v21h-42zM1772 786h21v21h-21zM2003 786h21v21h-21zM1730 828h21v21h-21zM1898 828h21v21h-21zM1730 933h21v20h-21zM1877 933h21v20h-21zM1961 933h21v20h-21zM1751 953h21v21h-21zM1856 974h21v21h-21zM1730 1016h21v21h-21zM1814 1016h21v21h-21zM1772 1079h21v21h-21zM1940 1079h21v21h-21zM1772 1100h21v21h-21zM1940 1121h21v21h-21zM1730 1205h42v21h-42z"/>
<path fill="#bb6091" d="M1751 556h21v20h-21zM2170 1142h21v21h-21zM2150 1163h20v21h-20z"/>
<path fill="#ac5897" d="M1772 556h21v20h-21zM2045 870h21v21h-21zM1856 1163h21v21h-21z"/>
<path fill="#8f3b97" d="M1856 556h21v20h-21zM1835 597h21v21h-21zM1772 723h21v21h-21zM2003 723h21v21h-21zM2003 807h21v21h-21zM1919 828h21v21h-21zM1730 849h21v21h-21zM1961 891h21v21h-21zM1730 912h21v21h-21zM1877 912h21v21h-21zM1961 953h21v21h-21zM1940 974h21v21h-21zM1793 1058h21v21h-21zM1898 1058h21v21h-21zM1793 1100h21v21h-21zM1793 1121h21v21h-21z"/>
<path fill="#964197" d="M1877 556h21v20h-21zM1961 618h21v21h-21zM1835 995h21v21h-21zM1835 1016h21v21h-21zM2150 1058h20v21h-20zM1751 1247h21v21h-21z"/>
<path fill="#984397" d="M1898 556h21v20h-21zM1793 1247h42v21h-42z"/>
<path fill="#994597" d="M1940 556h21v20h-21z"/>
<path fill="#923e97" d="M1982 556h21v20h-21zM1793 597h21v21h-21zM1982 597h21v21h-21zM1793 639h42v21h-42zM1919 639h21v21h-21zM1814 660h21v21h-21zM1814 681h42v21h-42zM1814 702h21v21h-21zM1814 723h21v21h-21zM1919 786h21v21h-21zM1898 807h21v21h-21zM1898 933h63v20h-63zM1898 953h42v21h-42zM1730 974h42v21h-42zM1877 974h42v21h-42zM1898 995h21v21h-21zM2024 1205h21v21h-21z"/>
<path fill="#b46097" d="M2045 556h21v20h-21zM2045 597h21v21h-21zM1877 1163h21v21h-21z"/>
<path fill="#bb1949" d="M2254 556h21v20h-21zM2108 765h21v21h-21zM2275 953h21v21h-21zM2359 1226h21v21h-21zM2359 1247h21v21h-21z"/>
<path fill="#bb6393" d="M1730 576h21v21h-21z"/>
<path fill="#bb6494" d="M1751 576h21v21h-21zM2045 660h21v21h-21zM2129 1205h21v21h-21z"/>
<path fill="#a65297" d="M1772 576h21v21h-21zM2129 995h21v21h-21zM2170 1037h21v21h-21z"/>
<path fill="#913d97" d="M1877 576h21v21h-21zM1982 639h21v21h-21zM1856 660h21v21h-21zM1940 660h42v21h-42zM1793 681h21v21h-21zM1856 681h21v21h-21zM1793 702h21v21h-21zM1835 702h21v21h-21zM1835 723h21v21h-21zM1814 744h42v21h-42zM1919 765h21v21h-21zM1940 786h21v21h-21zM1919 807h21v21h-21zM1898 912h21v21h-21zM1877 953h21v21h-21zM1940 953h21v21h-21zM1919 974h21v21h-21zM1898 1037h21v21h-21zM1919 1121h21v21h-21zM1772 1205h21v21h-21z"/>
<path fill="#9a4597" d="M1940 576h21v21h-21zM1772 618h21v21h-21z"/>
<path fill="#984497" d="M1961 576h21v21h-21z"/>
<path fill="#8e3a97" d="M2003 576h21v21h-21zM1877 723h21v21h-21zM1940 723h21v21h-21zM1772 744h21v21h-21zM1877 849h42v21h-42zM1730 870h21v21h-21zM1793 1016h21v21h-21zM1793 1079h21v21h-21zM1919 1079h21v21h-21zM1751 1100h21v21h-21zM1898 1100h21v21h-21zM1814 1142h21v21h-21z"/>
<path fill="#bb1f50" d="M2087 576h21v21h-21zM2129 807h21v21h-21zM2233 933h21v20h-21z"/>
<path fill="#a24e97" d="M1730 597h21v21h-21z"/>
<path fill="#9c4897" d="M1772 597h21v21h-21zM2150 1100h20v21h-20zM2150 1121h20v21h-20z"/>
<path fill="#964297" d="M1940 597h21v21h-21zM1835 1247h21v21h-21z"/>
<path fill="#8d3997" d="M2003 597h21v21h-21zM2003 618h21v21h-21zM1856 723h21v21h-21zM1940 744h21v21h-21zM1982 1079h21v21h-21z"/>
<path fill="#a14c97" d="M1730 618h21v21h-21zM1877 1058h21v21h-21z"/>
<path fill="#9f4b97" d="M1751 618h21v21h-21z"/>
<path fill="#923d97" d="M1814 618h21v21h-21zM1919 618h21v21h-21zM1982 618h21v21h-21zM1835 660h21v21h-21zM1793 723h21v21h-21zM1856 744h21v21h-21zM1856 765h21v21h-21zM1877 786h21v21h-21zM1730 807h63v21h-63zM1919 912h63v21h-63zM1730 953h21v21h-21zM1898 1016h21v21h-21zM1856 1037h21v21h-21zM1835 1205h21v21h-21z"/>
<path fill="#944097" d="M1940 618h21v21h-21zM1772 1226h42v21h-42z"/>
<path fill="#ad5897" d="M2045 618h21v21h-21zM1940 1163h21v21h-21z"/>
<path fill="#a75397" d="M2024 660h21v21h-21z"/>
<path fill="#bb5081" d="M2066 660h21v21h-21zM1940 1226h21v21h-21z"/>
<path fill="#bb2b5b" d="M2108 660h21v21h-21zM2087 828h21v21h-21zM2233 995h21v21h-21z"/>
<path fill="#bb6192" d="M2045 681h21v21h-21z"/>
<path fill="#bb4575" d="M2045 702h21v21h-21zM2045 807h21v21h-21zM2108 912h21v21h-21z"/>
<path fill="#bb2a5b" d="M2087 702h21v21h-21zM2108 849h21v21h-21zM2129 891h21v21h-21zM2212 974h21v21h-21z"/>
<path fill="#974297" d="M1730 723h21v21h-21zM1877 1037h21v21h-21zM2129 1100h21v21h-21z"/>
<path fill="#bb5f8f" d="M2024 723h21v21h-21zM2108 933h21v20h-21z"/>
<path fill="#bb3b6b" d="M2045 723h21v21h-21z"/>
<path fill="#bb5a8b" d="M2024 744h21v21h-21z"/>
<path fill="#bb3869" d="M2045 744h21v21h-21z"/>
<path fill="#bb5889" d="M2024 765h21v21h-21zM2191 1079h21v21h-21z"/>
<path fill="#bb5d8d" d="M2024 786h21v21h-21zM1856 1205h21v21h-21zM2150 1205h20v21h-20zM2066 1247h21v21h-21z"/>
<path fill="#bb3a6a" d="M2045 786h21v21h-21z"/>
<path fill="#bb3666" d="M2066 786h21v21h-21zM2212 1163h21v21h-21zM2170 1247h21v21h-21z"/>
<path fill="#bb6596" d="M2024 807h21v21h-21z"/>
<path fill="#bb2050" d="M2150 807h20v21h-20z"/>
<path fill="#bb2c5c" d="M2212 807h21v21h-21z"/>
<path fill="#b76397" d="M2024 828h42v21h-42zM1898 1184h21v21h-21z"/>
<path fill="#bb2859" d="M2108 828h21v21h-21zM2150 870h20v21h-20zM2150 891h20v21h-20zM2254 995h21v21h-21z"/>
<path fill="#bb2959" d="M2212 828h21v21h-21zM2150 849h62v21h-62z"/>
<path fill="#b15d97" d="M2024 849h42v21h-42zM1919 1163h21v21h-21zM1961 1205h21v21h-21zM1982 1226h21v21h-21z"/>
<path fill="#bb5080" d="M2066 849h21v21h-21zM2170 995h21v21h-21zM2191 1037h21v21h-21z"/>
<path fill="#bb2e5f" d="M2087 849h21v21h-21zM2233 1121h21v21h-21z"/>
<path fill="#ac5797" d="M2024 870h21v21h-21zM2170 1016h21v21h-21z"/>
<path fill="#bb598a" d="M2066 870h21v21h-21zM2150 995h20v21h-20z"/>
<path fill="#af5b97" d="M2066 891h21v21h-21zM1940 1184h21v21h-21z"/>
<path fill="#bb5f90" d="M2087 891h21v21h-21z"/>
<path fill="#bb2051" d="M2191 891h21v21h-21zM2191 933h21v20h-21z"/>
<path fill="#812d97" d="M2024 912h21v21h-21zM1982 995h21v21h-21z"/>
<path fill="#a95597" d="M2066 912h21v21h-21z"/>
<path fill="#bb2d5e" d="M2129 912h21v21h-21z"/>
<path fill="#7b2797" d="M2045 933h21v20h-21zM2066 1142h21v21h-21z"/>
<path fill="#b45f97" d="M2087 933h21v20h-21zM2170 1100h21v21h-21z"/>
<path fill="#bb5585" d="M2129 953h21v21h-21z"/>
<path fill="#a44f97" d="M2108 974h21v21h-21z"/>
<path fill="#bb3162" d="M2191 974h21v21h-21z"/>
<path fill="#792497" d="M2045 1016h21v21h-21zM2045 1163h63v21h-63z"/>
<path fill="#752197" d="M2066 1016h21v21h-21zM2066 1058h21v21h-21z"/>
<path fill="#701b97" d="M2087 1016h21v21h-21z"/>
<path fill="#6f1a97" d="M2108 1016h42v21h-42z"/>
<path fill="#bb4e7f" d="M2191 1016h21v21h-21zM2191 1100h21v21h-21zM1898 1205h21v21h-21z"/>
<path fill="#762297" d="M2045 1037h21v21h-21zM2045 1058h21v21h-21zM2087 1058h21v21h-21z"/>
<path fill="#741f97" d="M2066 1037h21v21h-21zM2129 1037h21v21h-21z"/>
<path fill="#731f97" d="M2087 1037h42v21h-42z"/>
<path fill="#bb4677" d="M2212 1037h21v21h-21zM2212 1058h21v21h-21zM1898 1247h21v21h-21z"/>
<path fill="#7c2797" d="M2129 1058h21v21h-21z"/>
<path fill="#bb5989" d="M2191 1058h21v21h-21z"/>
<path fill="#bb4070" d="M2233 1058h21v21h-21z"/>
<path fill="#792597" d="M2087 1079h21v21h-21z"/>
<path fill="#7d2897" d="M2108 1079h21v21h-21zM2087 1100h21v21h-21zM2066 1121h21v21h-21zM2087 1142h21v21h-21zM2024 1163h21v21h-21z"/>
<path fill="#a14d97" d="M2170 1079h21v21h-21zM2066 1205h21v21h-21z"/>
<path fill="#b56097" d="M1898 1163h21v21h-21zM2108 1205h21v21h-21z"/>
<path fill="#ba6597" d="M1877 1184h21v21h-21z"/>
<path fill="#782397" d="M2045 1184h21v21h-21z"/>
<path fill="#752097" d="M2066 1184h21v21h-21z"/>
<path fill="#711d97" d="M2087 1184h21v21h-21z"/>
<path fill="#bb5d8e" d="M2150 1184h20v21h-20z"/>
<path fill="#bb4a7a" d="M1919 1205h21v21h-21zM1961 1247h21v21h-21z"/>
<path fill="#ad5997" d="M1982 1205h21v21h-21z"/>
<path fill="#9f4a97" d="M2045 1205h21v21h-21z"/>
<path fill="#aa5597" d="M2087 1205h21v21h-21z"/>
<path fill="#bb5485" d="M1856 1226h21v21h-21z"/>
<path fill="#bb4c7d" d="M1877 1226h21v21h-21z"/>
<path fill="#bb497a" d="M1898 1226h21v21h-21z"/>
<path fill="#b96497" d="M1961 1226h21v21h-21z"/>
<path fill="#a55197" d="M2045 1226h21v21h-21z"/>
<path fill="#af5a97" d="M2066 1226h21v21h-21z"/>
<path fill="#b96597" d="M2087 1226h21v21h-21z"/>
<path fill="#bb4475" d="M2150 1226h20v21h-20z"/>
<path fill="#8c8cff" d="M1730 1247h21v21h-21z"/>
<path fill="#bb3f6f" d="M1940 1247h21v21h-21z"/>
<path fill="#bb4e7e" d="M1982 1247h21v21h-21z"/></g>
<rect x="15.5" y="53.5" width="670" height="1214" fill="none" stroke="#000" stroke-opacity="0.1" stroke-width="1"/>
<rect x="873.5" y="53.5" width="691" height="1214" fill="none" stroke="#000" stroke-opacity="0.1" stroke-width="1"/>
<rect x="1730.5" y="53.5" width="691" height="1214" fill="none" stroke="#000" stroke-opacity="0.1" stroke-width="1"/>
</g>
<g fill="#000"><circle cx="298.1" cy="176.6" r="1.5"/><circle cx="280.1" cy="189.4" r="1.5"/><circle cx="277.8" cy="196.2" r="1.5"/><circle cx="312.1" cy="189.4" r="1.5"/><circle cx="269.0" cy="210.6" r="1.5"/><circle cx="319.0" cy="210.6" r="1.5"/><circle cx="256.9" cy="227.9" r="1.5"/><circle cx="253.7" cy="231.5" r="1.5"/><circle cx="336.0" cy="231.5" r="1.5"/><circle cx="339.9" cy="244.6" r="1.5"/><circle cx="341.9" cy="252.4" r="1.5"/><circle cx="239.0" cy="252.4" r="1.5"/><circle cx="236.0" cy="258.0" r="1.5"/><circle cx="215.1" cy="270.4" r="1.5"/><circle cx="210.2" cy="274.0" r="1.5"/><circle cx="348.1" cy="274.0" r="1.5"/><circle cx="193.9" cy="285.4" r="1.5"/><circle cx="173.0" cy="292.6" r="1.5"/><circle cx="164.8" cy="294.2" r="1.5"/><circle cx="152.1" cy="295.2" r="1.5"/><circle cx="130.9" cy="296.5" r="1.5"/><circle cx="353.0" cy="294.2" r="1.5"/><circle cx="111.9" cy="315.4" r="1.5"/><circle cx="356.2" cy="315.4" r="1.5"/><circle cx="114.2" cy="336.7" r="1.5"/><circle cx="356.9" cy="336.7" r="1.5"/><circle cx="361.1" cy="352.4" r="1.5"/><circle cx="365.0" cy="357.6" r="1.5"/><circle cx="113.9" cy="357.6" r="1.5"/><circle cx="115.9" cy="378.5" r="1.5"/><circle cx="361.1" cy="378.5" r="1.5"/><circle cx="120.1" cy="399.4" r="1.5"/><circle cx="358.8" cy="399.4" r="1.5"/><circle cx="122.1" cy="420.6" r="1.5"/><circle cx="356.9" cy="420.6" r="1.5"/><circle cx="123.0" cy="441.5" r="1.5"/><circle cx="353.9" cy="441.5" r="1.5"/><circle cx="116.8" cy="461.4" r="1.5"/><circle cx="351.0" cy="461.4" r="1.5"/><circle cx="115.9" cy="482.8" r="1.5"/><circle cx="110.3" cy="504.0" r="1.5"/><circle cx="88.8" cy="520.6" r="1.5"/><circle cx="84.8" cy="524.6" r="1.5"/><circle cx="72.4" cy="546.1" r="1.5"/><circle cx="68.2" cy="550.4" r="1.5"/><circle cx="47.9" cy="567.3" r="1.5"/><circle cx="47.0" cy="571.6" r="1.5"/><circle cx="26.4" cy="571.6" r="1.5"/><circle cx="346.1" cy="482.8" r="1.5"/><circle cx="347.1" cy="504.0" r="1.5"/><circle cx="348.1" cy="524.6" r="1.5"/><circle cx="348.1" cy="545.8" r="1.5"/><circle cx="347.4" cy="566.7" r="1.5"/><circle cx="348.1" cy="587.6" r="1.5"/><circle cx="346.1" cy="608.8" r="1.5"/><circle cx="350.0" cy="629.7" r="1.5"/><circle cx="352.0" cy="650.6" r="1.5"/><circle cx="346.1" cy="671.5" r="1.5"/><circle cx="339.9" cy="688.2" r="1.5"/><circle cx="337.9" cy="692.7" r="1.5"/><circle cx="322.9" cy="714.0" r="1.5"/><circle cx="319.3" cy="719.5" r="1.5"/><circle cx="315.1" cy="734.5" r="1.5"/><circle cx="316.1" cy="755.8" r="1.5"/><circle cx="313.8" cy="776.7" r="1.5"/><circle cx="316.7" cy="797.6" r="1.5"/><circle cx="319.3" cy="811.9" r="1.5"/><circle cx="322.9" cy="818.5" r="1.5"/><circle cx="339.9" cy="833.8" r="1.5"/><circle cx="343.2" cy="839.7" r="1.5"/><circle cx="353.0" cy="860.6" r="1.5"/><circle cx="361.1" cy="877.3" r="1.5"/><circle cx="365.0" cy="880.5" r="1.5"/><circle cx="381.9" cy="898.6" r="1.5"/><circle cx="384.1" cy="901.5" r="1.5"/><circle cx="390.9" cy="922.4" r="1.5"/><circle cx="398.9" cy="943.7" r="1.5"/><circle cx="403.1" cy="952.7" r="1.5"/><circle cx="411.2" cy="964.3" r="1.5"/><circle cx="424.0" cy="980.7" r="1.5"/><circle cx="427.9" cy="985.5" r="1.5"/><circle cx="444.6" cy="1005.4" r="1.5"/><circle cx="446.2" cy="1006.2" r="1.5"/><circle cx="465.9" cy="1015.8" r="1.5"/><circle cx="478.1" cy="1027.7" r="1.5"/><circle cx="481.0" cy="1048.6" r="1.5"/><circle cx="484.9" cy="1069.5" r="1.5"/><circle cx="482.9" cy="1090.4" r="1.5"/><circle cx="478.1" cy="1111.7" r="1.5"/><circle cx="474.2" cy="1132.6" r="1.5"/><circle cx="470.1" cy="1153.5" r="1.5"/><circle cx="465.9" cy="1160.6" r="1.5"/><circle cx="456.9" cy="1174.5" r="1.5"/><circle cx="447.9" cy="1195.7" r="1.5"/><circle cx="444.6" cy="1199.6" r="1.5"/><circle cx="436.9" cy="1216.6" r="1.5"/><circle cx="424.0" cy="1236.6" r="1.5"/><circle cx="421.5" cy="1237.5" r="1.5"/><circle cx="403.1" cy="1238.2" r="1.5"/><circle cx="381.9" cy="1247.5" r="1.5"/><circle cx="360.9" cy="1257.5" r="1.5"/><circle cx="356.8" cy="1258.5" r="1.5"/></g>
<g fill="#000"><circle cx="1155.7" cy="176.6" r="1.5"/><circle cx="1137.7" cy="189.4" r="1.5"/><circle cx="1135.4" cy="196.2" r="1.5"/><circle cx="1169.7" cy="189.4" r="1.5"/><circle cx="1126.6" cy="210.6" r="1.5"/><circle cx="1176.6" cy="210.6" r="1.5"/><circle cx="1114.5" cy="227.9" r="1.5"/><circle cx="1111.3" cy="231.5" r="1.5"/><circle cx="1193.6" cy="231.5" r="1.5"/><circle cx="1197.5" cy="244.6" r="1.5"/><circle cx="1199.5" cy="252.4" r="1.5"/><circle cx="1096.6" cy="252.4" r="1.5"/><circle cx="1093.6" cy="258.0" r="1.5"/><circle cx="1072.7" cy="270.4" r="1.5"/><circle cx="1067.8" cy="274.0" r="1.5"/><circle cx="1205.7" cy="274.0" r="1.5"/><circle cx="1051.5" cy="285.4" r="1.5"/><circle cx="1030.6" cy="292.6" r="1.5"/><circle cx="1022.4" cy="294.2" r="1.5"/><circle cx="1009.7" cy="295.2" r="1.5"/><circle cx="988.5" cy="296.5" r="1.5"/><circle cx="1210.6" cy="294.2" r="1.5"/><circle cx="969.5" cy="315.4" r="1.5"/><circle cx="1213.8" cy="315.4" r="1.5"/><circle cx="971.8" cy="336.7" r="1.5"/><circle cx="1214.5" cy="336.7" r="1.5"/><circle cx="1218.7" cy="352.4" r="1.5"/><circle cx="1222.6" cy="357.6" r="1.5"/><circle cx="971.5" cy="357.6" r="1.5"/><circle cx="973.5" cy="378.5" r="1.5"/><circle cx="1218.7" cy="378.5" r="1.5"/><circle cx="977.7" cy="399.4" r="1.5"/><circle cx="1216.4" cy="399.4" r="1.5"/><circle cx="979.7" cy="420.6" r="1.5"/><circle cx="1214.5" cy="420.6" r="1.5"/><circle cx="980.6" cy="441.5" r="1.5"/><circle cx="1211.5" cy="441.5" r="1.5"/><circle cx="974.4" cy="461.4" r="1.5"/><circle cx="1208.6" cy="461.4" r="1.5"/><circle cx="973.5" cy="482.8" r="1.5"/><circle cx="967.9" cy="504.0" r="1.5"/><circle cx="946.4" cy="520.6" r="1.5"/><circle cx="942.4" cy="524.6" r="1.5"/><circle cx="930.0" cy="546.1" r="1.5"/><circle cx="925.8" cy="550.4" r="1.5"/><circle cx="905.5" cy="567.3" r="1.5"/><circle cx="904.6" cy="571.6" r="1.5"/><circle cx="884.0" cy="571.6" r="1.5"/><circle cx="1203.7" cy="482.8" r="1.5"/><circle cx="1204.7" cy="504.0" r="1.5"/><circle cx="1205.7" cy="524.6" r="1.5"/><circle cx="1205.7" cy="545.8" r="1.5"/><circle cx="1205.0" cy="566.7" r="1.5"/><circle cx="1205.7" cy="587.6" r="1.5"/><circle cx="1203.7" cy="608.8" r="1.5"/><circle cx="1207.6" cy="629.7" r="1.5"/><circle cx="1209.6" cy="650.6" r="1.5"/><circle cx="1203.7" cy="671.5" r="1.5"/><circle cx="1197.5" cy="688.2" r="1.5"/><circle cx="1195.5" cy="692.7" r="1.5"/><circle cx="1180.5" cy="714.0" r="1.5"/><circle cx="1176.9" cy="719.5" r="1.5"/><circle cx="1172.7" cy="734.5" r="1.5"/><circle cx="1173.7" cy="755.8" r="1.5"/><circle cx="1171.4" cy="776.7" r="1.5"/><circle cx="1174.3" cy="797.6" r="1.5"/><circle cx="1176.9" cy="811.9" r="1.5"/><circle cx="1180.5" cy="818.5" r="1.5"/><circle cx="1197.5" cy="833.8" r="1.5"/><circle cx="1200.8" cy="839.7" r="1.5"/><circle cx="1210.6" cy="860.6" r="1.5"/><circle cx="1218.7" cy="877.3" r="1.5"/><circle cx="1222.6" cy="880.5" r="1.5"/><circle cx="1239.5" cy="898.6" r="1.5"/><circle cx="1241.7" cy="901.5" r="1.5"/><circle cx="1248.5" cy="922.4" r="1.5"/><circle cx="1256.5" cy="943.7" r="1.5"/><circle cx="1260.7" cy="952.7" r="1.5"/><circle cx="1268.8" cy="964.3" r="1.5"/><circle cx="1281.6" cy="980.7" r="1.5"/><circle cx="1285.5" cy="985.5" r="1.5"/><circle cx="1302.2" cy="1005.4" r="1.5"/><circle cx="1303.8" cy="1006.2" r="1.5"/><circle cx="1323.5" cy="1015.8" r="1.5"/><circle cx="1335.7" cy="1027.7" r="1.5"/><circle cx="1338.6" cy="1048.6" r="1.5"/><circle cx="1342.5" cy="1069.5" r="1.5"/><circle cx="1340.5" cy="1090.4" r="1.5"/><circle cx="1335.7" cy="1111.7" r="1.5"/><circle cx="1331.8" cy="1132.6" r="1.5"/><circle cx="1327.7" cy="1153.5" r="1.5"/><circle cx="1323.5" cy="1160.6" r="1.5"/><circle cx="1314.5" cy="1174.5" r="1.5"/><circle cx="1305.5" cy="1195.7" r="1.5"/><circle cx="1302.2" cy="1199.6" r="1.5"/><circle cx="1294.5" cy="1216.6" r="1.5"/><circle cx="1281.6" cy="1236.6" r="1.5"/><circle cx="1279.1" cy="1237.5" r="1.5"/><circle cx="1260.7" cy="1238.2" r="1.5"/><circle cx="1239.5" cy="1247.5" r="1.5"/><circle cx="1218.5" cy="1257.5" r="1.5"/><circle cx="1214.4" cy="1258.5" r="1.5"/></g>
<g fill="#000"><circle cx="2013.0" cy="176.6" r="1.5"/><circle cx="1995.0" cy="189.4" r="1.5"/><circle cx="1992.7" cy="196.2" r="1.5"/><circle cx="2027.0" cy="189.4" r="1.5"/><circle cx="1983.9" cy="210.6" r="1.5"/><circle cx="2033.9" cy="210.6" r="1.5"/><circle cx="1971.8" cy="227.9" r="1.5"/><circle cx="1968.6" cy="231.5" r="1.5"/><circle cx="2050.9" cy="231.5" r="1.5"/><circle cx="2054.8" cy="244.6" r="1.5"/><circle cx="2056.8" cy="252.4" r="1.5"/><circle cx="1953.9" cy="252.4" r="1.5"/><circle cx="1950.9" cy="258.0" r="1.5"/><circle cx="1930.0" cy="270.4" r="1.5"/><circle cx="1925.1" cy="274.0" r="1.5"/><circle cx="2063.0" cy="274.0" r="1.5"/><circle cx="1908.8" cy="285.4" r="1.5"/><circle cx="1887.9" cy="292.6" r="1.5"/><circle cx="1879.7" cy="294.2" r="1.5"/><circle cx="1867.0" cy="295.2" r="1.5"/><circle cx="1845.8" cy="296.5" r="1.5"/><circle cx="2067.9" cy="294.2" r="1.5"/><circle cx="1826.8" cy="315.4" r="1.5"/><circle cx="2071.1" cy="315.4" r="1.5"/><circle cx="1829.1" cy="336.7" r="1.5"/><circle cx="2071.8" cy="336.7" r="1.5"/><circle cx="2076.0" cy="352.4" r="1.5"/><circle cx="2079.9" cy="357.6" r="1.5"/><circle cx="1828.8" cy="357.6" r="1.5"/><circle cx="1830.8" cy="378.5" r="1.5"/><circle cx="2076.0" cy="378.5" r="1.5"/><circle cx="1835.0" cy="399.4" r="1.5"/><circle cx="2073.7" cy="399.4" r="1.5"/><circle cx="1837.0" cy="420.6" r="1.5"/><circle cx="2071.8" cy="420.6" r="1.5"/><circle cx="1837.9" cy="441.5" r="1.5"/><circle cx="2068.8" cy="441.5" r="1.5"/><circle cx="1831.7" cy="461.4" r="1.5"/><circle cx="2065.9" cy="461.4" r="1.5"/><circle cx="1830.8" cy="482.8" r="1.5"/><circle cx="1825.2" cy="504.0" r="1.5"/><circle cx="1803.7" cy="520.6" r="1.5"/><circle cx="1799.7" cy="524.6" r="1.5"/><circle cx="1787.3" cy="546.1" r="1.5"/><circle cx="1783.1" cy="550.4" r="1.5"/><circle cx="1762.8" cy="567.3" r="1.5"/><circle cx="1761.9" cy="571.6" r="1.5"/><circle cx="1741.3" cy="571.6" r="1.5"/><circle cx="2061.0" cy="482.8" r="1.5"/><circle cx="2062.0" cy="504.0" r="1.5"/><circle cx="2063.0" cy="524.6" r="1.5"/><circle cx="2063.0" cy="545.8" r="1.5"/><circle cx="2062.3" cy="566.7" r="1.5"/><circle cx="2063.0" cy="587.6" r="1.5"/><circle cx="2061.0" cy="608.8" r="1.5"/><circle cx="2064.9" cy="629.7" r="1.5"/><circle cx="2066.9" cy="650.6" r="1.5"/><circle cx="2061.0" cy="671.5" r="1.5"/><circle cx="2054.8" cy="688.2" r="1.5"/><circle cx="2052.8" cy="692.7" r="1.5"/><circle cx="2037.8" cy="714.0" r="1.5"/><circle cx="2034.2" cy="719.5" r="1.5"/><circle cx="2030.0" cy="734.5" r="1.5"/><circle cx="2031.0" cy="755.8" r="1.5"/><circle cx="2028.7" cy="776.7" r="1.5"/><circle cx="2031.6" cy="797.6" r="1.5"/><circle cx="2034.2" cy="811.9" r="1.5"/><circle cx="2037.8" cy="818.5" r="1.5"/><circle cx="2054.8" cy="833.8" r="1.5"/><circle cx="2058.1" cy="839.7" r="1.5"/><circle cx="2067.9" cy="860.6" r="1.5"/><circle cx="2076.0" cy="877.3" r="1.5"/><circle cx="2079.9" cy="880.5" r="1.5"/><circle cx="2096.8" cy="898.6" r="1.5"/><circle cx="2099.0" cy="901.5" r="1.5"/><circle cx="2105.8" cy="922.4" r="1.5"/><circle cx="2113.8" cy="943.7" r="1.5"/><circle cx="2118.0" cy="952.7" r="1.5"/><circle cx="2126.1" cy="964.3" r="1.5"/><circle cx="2138.9" cy="980.7" r="1.5"/><circle cx="2142.8" cy="985.5" r="1.5"/><circle cx="2159.5" cy="1005.4" r="1.5"/><circle cx="2161.1" cy="1006.2" r="1.5"/><circle cx="2180.8" cy="1015.8" r="1.5"/><circle cx="2193.0" cy="1027.7" r="1.5"/><circle cx="2195.9" cy="1048.6" r="1.5"/><circle cx="2199.8" cy="1069.5" r="1.5"/><circle cx="2197.8" cy="1090.4" r="1.5"/><circle cx="2193.0" cy="1111.7" r="1.5"/><circle cx="2189.1" cy="1132.6" r="1.5"/><circle cx="2185.0" cy="1153.5" r="1.5"/><circle cx="2180.8" cy="1160.6" r="1.5"/><circle cx="2171.8" cy="1174.5" r="1.5"/><circle cx="2162.8" cy="1195.7" r="1.5"/><circle cx="2159.5" cy="1199.6" r="1.5"/><circle cx="2151.8" cy="1216.6" r="1.5"/><circle cx="2138.9" cy="1236.6" r="1.5"/><circle cx="2136.4" cy="1237.5" r="1.5"/><circle cx="2118.0" cy="1238.2" r="1.5"/><circle cx="2096.8" cy="1247.5" r="1.5"/><circle cx="2075.8" cy="1257.5" r="1.5"/><circle cx="2071.7" cy="1258.5" r="1.5"/></g>
<g id="legend">
<rect x="1206.5" y="670.5" width="348.5" height="159" rx="4.5" ry="4.5" fill="#fff" fill-opacity="0.8" stroke="#ccc" stroke-opacity="0.8" stroke-width="1.4"/>
<rect x="1215" y="680" width="43" height="15.6" fill="#ff8c3d"/>
<rect x="1215" y="710.5" width="43" height="15.6" fill="#ccffff"/>
<rect x="1215" y="741" width="43" height="15.6" fill="#005cff"/>
<rect x="1215" y="777.9" width="43.5" height="3.3" fill="#000"/>
<rect x="1215.7" y="802.2" width="41.6" height="14.6" fill="#992a2a" stroke="#8b1a1a" stroke-width="1.4"/>
<g font-size="20.83" fill="#000">
<text x="1274.3" y="695.5">sand</text>
<text x="1274.3" y="726">whitewater</text>
<text x="1274.3" y="756.6">water</text>
<text x="1274.3" y="787.1">shoreline</text>
<text x="1274.3" y="817.6">reference shoreline buffer</text>
</g></g>
<g font-size="33.1" font-weight="bold" text-anchor="middle" fill="#000">
<text x="361" y="40.8">sar2429</text>
<text x="1218.7" y="40.8" font-size="33.25">2000-07-29-09-56-55</text>
<text x="2075.7" y="40.8">L7</text>
</g>
</svg>
</body></html>
